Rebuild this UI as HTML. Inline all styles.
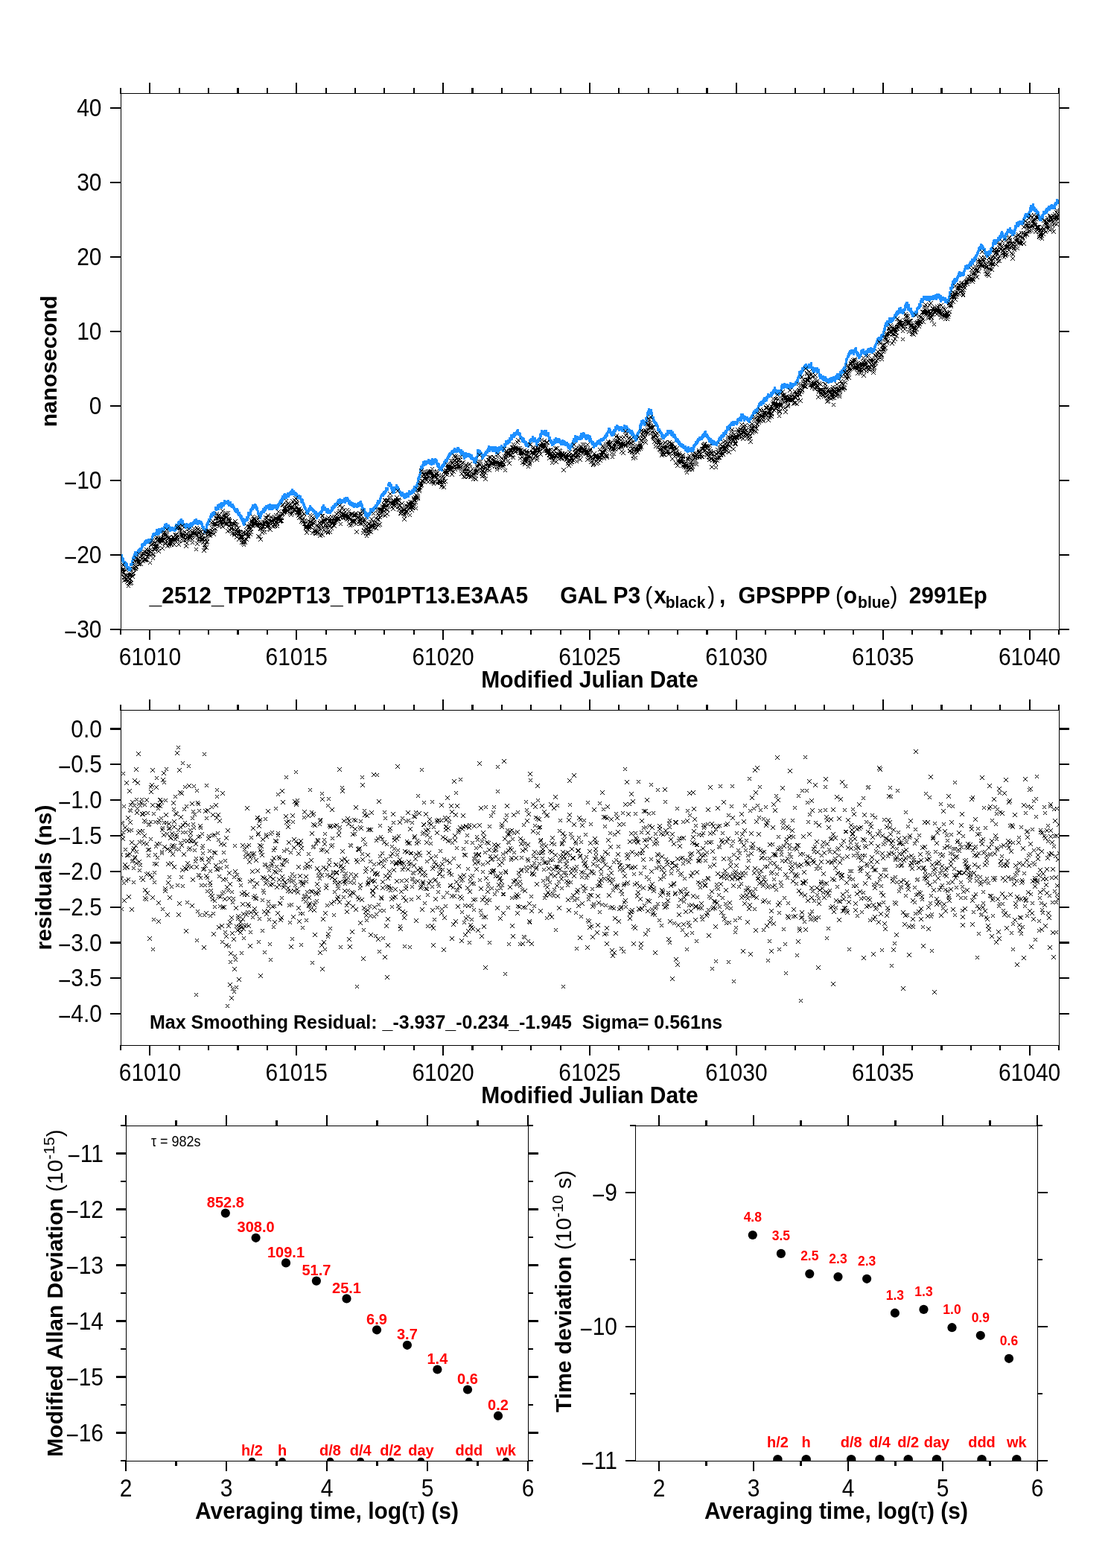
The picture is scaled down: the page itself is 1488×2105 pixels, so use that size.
<!DOCTYPE html>
<html><head><meta charset="utf-8"><title>plot</title><style>html,body{margin:0;padding:0;background:#fff;}svg{display:block;}</style></head><body>
<svg width="1488" height="2105" viewBox="0 0 1488 2105" font-family="'Liberation Sans', Arial, Helvetica, sans-serif">
<rect width="100%" height="100%" fill="#fff"/>
<clipPath id="c1"><rect x="162" y="125" width="1261" height="721"/></clipPath>
<clipPath id="c2"><rect x="162" y="953" width="1261" height="451"/></clipPath>
<path clip-path="url(#c1)" d="M160 744h3v4h-3zM161 744h3v4h-3zM161 744h3v4h-3zM162 744h3v4h-3zM162 747h3v4h-3zM163 748h3v4h-3zM163 749h3v4h-3zM163 750h3v4h-3zM164 749h3v4h-3zM164 752h3v4h-3zM165 754h3v4h-3zM165 753h3v4h-3zM166 753h3v4h-3zM166 753h3v4h-3zM166 755h3v4h-3zM167 757h3v4h-3zM167 754h3v4h-3zM168 755h3v4h-3zM168 756h3v4h-3zM169 756h3v4h-3zM169 759h3v4h-3zM169 760h3v4h-3zM170 760h3v4h-3zM170 760h3v4h-3zM171 762h3v4h-3zM171 760h3v4h-3zM171 762h3v4h-3zM172 762h3v4h-3zM172 763h3v4h-3zM173 763h3v4h-3zM173 763h3v4h-3zM174 762h3v4h-3zM174 761h3v4h-3zM174 756h3v4h-3zM175 756h3v4h-3zM175 756h3v4h-3zM176 755h3v4h-3zM176 752h3v4h-3zM177 754h3v4h-3zM177 749h3v4h-3zM177 748h3v4h-3zM178 749h3v4h-3zM178 746h3v4h-3zM179 743h3v4h-3zM179 743h3v4h-3zM179 746h3v4h-3zM180 743h3v4h-3zM180 740h3v4h-3zM181 742h3v4h-3zM181 742h3v4h-3zM182 742h3v4h-3zM182 741h3v4h-3zM182 741h3v4h-3zM183 740h3v4h-3zM183 743h3v4h-3zM184 739h3v4h-3zM184 738h3v4h-3zM185 739h3v4h-3zM185 738h3v4h-3zM185 737h3v4h-3zM186 738h3v4h-3zM186 736h3v4h-3zM187 736h3v4h-3zM187 737h3v4h-3zM187 735h3v4h-3zM188 736h3v4h-3zM188 735h3v4h-3zM189 730h3v4h-3zM189 733h3v4h-3zM190 731h3v4h-3zM190 729h3v4h-3zM190 731h3v4h-3zM191 729h3v4h-3zM191 729h3v4h-3zM192 729h3v4h-3zM192 728h3v4h-3zM193 729h3v4h-3zM193 728h3v4h-3zM193 726h3v4h-3zM194 725h3v4h-3zM194 727h3v4h-3zM195 726h3v4h-3zM195 725h3v4h-3zM195 724h3v4h-3zM196 724h3v4h-3zM196 726h3v4h-3zM197 726h3v4h-3zM197 725h3v4h-3zM198 724h3v4h-3zM198 726h3v4h-3zM198 723h3v4h-3zM199 724h3v4h-3zM199 723h3v4h-3zM200 726h3v4h-3zM200 725h3v4h-3zM201 723h3v4h-3zM201 725h3v4h-3zM201 724h3v4h-3zM202 723h3v4h-3zM202 724h3v4h-3zM203 719h3v4h-3zM203 720h3v4h-3zM203 719h3v4h-3zM204 716h3v4h-3zM204 717h3v4h-3zM205 715h3v4h-3zM205 715h3v4h-3zM206 716h3v4h-3zM206 716h3v4h-3zM206 715h3v4h-3zM207 715h3v4h-3zM207 715h3v4h-3zM208 715h3v4h-3zM208 714h3v4h-3zM209 715h3v4h-3zM209 710h3v4h-3zM209 714h3v4h-3zM210 712h3v4h-3zM210 715h3v4h-3zM211 712h3v4h-3zM211 710h3v4h-3zM211 711h3v4h-3zM212 709h3v4h-3zM212 714h3v4h-3zM213 710h3v4h-3zM213 709h3v4h-3zM214 711h3v4h-3zM214 711h3v4h-3zM214 709h3v4h-3zM215 712h3v4h-3zM215 710h3v4h-3zM216 708h3v4h-3zM216 708h3v4h-3zM217 709h3v4h-3zM217 708h3v4h-3zM217 710h3v4h-3zM218 708h3v4h-3zM218 709h3v4h-3zM219 708h3v4h-3zM219 706h3v4h-3zM219 707h3v4h-3zM220 703h3v4h-3zM220 705h3v4h-3zM221 705h3v4h-3zM221 705h3v4h-3zM222 704h3v4h-3zM222 702h3v4h-3zM222 703h3v4h-3zM223 706h3v4h-3zM223 707h3v4h-3zM224 704h3v4h-3zM224 705h3v4h-3zM225 706h3v4h-3zM225 704h3v4h-3zM225 708h3v4h-3zM226 708h3v4h-3zM226 706h3v4h-3zM227 709h3v4h-3zM227 710h3v4h-3zM228 708h3v4h-3zM228 708h3v4h-3zM228 708h3v4h-3zM229 707h3v4h-3zM229 707h3v4h-3zM230 709h3v4h-3zM230 709h3v4h-3zM230 707h3v4h-3zM231 708h3v4h-3zM231 708h3v4h-3zM232 709h3v4h-3zM232 709h3v4h-3zM233 708h3v4h-3zM233 708h3v4h-3zM233 710h3v4h-3zM234 709h3v4h-3zM234 706h3v4h-3zM235 708h3v4h-3zM235 703h3v4h-3zM236 706h3v4h-3zM236 703h3v4h-3zM236 704h3v4h-3zM237 704h3v4h-3zM237 704h3v4h-3zM238 705h3v4h-3zM238 702h3v4h-3zM238 700h3v4h-3zM239 702h3v4h-3zM239 699h3v4h-3zM240 700h3v4h-3zM240 700h3v4h-3zM241 698h3v4h-3zM241 697h3v4h-3zM241 700h3v4h-3zM242 696h3v4h-3zM242 698h3v4h-3zM243 701h3v4h-3zM243 701h3v4h-3zM244 698h3v4h-3zM244 701h3v4h-3zM244 702h3v4h-3zM245 702h3v4h-3zM245 703h3v4h-3zM246 704h3v4h-3zM246 704h3v4h-3zM246 704h3v4h-3zM247 703h3v4h-3zM247 704h3v4h-3zM248 703h3v4h-3zM248 706h3v4h-3zM249 703h3v4h-3zM249 702h3v4h-3zM249 704h3v4h-3zM250 703h3v4h-3zM250 705h3v4h-3zM251 703h3v4h-3zM251 705h3v4h-3zM252 705h3v4h-3zM252 703h3v4h-3zM252 707h3v4h-3zM253 703h3v4h-3zM253 704h3v4h-3zM254 706h3v4h-3zM254 702h3v4h-3zM254 703h3v4h-3zM255 702h3v4h-3zM255 701h3v4h-3zM256 701h3v4h-3zM256 704h3v4h-3zM257 702h3v4h-3zM257 701h3v4h-3zM257 702h3v4h-3zM258 701h3v4h-3zM258 700h3v4h-3zM259 700h3v4h-3zM259 699h3v4h-3zM260 698h3v4h-3zM260 700h3v4h-3zM260 697h3v4h-3zM261 698h3v4h-3zM261 700h3v4h-3zM262 698h3v4h-3zM262 696h3v4h-3zM262 700h3v4h-3zM263 699h3v4h-3zM263 700h3v4h-3zM264 699h3v4h-3zM264 701h3v4h-3zM265 698h3v4h-3zM265 698h3v4h-3zM265 699h3v4h-3zM266 698h3v4h-3zM266 700h3v4h-3zM267 700h3v4h-3zM267 699h3v4h-3zM268 699h3v4h-3zM268 700h3v4h-3zM268 700h3v4h-3zM269 700h3v4h-3zM269 701h3v4h-3zM270 703h3v4h-3zM270 702h3v4h-3zM270 704h3v4h-3zM271 706h3v4h-3zM271 706h3v4h-3zM272 707h3v4h-3zM272 706h3v4h-3zM273 710h3v4h-3zM273 711h3v4h-3zM273 712h3v4h-3zM274 712h3v4h-3zM274 711h3v4h-3zM275 710h3v4h-3zM275 709h3v4h-3zM276 706h3v4h-3zM276 707h3v4h-3zM276 703h3v4h-3zM277 701h3v4h-3zM277 702h3v4h-3zM278 701h3v4h-3zM278 701h3v4h-3zM278 699h3v4h-3zM279 698h3v4h-3zM279 696h3v4h-3zM280 696h3v4h-3zM280 697h3v4h-3zM281 694h3v4h-3zM281 692h3v4h-3zM281 693h3v4h-3zM282 690h3v4h-3zM282 689h3v4h-3zM283 691h3v4h-3zM283 689h3v4h-3zM284 687h3v4h-3zM284 689h3v4h-3zM284 688h3v4h-3zM285 688h3v4h-3zM285 687h3v4h-3zM286 688h3v4h-3zM286 687h3v4h-3zM286 686h3v4h-3zM287 687h3v4h-3zM287 687h3v4h-3zM288 681h3v4h-3zM288 680h3v4h-3zM289 681h3v4h-3zM289 682h3v4h-3zM289 682h3v4h-3zM290 681h3v4h-3zM290 681h3v4h-3zM291 677h3v4h-3zM291 678h3v4h-3zM292 681h3v4h-3zM292 677h3v4h-3zM292 677h3v4h-3zM293 676h3v4h-3zM293 676h3v4h-3zM294 677h3v4h-3zM294 677h3v4h-3zM295 675h3v4h-3zM295 678h3v4h-3zM295 677h3v4h-3zM296 674h3v4h-3zM296 679h3v4h-3zM297 675h3v4h-3zM297 676h3v4h-3zM297 677h3v4h-3zM298 676h3v4h-3zM298 674h3v4h-3zM299 675h3v4h-3zM299 676h3v4h-3zM300 674h3v4h-3zM300 673h3v4h-3zM300 671h3v4h-3zM301 673h3v4h-3zM301 672h3v4h-3zM302 673h3v4h-3zM302 673h3v4h-3zM303 672h3v4h-3zM303 673h3v4h-3zM303 673h3v4h-3zM304 672h3v4h-3zM304 672h3v4h-3zM305 671h3v4h-3zM305 673h3v4h-3zM305 674h3v4h-3zM306 675h3v4h-3zM306 676h3v4h-3zM307 675h3v4h-3zM307 674h3v4h-3zM308 674h3v4h-3zM308 673h3v4h-3zM308 675h3v4h-3zM309 676h3v4h-3zM309 677h3v4h-3zM310 678h3v4h-3zM310 678h3v4h-3zM311 676h3v4h-3zM311 678h3v4h-3zM311 677h3v4h-3zM312 678h3v4h-3zM312 679h3v4h-3zM313 680h3v4h-3zM313 681h3v4h-3zM313 681h3v4h-3zM314 682h3v4h-3zM314 683h3v4h-3zM315 684h3v4h-3zM315 683h3v4h-3zM316 683h3v4h-3zM316 685h3v4h-3zM316 683h3v4h-3zM317 682h3v4h-3zM317 685h3v4h-3zM318 684h3v4h-3zM318 687h3v4h-3zM319 688h3v4h-3zM319 689h3v4h-3zM319 687h3v4h-3zM320 687h3v4h-3zM320 688h3v4h-3zM321 691h3v4h-3zM321 691h3v4h-3zM321 690h3v4h-3zM322 691h3v4h-3zM322 693h3v4h-3zM323 692h3v4h-3zM323 695h3v4h-3zM324 696h3v4h-3zM324 695h3v4h-3zM324 697h3v4h-3zM325 695h3v4h-3zM325 700h3v4h-3zM326 699h3v4h-3zM326 702h3v4h-3zM327 701h3v4h-3zM327 701h3v4h-3zM327 699h3v4h-3zM328 697h3v4h-3zM328 696h3v4h-3zM329 696h3v4h-3zM329 696h3v4h-3zM329 696h3v4h-3zM330 696h3v4h-3zM330 693h3v4h-3zM331 693h3v4h-3zM331 695h3v4h-3zM332 691h3v4h-3zM332 692h3v4h-3zM332 687h3v4h-3zM333 688h3v4h-3zM333 689h3v4h-3zM334 688h3v4h-3zM334 688h3v4h-3zM335 687h3v4h-3zM335 684h3v4h-3zM335 683h3v4h-3zM336 682h3v4h-3zM336 683h3v4h-3zM337 681h3v4h-3zM337 681h3v4h-3zM337 680h3v4h-3zM338 677h3v4h-3zM338 681h3v4h-3zM339 677h3v4h-3zM339 678h3v4h-3zM340 679h3v4h-3zM340 678h3v4h-3zM340 678h3v4h-3zM341 676h3v4h-3zM341 676h3v4h-3zM342 678h3v4h-3zM342 677h3v4h-3zM343 679h3v4h-3zM343 681h3v4h-3zM343 680h3v4h-3zM344 681h3v4h-3zM344 682h3v4h-3zM345 685h3v4h-3zM345 686h3v4h-3zM345 687h3v4h-3zM346 688h3v4h-3zM346 689h3v4h-3zM347 689h3v4h-3zM347 691h3v4h-3zM348 692h3v4h-3zM348 693h3v4h-3zM348 688h3v4h-3zM349 690h3v4h-3zM349 686h3v4h-3zM350 687h3v4h-3zM350 686h3v4h-3zM351 685h3v4h-3zM351 685h3v4h-3zM351 685h3v4h-3zM352 684h3v4h-3zM352 682h3v4h-3zM353 683h3v4h-3zM353 685h3v4h-3zM354 681h3v4h-3zM354 683h3v4h-3zM354 680h3v4h-3zM355 682h3v4h-3zM355 682h3v4h-3zM356 680h3v4h-3zM356 680h3v4h-3zM356 678h3v4h-3zM357 678h3v4h-3zM357 679h3v4h-3zM358 679h3v4h-3zM358 679h3v4h-3zM359 678h3v4h-3zM359 678h3v4h-3zM359 677h3v4h-3zM360 681h3v4h-3zM360 677h3v4h-3zM361 679h3v4h-3zM361 676h3v4h-3zM362 677h3v4h-3zM362 677h3v4h-3zM362 681h3v4h-3zM363 678h3v4h-3zM363 679h3v4h-3zM364 678h3v4h-3zM364 678h3v4h-3zM364 681h3v4h-3zM365 680h3v4h-3zM365 677h3v4h-3zM366 679h3v4h-3zM366 677h3v4h-3zM367 678h3v4h-3zM367 677h3v4h-3zM367 678h3v4h-3zM368 679h3v4h-3zM368 677h3v4h-3zM369 677h3v4h-3zM369 678h3v4h-3zM370 680h3v4h-3zM370 681h3v4h-3zM370 679h3v4h-3zM371 680h3v4h-3zM371 679h3v4h-3zM372 678h3v4h-3zM372 676h3v4h-3zM372 678h3v4h-3zM373 676h3v4h-3zM373 675h3v4h-3zM374 674h3v4h-3zM374 673h3v4h-3zM375 674h3v4h-3zM375 673h3v4h-3zM375 671h3v4h-3zM376 672h3v4h-3zM376 670h3v4h-3zM377 672h3v4h-3zM377 668h3v4h-3zM378 669h3v4h-3zM378 669h3v4h-3zM378 665h3v4h-3zM379 667h3v4h-3zM379 666h3v4h-3zM380 667h3v4h-3zM380 663h3v4h-3zM380 663h3v4h-3zM381 662h3v4h-3zM381 664h3v4h-3zM382 663h3v4h-3zM382 664h3v4h-3zM383 666h3v4h-3zM383 664h3v4h-3zM383 663h3v4h-3zM384 663h3v4h-3zM384 663h3v4h-3zM385 661h3v4h-3zM385 662h3v4h-3zM386 662h3v4h-3zM386 664h3v4h-3zM386 661h3v4h-3zM387 662h3v4h-3zM387 661h3v4h-3zM388 660h3v4h-3zM388 660h3v4h-3zM388 660h3v4h-3zM389 661h3v4h-3zM389 659h3v4h-3zM390 660h3v4h-3zM390 658h3v4h-3zM391 656h3v4h-3zM391 658h3v4h-3zM391 658h3v4h-3zM392 659h3v4h-3zM392 661h3v4h-3zM393 660h3v4h-3zM393 658h3v4h-3zM394 660h3v4h-3zM394 660h3v4h-3zM394 660h3v4h-3zM395 660h3v4h-3zM395 662h3v4h-3zM396 662h3v4h-3zM396 663h3v4h-3zM396 661h3v4h-3zM397 662h3v4h-3zM397 662h3v4h-3zM398 665h3v4h-3zM398 665h3v4h-3zM399 666h3v4h-3zM399 666h3v4h-3zM399 666h3v4h-3zM400 664h3v4h-3zM400 666h3v4h-3zM401 666h3v4h-3zM401 666h3v4h-3zM402 665h3v4h-3zM402 666h3v4h-3zM402 667h3v4h-3zM403 671h3v4h-3zM403 669h3v4h-3zM404 669h3v4h-3zM404 672h3v4h-3zM404 669h3v4h-3zM405 670h3v4h-3zM405 671h3v4h-3zM406 674h3v4h-3zM406 675h3v4h-3zM407 676h3v4h-3zM407 677h3v4h-3zM407 678h3v4h-3zM408 679h3v4h-3zM408 680h3v4h-3zM409 681h3v4h-3zM409 681h3v4h-3zM410 684h3v4h-3zM410 684h3v4h-3zM410 686h3v4h-3zM411 685h3v4h-3zM411 687h3v4h-3zM412 687h3v4h-3zM412 685h3v4h-3zM413 684h3v4h-3zM413 682h3v4h-3zM413 683h3v4h-3zM414 681h3v4h-3zM414 682h3v4h-3zM415 680h3v4h-3zM415 679h3v4h-3zM415 678h3v4h-3zM416 680h3v4h-3zM416 682h3v4h-3zM417 681h3v4h-3zM417 681h3v4h-3zM418 682h3v4h-3zM418 682h3v4h-3zM418 682h3v4h-3zM419 683h3v4h-3zM419 684h3v4h-3zM420 684h3v4h-3zM420 684h3v4h-3zM421 685h3v4h-3zM421 687h3v4h-3zM421 686h3v4h-3zM422 687h3v4h-3zM422 687h3v4h-3zM423 686h3v4h-3zM423 689h3v4h-3zM423 691h3v4h-3zM424 689h3v4h-3zM424 693h3v4h-3zM425 691h3v4h-3zM425 690h3v4h-3zM426 689h3v4h-3zM426 688h3v4h-3zM426 690h3v4h-3zM427 689h3v4h-3zM427 689h3v4h-3zM428 687h3v4h-3zM428 687h3v4h-3zM429 687h3v4h-3zM429 686h3v4h-3zM429 686h3v4h-3zM430 687h3v4h-3zM430 685h3v4h-3zM431 684h3v4h-3zM431 683h3v4h-3zM431 680h3v4h-3zM432 680h3v4h-3zM432 679h3v4h-3zM433 677h3v4h-3zM433 681h3v4h-3zM434 681h3v4h-3zM434 680h3v4h-3zM434 682h3v4h-3zM435 680h3v4h-3zM435 680h3v4h-3zM436 682h3v4h-3zM436 682h3v4h-3zM437 684h3v4h-3zM437 683h3v4h-3zM437 685h3v4h-3zM438 684h3v4h-3zM438 684h3v4h-3zM439 686h3v4h-3zM439 684h3v4h-3zM439 682h3v4h-3zM440 684h3v4h-3zM440 684h3v4h-3zM441 685h3v4h-3zM441 684h3v4h-3zM442 686h3v4h-3zM442 684h3v4h-3zM442 684h3v4h-3zM443 684h3v4h-3zM443 684h3v4h-3zM444 683h3v4h-3zM444 680h3v4h-3zM445 682h3v4h-3zM445 682h3v4h-3zM445 681h3v4h-3zM446 680h3v4h-3zM446 678h3v4h-3zM447 679h3v4h-3zM447 679h3v4h-3zM447 679h3v4h-3zM448 678h3v4h-3zM448 676h3v4h-3zM449 675h3v4h-3zM449 676h3v4h-3zM450 676h3v4h-3zM450 676h3v4h-3zM450 675h3v4h-3zM451 675h3v4h-3zM451 674h3v4h-3zM452 674h3v4h-3zM452 672h3v4h-3zM453 672h3v4h-3zM453 673h3v4h-3zM453 670h3v4h-3zM454 670h3v4h-3zM454 672h3v4h-3zM455 670h3v4h-3zM455 670h3v4h-3zM455 669h3v4h-3zM456 673h3v4h-3zM456 671h3v4h-3zM457 670h3v4h-3zM457 671h3v4h-3zM458 672h3v4h-3zM458 670h3v4h-3zM458 670h3v4h-3zM459 671h3v4h-3zM459 671h3v4h-3zM460 671h3v4h-3zM460 671h3v4h-3zM461 668h3v4h-3zM461 670h3v4h-3zM461 670h3v4h-3zM462 670h3v4h-3zM462 672h3v4h-3zM463 670h3v4h-3zM463 669h3v4h-3zM463 667h3v4h-3zM464 668h3v4h-3zM464 669h3v4h-3zM465 667h3v4h-3zM465 670h3v4h-3zM466 670h3v4h-3zM466 670h3v4h-3zM466 669h3v4h-3zM467 673h3v4h-3zM467 673h3v4h-3zM468 674h3v4h-3zM468 671h3v4h-3zM469 675h3v4h-3zM469 673h3v4h-3zM469 673h3v4h-3zM470 674h3v4h-3zM470 673h3v4h-3zM471 675h3v4h-3zM471 674h3v4h-3zM471 676h3v4h-3zM472 675h3v4h-3zM472 674h3v4h-3zM473 675h3v4h-3zM473 677h3v4h-3zM474 677h3v4h-3zM474 677h3v4h-3zM474 678h3v4h-3zM475 676h3v4h-3zM475 675h3v4h-3zM476 676h3v4h-3zM476 676h3v4h-3zM477 676h3v4h-3zM477 677h3v4h-3zM477 676h3v4h-3zM478 678h3v4h-3zM478 676h3v4h-3zM479 675h3v4h-3zM479 676h3v4h-3zM480 674h3v4h-3zM480 677h3v4h-3zM480 674h3v4h-3zM481 676h3v4h-3zM481 674h3v4h-3zM482 675h3v4h-3zM482 673h3v4h-3zM482 674h3v4h-3zM483 672h3v4h-3zM483 676h3v4h-3zM484 675h3v4h-3zM484 677h3v4h-3zM485 677h3v4h-3zM485 680h3v4h-3zM485 678h3v4h-3zM486 681h3v4h-3zM486 683h3v4h-3zM487 683h3v4h-3zM487 682h3v4h-3zM488 682h3v4h-3zM488 685h3v4h-3zM488 686h3v4h-3zM489 686h3v4h-3zM489 689h3v4h-3zM490 687h3v4h-3zM490 690h3v4h-3zM490 689h3v4h-3zM491 690h3v4h-3zM491 691h3v4h-3zM492 693h3v4h-3zM492 690h3v4h-3zM493 688h3v4h-3zM493 690h3v4h-3zM493 688h3v4h-3zM494 688h3v4h-3zM494 689h3v4h-3zM495 688h3v4h-3zM495 687h3v4h-3zM496 686h3v4h-3zM496 685h3v4h-3zM496 682h3v4h-3zM497 684h3v4h-3zM497 684h3v4h-3zM498 684h3v4h-3zM498 682h3v4h-3zM498 685h3v4h-3zM499 683h3v4h-3zM499 682h3v4h-3zM500 683h3v4h-3zM500 681h3v4h-3zM501 681h3v4h-3zM501 680h3v4h-3zM501 680h3v4h-3zM502 679h3v4h-3zM502 680h3v4h-3zM503 680h3v4h-3zM503 677h3v4h-3zM504 679h3v4h-3zM504 677h3v4h-3zM504 679h3v4h-3zM505 674h3v4h-3zM505 676h3v4h-3zM506 674h3v4h-3zM506 674h3v4h-3zM506 671h3v4h-3zM507 671h3v4h-3zM507 673h3v4h-3zM508 672h3v4h-3zM508 671h3v4h-3zM509 670h3v4h-3zM509 668h3v4h-3zM509 670h3v4h-3zM510 666h3v4h-3zM510 665h3v4h-3zM511 663h3v4h-3zM511 663h3v4h-3zM512 663h3v4h-3zM512 663h3v4h-3zM512 662h3v4h-3zM513 661h3v4h-3zM513 663h3v4h-3zM514 661h3v4h-3zM514 660h3v4h-3zM514 659h3v4h-3zM515 660h3v4h-3zM515 659h3v4h-3zM516 659h3v4h-3zM516 658h3v4h-3zM517 657h3v4h-3zM517 654h3v4h-3zM517 654h3v4h-3zM518 655h3v4h-3zM518 654h3v4h-3zM519 654h3v4h-3zM519 655h3v4h-3zM520 649h3v4h-3zM520 649h3v4h-3zM520 649h3v4h-3zM521 649h3v4h-3zM521 647h3v4h-3zM522 647h3v4h-3zM522 647h3v4h-3zM522 650h3v4h-3zM523 649h3v4h-3zM523 650h3v4h-3zM524 650h3v4h-3zM524 653h3v4h-3zM525 653h3v4h-3zM525 655h3v4h-3zM525 656h3v4h-3zM526 657h3v4h-3zM526 659h3v4h-3zM527 658h3v4h-3zM527 659h3v4h-3zM528 658h3v4h-3zM528 657h3v4h-3zM528 653h3v4h-3zM529 655h3v4h-3zM529 654h3v4h-3zM530 653h3v4h-3zM530 654h3v4h-3zM530 653h3v4h-3zM531 650h3v4h-3zM531 652h3v4h-3zM532 652h3v4h-3zM532 654h3v4h-3zM533 653h3v4h-3zM533 653h3v4h-3zM533 654h3v4h-3zM534 655h3v4h-3zM534 655h3v4h-3zM535 658h3v4h-3zM535 658h3v4h-3zM536 659h3v4h-3zM536 660h3v4h-3zM536 660h3v4h-3zM537 662h3v4h-3zM537 661h3v4h-3zM538 663h3v4h-3zM538 663h3v4h-3zM538 662h3v4h-3zM539 660h3v4h-3zM539 662h3v4h-3zM540 663h3v4h-3zM540 663h3v4h-3zM541 663h3v4h-3zM541 662h3v4h-3zM541 665h3v4h-3zM542 666h3v4h-3zM542 664h3v4h-3zM543 665h3v4h-3zM543 664h3v4h-3zM544 662h3v4h-3zM544 665h3v4h-3zM544 664h3v4h-3zM545 663h3v4h-3zM545 661h3v4h-3zM546 662h3v4h-3zM546 663h3v4h-3zM547 662h3v4h-3zM547 664h3v4h-3zM547 663h3v4h-3zM548 661h3v4h-3zM548 658h3v4h-3zM549 659h3v4h-3zM549 661h3v4h-3zM549 659h3v4h-3zM550 660h3v4h-3zM550 660h3v4h-3zM551 660h3v4h-3zM551 660h3v4h-3zM552 659h3v4h-3zM552 657h3v4h-3zM552 659h3v4h-3zM553 657h3v4h-3zM553 657h3v4h-3zM554 658h3v4h-3zM554 655h3v4h-3zM555 652h3v4h-3zM555 654h3v4h-3zM555 655h3v4h-3zM556 655h3v4h-3zM556 655h3v4h-3zM557 656h3v4h-3zM557 655h3v4h-3zM557 652h3v4h-3zM558 650h3v4h-3zM558 651h3v4h-3zM559 649h3v4h-3zM559 647h3v4h-3zM560 645h3v4h-3zM560 641h3v4h-3zM560 643h3v4h-3zM561 641h3v4h-3zM561 639h3v4h-3zM562 638h3v4h-3zM562 636h3v4h-3zM563 634h3v4h-3zM563 631h3v4h-3zM563 629h3v4h-3zM564 628h3v4h-3zM564 625h3v4h-3zM565 625h3v4h-3zM565 626h3v4h-3zM565 625h3v4h-3zM566 623h3v4h-3zM566 625h3v4h-3zM567 622h3v4h-3zM567 619h3v4h-3zM568 622h3v4h-3zM568 620h3v4h-3zM568 622h3v4h-3zM569 620h3v4h-3zM569 618h3v4h-3zM570 621h3v4h-3zM570 621h3v4h-3zM571 620h3v4h-3zM571 619h3v4h-3zM571 619h3v4h-3zM572 619h3v4h-3zM572 618h3v4h-3zM573 618h3v4h-3zM573 618h3v4h-3zM573 618h3v4h-3zM574 616h3v4h-3zM574 617h3v4h-3zM575 619h3v4h-3zM575 618h3v4h-3zM576 620h3v4h-3zM576 617h3v4h-3zM576 619h3v4h-3zM577 619h3v4h-3zM577 618h3v4h-3zM578 617h3v4h-3zM578 621h3v4h-3zM579 615h3v4h-3zM579 619h3v4h-3zM579 618h3v4h-3zM580 619h3v4h-3zM580 619h3v4h-3zM581 618h3v4h-3zM581 616h3v4h-3zM581 620h3v4h-3zM582 618h3v4h-3zM582 618h3v4h-3zM583 618h3v4h-3zM583 615h3v4h-3zM584 616h3v4h-3zM584 618h3v4h-3zM584 618h3v4h-3zM585 617h3v4h-3zM585 620h3v4h-3zM586 621h3v4h-3zM586 623h3v4h-3zM587 624h3v4h-3zM587 621h3v4h-3zM587 623h3v4h-3zM588 625h3v4h-3zM588 622h3v4h-3zM589 626h3v4h-3zM589 626h3v4h-3zM589 628h3v4h-3zM590 626h3v4h-3zM590 628h3v4h-3zM591 627h3v4h-3zM591 627h3v4h-3zM592 629h3v4h-3zM592 627h3v4h-3zM592 624h3v4h-3zM593 624h3v4h-3zM593 623h3v4h-3zM594 622h3v4h-3zM594 623h3v4h-3zM595 622h3v4h-3zM595 621h3v4h-3zM595 619h3v4h-3zM596 620h3v4h-3zM596 618h3v4h-3zM597 618h3v4h-3zM597 618h3v4h-3zM597 616h3v4h-3zM598 616h3v4h-3zM598 617h3v4h-3zM599 614h3v4h-3zM599 616h3v4h-3zM600 613h3v4h-3zM600 613h3v4h-3zM600 612h3v4h-3zM601 611h3v4h-3zM601 610h3v4h-3zM602 610h3v4h-3zM602 608h3v4h-3zM603 608h3v4h-3zM603 607h3v4h-3zM603 608h3v4h-3zM604 607h3v4h-3zM604 607h3v4h-3zM605 605h3v4h-3zM605 606h3v4h-3zM606 606h3v4h-3zM606 605h3v4h-3zM606 604h3v4h-3zM607 605h3v4h-3zM607 605h3v4h-3zM608 604h3v4h-3zM608 603h3v4h-3zM608 603h3v4h-3zM609 601h3v4h-3zM609 602h3v4h-3zM610 602h3v4h-3zM610 603h3v4h-3zM611 602h3v4h-3zM611 602h3v4h-3zM611 604h3v4h-3zM612 604h3v4h-3zM612 602h3v4h-3zM613 600h3v4h-3zM613 602h3v4h-3zM614 602h3v4h-3zM614 600h3v4h-3zM614 603h3v4h-3zM615 602h3v4h-3zM615 602h3v4h-3zM616 603h3v4h-3zM616 604h3v4h-3zM616 603h3v4h-3zM617 604h3v4h-3zM617 605h3v4h-3zM618 608h3v4h-3zM618 603h3v4h-3zM619 605h3v4h-3zM619 606h3v4h-3zM619 606h3v4h-3zM620 606h3v4h-3zM620 605h3v4h-3zM621 608h3v4h-3zM621 610h3v4h-3zM622 613h3v4h-3zM622 613h3v4h-3zM622 610h3v4h-3zM623 610h3v4h-3zM623 607h3v4h-3zM624 607h3v4h-3zM624 609h3v4h-3zM624 611h3v4h-3zM625 608h3v4h-3zM625 608h3v4h-3zM626 608h3v4h-3zM626 608h3v4h-3zM627 609h3v4h-3zM627 610h3v4h-3zM627 609h3v4h-3zM628 608h3v4h-3zM628 609h3v4h-3zM629 609h3v4h-3zM629 610h3v4h-3zM630 609h3v4h-3zM630 611h3v4h-3zM630 610h3v4h-3zM631 610h3v4h-3zM631 613h3v4h-3zM632 611h3v4h-3zM632 612h3v4h-3zM632 610h3v4h-3zM633 613h3v4h-3zM633 614h3v4h-3zM634 614h3v4h-3zM634 614h3v4h-3zM635 614h3v4h-3zM635 615h3v4h-3zM635 618h3v4h-3zM636 616h3v4h-3zM636 618h3v4h-3zM637 619h3v4h-3zM637 617h3v4h-3zM638 618h3v4h-3zM638 614h3v4h-3zM638 613h3v4h-3zM639 612h3v4h-3zM639 612h3v4h-3zM640 608h3v4h-3zM640 606h3v4h-3zM640 603h3v4h-3zM641 603h3v4h-3zM641 604h3v4h-3zM642 604h3v4h-3zM642 605h3v4h-3zM643 604h3v4h-3zM643 607h3v4h-3zM643 607h3v4h-3zM644 606h3v4h-3zM644 607h3v4h-3zM645 607h3v4h-3zM645 607h3v4h-3zM646 609h3v4h-3zM646 613h3v4h-3zM646 611h3v4h-3zM647 611h3v4h-3zM647 612h3v4h-3zM648 610h3v4h-3zM648 610h3v4h-3zM648 609h3v4h-3zM649 609h3v4h-3zM649 609h3v4h-3zM650 607h3v4h-3zM650 607h3v4h-3zM651 605h3v4h-3zM651 608h3v4h-3zM651 607h3v4h-3zM652 605h3v4h-3zM652 605h3v4h-3zM653 605h3v4h-3zM653 603h3v4h-3zM654 603h3v4h-3zM654 601h3v4h-3zM654 602h3v4h-3zM655 601h3v4h-3zM655 598h3v4h-3zM656 600h3v4h-3zM656 600h3v4h-3zM656 603h3v4h-3zM657 599h3v4h-3zM657 600h3v4h-3zM658 600h3v4h-3zM658 599h3v4h-3zM659 601h3v4h-3zM659 600h3v4h-3zM659 600h3v4h-3zM660 603h3v4h-3zM660 600h3v4h-3zM661 602h3v4h-3zM661 599h3v4h-3zM662 601h3v4h-3zM662 600h3v4h-3zM662 600h3v4h-3zM663 602h3v4h-3zM663 603h3v4h-3zM664 602h3v4h-3zM664 599h3v4h-3zM665 603h3v4h-3zM665 603h3v4h-3zM665 606h3v4h-3zM666 604h3v4h-3zM666 600h3v4h-3zM667 604h3v4h-3zM667 605h3v4h-3zM667 602h3v4h-3zM668 603h3v4h-3zM668 601h3v4h-3zM669 599h3v4h-3zM669 602h3v4h-3zM670 599h3v4h-3zM670 601h3v4h-3zM670 600h3v4h-3zM671 599h3v4h-3zM671 599h3v4h-3zM672 597h3v4h-3zM672 600h3v4h-3zM673 600h3v4h-3zM673 600h3v4h-3zM673 601h3v4h-3zM674 601h3v4h-3zM674 603h3v4h-3zM675 600h3v4h-3zM675 599h3v4h-3zM675 601h3v4h-3zM676 598h3v4h-3zM676 595h3v4h-3zM677 596h3v4h-3zM677 595h3v4h-3zM678 594h3v4h-3zM678 594h3v4h-3zM678 591h3v4h-3zM679 592h3v4h-3zM679 593h3v4h-3zM680 593h3v4h-3zM680 593h3v4h-3zM681 592h3v4h-3zM681 592h3v4h-3zM681 590h3v4h-3zM682 590h3v4h-3zM682 590h3v4h-3zM683 591h3v4h-3zM683 588h3v4h-3zM683 587h3v4h-3zM684 588h3v4h-3zM684 588h3v4h-3zM685 583h3v4h-3zM685 585h3v4h-3zM686 587h3v4h-3zM686 584h3v4h-3zM686 585h3v4h-3zM687 583h3v4h-3zM687 583h3v4h-3zM688 584h3v4h-3zM688 582h3v4h-3zM689 584h3v4h-3zM689 584h3v4h-3zM689 580h3v4h-3zM690 581h3v4h-3zM690 582h3v4h-3zM691 580h3v4h-3zM691 580h3v4h-3zM691 581h3v4h-3zM692 580h3v4h-3zM692 579h3v4h-3zM693 579h3v4h-3zM693 577h3v4h-3zM694 576h3v4h-3zM694 578h3v4h-3zM694 580h3v4h-3zM695 580h3v4h-3zM695 581h3v4h-3zM696 580h3v4h-3zM696 581h3v4h-3zM697 581h3v4h-3zM697 584h3v4h-3zM697 584h3v4h-3zM698 585h3v4h-3zM698 586h3v4h-3zM699 586h3v4h-3zM699 587h3v4h-3zM699 587h3v4h-3zM700 590h3v4h-3zM700 588h3v4h-3zM701 589h3v4h-3zM701 587h3v4h-3zM702 589h3v4h-3zM702 591h3v4h-3zM702 588h3v4h-3zM703 591h3v4h-3zM703 591h3v4h-3zM704 592h3v4h-3zM704 594h3v4h-3zM705 594h3v4h-3zM705 592h3v4h-3zM705 596h3v4h-3zM706 596h3v4h-3zM706 596h3v4h-3zM707 595h3v4h-3zM707 595h3v4h-3zM707 594h3v4h-3zM708 597h3v4h-3zM708 594h3v4h-3zM709 594h3v4h-3zM709 595h3v4h-3zM710 595h3v4h-3zM710 592h3v4h-3zM710 590h3v4h-3zM711 590h3v4h-3zM711 589h3v4h-3zM712 589h3v4h-3zM712 588h3v4h-3zM713 588h3v4h-3zM713 588h3v4h-3zM713 589h3v4h-3zM714 585h3v4h-3zM714 587h3v4h-3zM715 588h3v4h-3zM715 587h3v4h-3zM715 590h3v4h-3zM716 588h3v4h-3zM716 589h3v4h-3zM717 587h3v4h-3zM717 590h3v4h-3zM718 590h3v4h-3zM718 590h3v4h-3zM718 590h3v4h-3zM719 592h3v4h-3zM719 594h3v4h-3zM720 596h3v4h-3zM720 591h3v4h-3zM721 591h3v4h-3zM721 589h3v4h-3zM721 591h3v4h-3zM722 588h3v4h-3zM722 588h3v4h-3zM723 587h3v4h-3zM723 589h3v4h-3zM723 588h3v4h-3zM724 585h3v4h-3zM724 582h3v4h-3zM725 583h3v4h-3zM725 581h3v4h-3zM726 578h3v4h-3zM726 578h3v4h-3zM726 577h3v4h-3zM727 578h3v4h-3zM727 579h3v4h-3zM728 580h3v4h-3zM728 579h3v4h-3zM729 579h3v4h-3zM729 579h3v4h-3zM729 578h3v4h-3zM730 581h3v4h-3zM730 577h3v4h-3zM731 578h3v4h-3zM731 577h3v4h-3zM732 582h3v4h-3zM732 577h3v4h-3zM732 580h3v4h-3zM733 580h3v4h-3zM733 582h3v4h-3zM734 581h3v4h-3zM734 582h3v4h-3zM734 582h3v4h-3zM735 580h3v4h-3zM735 583h3v4h-3zM736 588h3v4h-3zM736 586h3v4h-3zM737 587h3v4h-3zM737 589h3v4h-3zM737 586h3v4h-3zM738 591h3v4h-3zM738 591h3v4h-3zM739 590h3v4h-3zM739 592h3v4h-3zM740 595h3v4h-3zM740 593h3v4h-3zM740 594h3v4h-3zM741 594h3v4h-3zM741 592h3v4h-3zM742 592h3v4h-3zM742 594h3v4h-3zM742 594h3v4h-3zM743 591h3v4h-3zM743 589h3v4h-3zM744 592h3v4h-3zM744 592h3v4h-3zM745 590h3v4h-3zM745 590h3v4h-3zM745 587h3v4h-3zM746 588h3v4h-3zM746 588h3v4h-3zM747 591h3v4h-3zM747 589h3v4h-3zM748 590h3v4h-3zM748 588h3v4h-3zM748 589h3v4h-3zM749 589h3v4h-3zM749 588h3v4h-3zM750 589h3v4h-3zM750 591h3v4h-3zM750 591h3v4h-3zM751 591h3v4h-3zM751 592h3v4h-3zM752 591h3v4h-3zM752 594h3v4h-3zM753 592h3v4h-3zM753 592h3v4h-3zM753 592h3v4h-3zM754 594h3v4h-3zM754 590h3v4h-3zM755 591h3v4h-3zM755 593h3v4h-3zM756 591h3v4h-3zM756 594h3v4h-3zM756 593h3v4h-3zM757 592h3v4h-3zM757 593h3v4h-3zM758 593h3v4h-3zM758 594h3v4h-3zM758 595h3v4h-3zM759 593h3v4h-3zM759 594h3v4h-3zM760 595h3v4h-3zM760 593h3v4h-3zM761 597h3v4h-3zM761 596h3v4h-3zM761 596h3v4h-3zM762 599h3v4h-3zM762 595h3v4h-3zM763 599h3v4h-3zM763 599h3v4h-3zM764 598h3v4h-3zM764 601h3v4h-3zM764 600h3v4h-3zM765 598h3v4h-3zM765 597h3v4h-3zM766 597h3v4h-3zM766 595h3v4h-3zM766 595h3v4h-3zM767 597h3v4h-3zM767 594h3v4h-3zM768 593h3v4h-3zM768 591h3v4h-3zM769 593h3v4h-3zM769 588h3v4h-3zM769 588h3v4h-3zM770 590h3v4h-3zM770 588h3v4h-3zM771 586h3v4h-3zM771 584h3v4h-3zM772 586h3v4h-3zM772 587h3v4h-3zM772 586h3v4h-3zM773 590h3v4h-3zM773 585h3v4h-3zM774 585h3v4h-3zM774 586h3v4h-3zM774 586h3v4h-3zM775 587h3v4h-3zM775 586h3v4h-3zM776 586h3v4h-3zM776 587h3v4h-3zM777 586h3v4h-3zM777 586h3v4h-3zM777 586h3v4h-3zM778 587h3v4h-3zM778 584h3v4h-3zM779 581h3v4h-3zM779 583h3v4h-3zM780 586h3v4h-3zM780 584h3v4h-3zM780 581h3v4h-3zM781 582h3v4h-3zM781 581h3v4h-3zM782 580h3v4h-3zM782 582h3v4h-3zM782 584h3v4h-3zM783 581h3v4h-3zM783 581h3v4h-3zM784 583h3v4h-3zM784 583h3v4h-3zM785 586h3v4h-3zM785 585h3v4h-3zM785 584h3v4h-3zM786 587h3v4h-3zM786 586h3v4h-3zM787 584h3v4h-3zM787 583h3v4h-3zM788 584h3v4h-3zM788 586h3v4h-3zM788 583h3v4h-3zM789 585h3v4h-3zM789 585h3v4h-3zM790 589h3v4h-3zM790 584h3v4h-3zM790 585h3v4h-3zM791 585h3v4h-3zM791 590h3v4h-3zM792 588h3v4h-3zM792 590h3v4h-3zM793 591h3v4h-3zM793 591h3v4h-3zM793 592h3v4h-3zM794 592h3v4h-3zM794 594h3v4h-3zM795 593h3v4h-3zM795 592h3v4h-3zM796 594h3v4h-3zM796 594h3v4h-3zM796 598h3v4h-3zM797 596h3v4h-3zM797 596h3v4h-3zM798 595h3v4h-3zM798 595h3v4h-3zM799 596h3v4h-3zM799 595h3v4h-3zM799 594h3v4h-3zM800 593h3v4h-3zM800 594h3v4h-3zM801 593h3v4h-3zM801 591h3v4h-3zM801 593h3v4h-3zM802 592h3v4h-3zM802 592h3v4h-3zM803 593h3v4h-3zM803 590h3v4h-3zM804 592h3v4h-3zM804 591h3v4h-3zM804 590h3v4h-3zM805 589h3v4h-3zM805 594h3v4h-3zM806 589h3v4h-3zM806 588h3v4h-3zM807 588h3v4h-3zM807 589h3v4h-3zM807 588h3v4h-3zM808 588h3v4h-3zM808 588h3v4h-3zM809 588h3v4h-3zM809 587h3v4h-3zM809 587h3v4h-3zM810 586h3v4h-3zM810 586h3v4h-3zM811 585h3v4h-3zM811 584h3v4h-3zM812 585h3v4h-3zM812 585h3v4h-3zM812 583h3v4h-3zM813 583h3v4h-3zM813 581h3v4h-3zM814 582h3v4h-3zM814 580h3v4h-3zM815 578h3v4h-3zM815 578h3v4h-3zM815 578h3v4h-3zM816 575h3v4h-3zM816 574h3v4h-3zM817 576h3v4h-3zM817 574h3v4h-3zM817 575h3v4h-3zM818 576h3v4h-3zM818 578h3v4h-3zM819 579h3v4h-3zM819 580h3v4h-3zM820 579h3v4h-3zM820 581h3v4h-3zM820 582h3v4h-3zM821 582h3v4h-3zM821 582h3v4h-3zM822 578h3v4h-3zM822 581h3v4h-3zM823 580h3v4h-3zM823 579h3v4h-3zM823 576h3v4h-3zM824 576h3v4h-3zM824 577h3v4h-3zM825 576h3v4h-3zM825 575h3v4h-3zM825 572h3v4h-3zM826 574h3v4h-3zM826 573h3v4h-3zM827 571h3v4h-3zM827 570h3v4h-3zM828 571h3v4h-3zM828 572h3v4h-3zM828 573h3v4h-3zM829 573h3v4h-3zM829 572h3v4h-3zM830 575h3v4h-3zM830 573h3v4h-3zM831 572h3v4h-3zM831 574h3v4h-3zM831 574h3v4h-3zM832 574h3v4h-3zM832 573h3v4h-3zM833 574h3v4h-3zM833 572h3v4h-3zM833 573h3v4h-3zM834 573h3v4h-3zM834 576h3v4h-3zM835 575h3v4h-3zM835 575h3v4h-3zM836 576h3v4h-3zM836 573h3v4h-3zM836 573h3v4h-3zM837 571h3v4h-3zM837 570h3v4h-3zM838 571h3v4h-3zM838 571h3v4h-3zM839 572h3v4h-3zM839 573h3v4h-3zM839 573h3v4h-3zM840 571h3v4h-3zM840 573h3v4h-3zM841 577h3v4h-3zM841 573h3v4h-3zM841 574h3v4h-3zM842 575h3v4h-3zM842 577h3v4h-3zM843 575h3v4h-3zM843 577h3v4h-3zM844 577h3v4h-3zM844 576h3v4h-3zM844 577h3v4h-3zM845 577h3v4h-3zM845 579h3v4h-3zM846 577h3v4h-3zM846 579h3v4h-3zM847 577h3v4h-3zM847 581h3v4h-3zM847 579h3v4h-3zM848 579h3v4h-3zM848 581h3v4h-3zM849 581h3v4h-3zM849 583h3v4h-3zM849 585h3v4h-3zM850 584h3v4h-3zM850 583h3v4h-3zM851 584h3v4h-3zM851 586h3v4h-3zM852 585h3v4h-3zM852 586h3v4h-3zM852 589h3v4h-3zM853 588h3v4h-3zM853 588h3v4h-3zM854 587h3v4h-3zM854 582h3v4h-3zM855 584h3v4h-3zM855 580h3v4h-3zM855 580h3v4h-3zM856 579h3v4h-3zM856 579h3v4h-3zM857 577h3v4h-3zM857 577h3v4h-3zM858 575h3v4h-3zM858 570h3v4h-3zM858 573h3v4h-3zM859 572h3v4h-3zM859 568h3v4h-3zM860 568h3v4h-3zM860 568h3v4h-3zM860 564h3v4h-3zM861 565h3v4h-3zM861 566h3v4h-3zM862 565h3v4h-3zM862 563h3v4h-3zM863 566h3v4h-3zM863 564h3v4h-3zM863 566h3v4h-3zM864 566h3v4h-3zM864 568h3v4h-3zM865 566h3v4h-3zM865 566h3v4h-3zM866 565h3v4h-3zM866 565h3v4h-3zM866 560h3v4h-3zM867 562h3v4h-3zM867 560h3v4h-3zM868 558h3v4h-3zM868 555h3v4h-3zM868 553h3v4h-3zM869 553h3v4h-3zM869 551h3v4h-3zM870 548h3v4h-3zM870 548h3v4h-3zM871 549h3v4h-3zM871 549h3v4h-3zM871 553h3v4h-3zM872 551h3v4h-3zM872 551h3v4h-3zM873 549h3v4h-3zM873 552h3v4h-3zM874 553h3v4h-3zM874 553h3v4h-3zM874 555h3v4h-3zM875 559h3v4h-3zM875 559h3v4h-3zM876 559h3v4h-3zM876 561h3v4h-3zM876 562h3v4h-3zM877 563h3v4h-3zM877 564h3v4h-3zM878 565h3v4h-3zM878 565h3v4h-3zM879 566h3v4h-3zM879 567h3v4h-3zM879 566h3v4h-3zM880 569h3v4h-3zM880 567h3v4h-3zM881 569h3v4h-3zM881 569h3v4h-3zM882 571h3v4h-3zM882 572h3v4h-3zM882 575h3v4h-3zM883 575h3v4h-3zM883 575h3v4h-3zM884 575h3v4h-3zM884 576h3v4h-3zM884 577h3v4h-3zM885 578h3v4h-3zM885 577h3v4h-3zM886 579h3v4h-3zM886 579h3v4h-3zM887 580h3v4h-3zM887 583h3v4h-3zM887 582h3v4h-3zM888 582h3v4h-3zM888 584h3v4h-3zM889 586h3v4h-3zM889 585h3v4h-3zM890 583h3v4h-3zM890 586h3v4h-3zM890 585h3v4h-3zM891 584h3v4h-3zM891 584h3v4h-3zM892 583h3v4h-3zM892 583h3v4h-3zM892 583h3v4h-3zM893 582h3v4h-3zM893 581h3v4h-3zM894 581h3v4h-3zM894 581h3v4h-3zM895 581h3v4h-3zM895 581h3v4h-3zM895 577h3v4h-3zM896 578h3v4h-3zM896 577h3v4h-3zM897 577h3v4h-3zM897 577h3v4h-3zM898 578h3v4h-3zM898 579h3v4h-3zM898 578h3v4h-3zM899 578h3v4h-3zM899 577h3v4h-3zM900 578h3v4h-3zM900 577h3v4h-3zM900 581h3v4h-3zM901 581h3v4h-3zM901 582h3v4h-3zM902 579h3v4h-3zM902 581h3v4h-3zM903 583h3v4h-3zM903 583h3v4h-3zM903 584h3v4h-3zM904 582h3v4h-3zM904 583h3v4h-3zM905 583h3v4h-3zM905 585h3v4h-3zM906 587h3v4h-3zM906 589h3v4h-3zM906 586h3v4h-3zM907 588h3v4h-3zM907 590h3v4h-3zM908 588h3v4h-3zM908 590h3v4h-3zM908 590h3v4h-3zM909 589h3v4h-3zM909 591h3v4h-3zM910 593h3v4h-3zM910 591h3v4h-3zM911 594h3v4h-3zM911 594h3v4h-3zM911 592h3v4h-3zM912 594h3v4h-3zM912 595h3v4h-3zM913 595h3v4h-3zM913 596h3v4h-3zM914 597h3v4h-3zM914 596h3v4h-3zM914 595h3v4h-3zM915 597h3v4h-3zM915 596h3v4h-3zM916 597h3v4h-3zM916 596h3v4h-3zM916 598h3v4h-3zM917 599h3v4h-3zM917 599h3v4h-3zM918 598h3v4h-3zM918 599h3v4h-3zM919 598h3v4h-3zM919 602h3v4h-3zM919 601h3v4h-3zM920 601h3v4h-3zM920 602h3v4h-3zM921 602h3v4h-3zM921 603h3v4h-3zM922 604h3v4h-3zM922 601h3v4h-3zM922 600h3v4h-3zM923 603h3v4h-3zM923 599h3v4h-3zM924 603h3v4h-3zM924 601h3v4h-3zM925 602h3v4h-3zM925 602h3v4h-3zM925 601h3v4h-3zM926 602h3v4h-3zM926 601h3v4h-3zM927 601h3v4h-3zM927 603h3v4h-3zM927 600h3v4h-3zM928 601h3v4h-3zM928 601h3v4h-3zM929 601h3v4h-3zM929 603h3v4h-3zM930 601h3v4h-3zM930 600h3v4h-3zM930 597h3v4h-3zM931 596h3v4h-3zM931 597h3v4h-3zM932 595h3v4h-3zM932 595h3v4h-3zM933 594h3v4h-3zM933 593h3v4h-3zM933 592h3v4h-3zM934 593h3v4h-3zM934 592h3v4h-3zM935 591h3v4h-3zM935 592h3v4h-3zM935 590h3v4h-3zM936 590h3v4h-3zM936 588h3v4h-3zM937 588h3v4h-3zM937 588h3v4h-3zM938 588h3v4h-3zM938 586h3v4h-3zM938 587h3v4h-3zM939 587h3v4h-3zM939 586h3v4h-3zM940 586h3v4h-3zM940 587h3v4h-3zM941 587h3v4h-3zM941 586h3v4h-3zM941 585h3v4h-3zM942 585h3v4h-3zM942 583h3v4h-3zM943 583h3v4h-3zM943 582h3v4h-3zM943 584h3v4h-3zM944 581h3v4h-3zM944 583h3v4h-3zM945 583h3v4h-3zM945 579h3v4h-3zM946 582h3v4h-3zM946 581h3v4h-3zM946 578h3v4h-3zM947 582h3v4h-3zM947 582h3v4h-3zM948 584h3v4h-3zM948 582h3v4h-3zM949 584h3v4h-3zM949 585h3v4h-3zM949 585h3v4h-3zM950 586h3v4h-3zM950 587h3v4h-3zM951 590h3v4h-3zM951 587h3v4h-3zM951 589h3v4h-3zM952 589h3v4h-3zM952 588h3v4h-3zM953 588h3v4h-3zM953 591h3v4h-3zM954 592h3v4h-3zM954 594h3v4h-3zM954 592h3v4h-3zM955 594h3v4h-3zM955 590h3v4h-3zM956 591h3v4h-3zM956 592h3v4h-3zM957 591h3v4h-3zM957 592h3v4h-3zM957 594h3v4h-3zM958 592h3v4h-3zM958 592h3v4h-3zM959 594h3v4h-3zM959 594h3v4h-3zM959 593h3v4h-3zM960 594h3v4h-3zM960 593h3v4h-3zM961 595h3v4h-3zM961 593h3v4h-3zM962 592h3v4h-3zM962 592h3v4h-3zM962 592h3v4h-3zM963 592h3v4h-3zM963 591h3v4h-3zM964 588h3v4h-3zM964 589h3v4h-3zM965 588h3v4h-3zM965 587h3v4h-3zM965 586h3v4h-3zM966 588h3v4h-3zM966 586h3v4h-3zM967 585h3v4h-3zM967 587h3v4h-3zM967 584h3v4h-3zM968 583h3v4h-3zM968 583h3v4h-3zM969 584h3v4h-3zM969 583h3v4h-3zM970 583h3v4h-3zM970 580h3v4h-3zM970 582h3v4h-3zM971 582h3v4h-3zM971 580h3v4h-3zM972 580h3v4h-3zM972 579h3v4h-3zM973 579h3v4h-3zM973 578h3v4h-3zM973 577h3v4h-3zM974 578h3v4h-3zM974 577h3v4h-3zM975 575h3v4h-3zM975 574h3v4h-3zM975 572h3v4h-3zM976 573h3v4h-3zM976 572h3v4h-3zM977 571h3v4h-3zM977 572h3v4h-3zM978 574h3v4h-3zM978 573h3v4h-3zM978 570h3v4h-3zM979 571h3v4h-3zM979 569h3v4h-3zM980 568h3v4h-3zM980 568h3v4h-3zM981 567h3v4h-3zM981 567h3v4h-3zM981 566h3v4h-3zM982 567h3v4h-3zM982 568h3v4h-3zM983 565h3v4h-3zM983 568h3v4h-3zM984 567h3v4h-3zM984 565h3v4h-3zM984 568h3v4h-3zM985 565h3v4h-3zM985 566h3v4h-3zM986 566h3v4h-3zM986 565h3v4h-3zM986 566h3v4h-3zM987 566h3v4h-3zM987 565h3v4h-3zM988 566h3v4h-3zM988 567h3v4h-3zM989 564h3v4h-3zM989 565h3v4h-3zM989 562h3v4h-3zM990 561h3v4h-3zM990 562h3v4h-3zM991 561h3v4h-3zM991 562h3v4h-3zM992 562h3v4h-3zM992 562h3v4h-3zM992 560h3v4h-3zM993 559h3v4h-3zM993 559h3v4h-3zM994 559h3v4h-3zM994 562h3v4h-3zM994 555h3v4h-3zM995 557h3v4h-3zM995 556h3v4h-3zM996 556h3v4h-3zM996 555h3v4h-3zM997 557h3v4h-3zM997 559h3v4h-3zM997 557h3v4h-3zM998 562h3v4h-3zM998 558h3v4h-3zM999 560h3v4h-3zM999 558h3v4h-3zM1000 560h3v4h-3zM1000 560h3v4h-3zM1000 560h3v4h-3zM1001 560h3v4h-3zM1001 560h3v4h-3zM1002 561h3v4h-3zM1002 560h3v4h-3zM1002 559h3v4h-3zM1003 562h3v4h-3zM1003 561h3v4h-3zM1004 563h3v4h-3zM1004 562h3v4h-3zM1005 561h3v4h-3zM1005 563h3v4h-3zM1005 564h3v4h-3zM1006 560h3v4h-3zM1006 560h3v4h-3zM1007 559h3v4h-3zM1007 560h3v4h-3zM1008 557h3v4h-3zM1008 558h3v4h-3zM1008 558h3v4h-3zM1009 557h3v4h-3zM1009 556h3v4h-3zM1010 555h3v4h-3zM1010 553h3v4h-3zM1010 554h3v4h-3zM1011 551h3v4h-3zM1011 552h3v4h-3zM1012 552h3v4h-3zM1012 551h3v4h-3zM1013 552h3v4h-3zM1013 549h3v4h-3zM1013 551h3v4h-3zM1014 551h3v4h-3zM1014 551h3v4h-3zM1015 550h3v4h-3zM1015 548h3v4h-3zM1016 549h3v4h-3zM1016 548h3v4h-3zM1016 547h3v4h-3zM1017 546h3v4h-3zM1017 544h3v4h-3zM1018 542h3v4h-3zM1018 541h3v4h-3zM1018 541h3v4h-3zM1019 541h3v4h-3zM1019 540h3v4h-3zM1020 540h3v4h-3zM1020 539h3v4h-3zM1021 538h3v4h-3zM1021 541h3v4h-3zM1021 538h3v4h-3zM1022 539h3v4h-3zM1022 538h3v4h-3zM1023 539h3v4h-3zM1023 537h3v4h-3zM1024 539h3v4h-3zM1024 535h3v4h-3zM1024 536h3v4h-3zM1025 533h3v4h-3zM1025 535h3v4h-3zM1026 534h3v4h-3zM1026 536h3v4h-3zM1026 533h3v4h-3zM1027 534h3v4h-3zM1027 533h3v4h-3zM1028 535h3v4h-3zM1028 532h3v4h-3zM1029 531h3v4h-3zM1029 532h3v4h-3zM1029 532h3v4h-3zM1030 530h3v4h-3zM1030 528h3v4h-3zM1031 530h3v4h-3zM1031 530h3v4h-3zM1032 530h3v4h-3zM1032 530h3v4h-3zM1032 530h3v4h-3zM1033 529h3v4h-3zM1033 529h3v4h-3zM1034 528h3v4h-3zM1034 526h3v4h-3zM1034 529h3v4h-3zM1035 528h3v4h-3zM1035 526h3v4h-3zM1036 526h3v4h-3zM1036 525h3v4h-3zM1037 523h3v4h-3zM1037 525h3v4h-3zM1037 524h3v4h-3zM1038 522h3v4h-3zM1038 522h3v4h-3zM1039 519h3v4h-3zM1039 521h3v4h-3zM1040 522h3v4h-3zM1040 523h3v4h-3zM1040 524h3v4h-3zM1041 526h3v4h-3zM1041 525h3v4h-3zM1042 525h3v4h-3zM1042 523h3v4h-3zM1043 523h3v4h-3zM1043 525h3v4h-3zM1043 523h3v4h-3zM1044 524h3v4h-3zM1044 525h3v4h-3zM1045 527h3v4h-3zM1045 527h3v4h-3zM1045 523h3v4h-3zM1046 524h3v4h-3zM1046 523h3v4h-3zM1047 525h3v4h-3zM1047 523h3v4h-3zM1048 521h3v4h-3zM1048 521h3v4h-3zM1048 517h3v4h-3zM1049 517h3v4h-3zM1049 515h3v4h-3zM1050 518h3v4h-3zM1050 518h3v4h-3zM1051 518h3v4h-3zM1051 516h3v4h-3zM1051 516h3v4h-3zM1052 514h3v4h-3zM1052 516h3v4h-3zM1053 516h3v4h-3zM1053 517h3v4h-3zM1053 517h3v4h-3zM1054 516h3v4h-3zM1054 517h3v4h-3zM1055 515h3v4h-3zM1055 515h3v4h-3zM1056 515h3v4h-3zM1056 516h3v4h-3zM1056 518h3v4h-3zM1057 518h3v4h-3zM1057 517h3v4h-3zM1058 516h3v4h-3zM1058 519h3v4h-3zM1059 516h3v4h-3zM1059 518h3v4h-3zM1059 518h3v4h-3zM1060 513h3v4h-3zM1060 516h3v4h-3zM1061 515h3v4h-3zM1061 517h3v4h-3zM1061 514h3v4h-3zM1062 518h3v4h-3zM1062 515h3v4h-3zM1063 515h3v4h-3zM1063 516h3v4h-3zM1064 514h3v4h-3zM1064 515h3v4h-3zM1064 514h3v4h-3zM1065 514h3v4h-3zM1065 514h3v4h-3zM1066 514h3v4h-3zM1066 514h3v4h-3zM1067 513h3v4h-3zM1067 513h3v4h-3zM1067 512h3v4h-3zM1068 512h3v4h-3zM1068 511h3v4h-3zM1069 510h3v4h-3zM1069 510h3v4h-3zM1069 509h3v4h-3zM1070 510h3v4h-3zM1070 506h3v4h-3zM1071 504h3v4h-3zM1071 504h3v4h-3zM1072 501h3v4h-3zM1072 504h3v4h-3zM1072 498h3v4h-3zM1073 502h3v4h-3zM1073 499h3v4h-3zM1074 501h3v4h-3zM1074 497h3v4h-3zM1075 498h3v4h-3zM1075 498h3v4h-3zM1075 497h3v4h-3zM1076 496h3v4h-3zM1076 493h3v4h-3zM1077 495h3v4h-3zM1077 493h3v4h-3zM1077 495h3v4h-3zM1078 492h3v4h-3zM1078 493h3v4h-3zM1079 492h3v4h-3zM1079 490h3v4h-3zM1080 490h3v4h-3zM1080 489h3v4h-3zM1080 489h3v4h-3zM1081 489h3v4h-3zM1081 488h3v4h-3zM1082 492h3v4h-3zM1082 491h3v4h-3zM1083 491h3v4h-3zM1083 491h3v4h-3zM1083 490h3v4h-3zM1084 491h3v4h-3zM1084 491h3v4h-3zM1085 491h3v4h-3zM1085 489h3v4h-3zM1085 488h3v4h-3zM1086 488h3v4h-3zM1086 489h3v4h-3zM1087 489h3v4h-3zM1087 490h3v4h-3zM1088 486h3v4h-3zM1088 490h3v4h-3zM1088 491h3v4h-3zM1089 492h3v4h-3zM1089 492h3v4h-3zM1090 495h3v4h-3zM1090 492h3v4h-3zM1091 497h3v4h-3zM1091 496h3v4h-3zM1091 496h3v4h-3zM1092 497h3v4h-3zM1092 497h3v4h-3zM1093 495h3v4h-3zM1093 494h3v4h-3zM1093 493h3v4h-3zM1094 493h3v4h-3zM1094 495h3v4h-3zM1095 494h3v4h-3zM1095 493h3v4h-3zM1096 493h3v4h-3zM1096 497h3v4h-3zM1096 494h3v4h-3zM1097 497h3v4h-3zM1097 497h3v4h-3zM1098 497h3v4h-3zM1098 495h3v4h-3zM1099 501h3v4h-3zM1099 501h3v4h-3zM1099 502h3v4h-3zM1100 502h3v4h-3zM1100 505h3v4h-3zM1101 505h3v4h-3zM1101 505h3v4h-3zM1101 502h3v4h-3zM1102 504h3v4h-3zM1102 504h3v4h-3zM1103 506h3v4h-3zM1103 505h3v4h-3zM1104 506h3v4h-3zM1104 504h3v4h-3zM1104 507h3v4h-3zM1105 508h3v4h-3zM1105 506h3v4h-3zM1106 506h3v4h-3zM1106 506h3v4h-3zM1107 506h3v4h-3zM1107 505h3v4h-3zM1107 508h3v4h-3zM1108 507h3v4h-3zM1108 509h3v4h-3zM1109 509h3v4h-3zM1109 509h3v4h-3zM1110 508h3v4h-3zM1110 508h3v4h-3zM1110 509h3v4h-3zM1111 509h3v4h-3zM1111 511h3v4h-3zM1112 509h3v4h-3zM1112 508h3v4h-3zM1112 509h3v4h-3zM1113 510h3v4h-3zM1113 507h3v4h-3zM1114 509h3v4h-3zM1114 510h3v4h-3zM1115 506h3v4h-3zM1115 510h3v4h-3zM1115 510h3v4h-3zM1116 506h3v4h-3zM1116 509h3v4h-3zM1117 507h3v4h-3zM1117 507h3v4h-3zM1118 505h3v4h-3zM1118 507h3v4h-3zM1118 508h3v4h-3zM1119 506h3v4h-3zM1119 507h3v4h-3zM1120 508h3v4h-3zM1120 508h3v4h-3zM1120 509h3v4h-3zM1121 504h3v4h-3zM1121 505h3v4h-3zM1122 504h3v4h-3zM1122 503h3v4h-3zM1123 506h3v4h-3zM1123 505h3v4h-3zM1123 501h3v4h-3zM1124 503h3v4h-3zM1124 505h3v4h-3zM1125 504h3v4h-3zM1125 502h3v4h-3zM1126 506h3v4h-3zM1126 505h3v4h-3zM1126 501h3v4h-3zM1127 502h3v4h-3zM1127 498h3v4h-3zM1128 501h3v4h-3zM1128 500h3v4h-3zM1128 500h3v4h-3zM1129 498h3v4h-3zM1129 496h3v4h-3zM1130 496h3v4h-3zM1130 497h3v4h-3zM1131 497h3v4h-3zM1131 495h3v4h-3zM1131 494h3v4h-3zM1132 494h3v4h-3zM1132 492h3v4h-3zM1133 495h3v4h-3zM1133 493h3v4h-3zM1134 490h3v4h-3zM1134 487h3v4h-3zM1134 487h3v4h-3zM1135 485h3v4h-3zM1135 481h3v4h-3zM1136 480h3v4h-3zM1136 480h3v4h-3zM1136 480h3v4h-3zM1137 477h3v4h-3zM1137 477h3v4h-3zM1138 474h3v4h-3zM1138 476h3v4h-3zM1139 474h3v4h-3zM1139 474h3v4h-3zM1139 472h3v4h-3zM1140 472h3v4h-3zM1140 470h3v4h-3zM1141 470h3v4h-3zM1141 472h3v4h-3zM1142 470h3v4h-3zM1142 469h3v4h-3zM1142 471h3v4h-3zM1143 470h3v4h-3zM1143 470h3v4h-3zM1144 471h3v4h-3zM1144 471h3v4h-3zM1144 471h3v4h-3zM1145 473h3v4h-3zM1145 469h3v4h-3zM1146 470h3v4h-3zM1146 469h3v4h-3zM1147 469h3v4h-3zM1147 470h3v4h-3zM1147 467h3v4h-3zM1148 466h3v4h-3zM1148 469h3v4h-3zM1149 471h3v4h-3zM1149 472h3v4h-3zM1150 472h3v4h-3zM1150 475h3v4h-3zM1150 472h3v4h-3zM1151 473h3v4h-3zM1151 473h3v4h-3zM1152 475h3v4h-3zM1152 477h3v4h-3zM1152 478h3v4h-3zM1153 477h3v4h-3zM1153 475h3v4h-3zM1154 475h3v4h-3zM1154 475h3v4h-3zM1155 473h3v4h-3zM1155 473h3v4h-3zM1155 470h3v4h-3zM1156 471h3v4h-3zM1156 469h3v4h-3zM1157 471h3v4h-3zM1157 469h3v4h-3zM1158 469h3v4h-3zM1158 468h3v4h-3zM1158 469h3v4h-3zM1159 472h3v4h-3zM1159 472h3v4h-3zM1160 471h3v4h-3zM1160 473h3v4h-3zM1160 471h3v4h-3zM1161 472h3v4h-3zM1161 472h3v4h-3zM1162 470h3v4h-3zM1162 475h3v4h-3zM1163 471h3v4h-3zM1163 471h3v4h-3zM1163 472h3v4h-3zM1164 468h3v4h-3zM1164 469h3v4h-3zM1165 467h3v4h-3zM1165 470h3v4h-3zM1166 470h3v4h-3zM1166 470h3v4h-3zM1166 469h3v4h-3zM1167 469h3v4h-3zM1167 467h3v4h-3zM1168 466h3v4h-3zM1168 469h3v4h-3zM1168 468h3v4h-3zM1169 470h3v4h-3zM1169 468h3v4h-3zM1170 471h3v4h-3zM1170 470h3v4h-3zM1171 468h3v4h-3zM1171 468h3v4h-3zM1171 467h3v4h-3zM1172 469h3v4h-3zM1172 467h3v4h-3zM1173 467h3v4h-3zM1173 464h3v4h-3zM1174 463h3v4h-3zM1174 462h3v4h-3zM1174 462h3v4h-3zM1175 460h3v4h-3zM1175 460h3v4h-3zM1176 457h3v4h-3zM1176 458h3v4h-3zM1177 458h3v4h-3zM1177 455h3v4h-3zM1177 454h3v4h-3zM1178 454h3v4h-3zM1178 453h3v4h-3zM1179 456h3v4h-3zM1179 453h3v4h-3zM1179 452h3v4h-3zM1180 452h3v4h-3zM1180 455h3v4h-3zM1181 452h3v4h-3zM1181 454h3v4h-3zM1182 453h3v4h-3zM1182 452h3v4h-3zM1182 449h3v4h-3zM1183 449h3v4h-3zM1183 448h3v4h-3zM1184 448h3v4h-3zM1184 450h3v4h-3zM1185 447h3v4h-3zM1185 447h3v4h-3zM1185 444h3v4h-3zM1186 441h3v4h-3zM1186 440h3v4h-3zM1187 440h3v4h-3zM1187 439h3v4h-3zM1187 436h3v4h-3zM1188 435h3v4h-3zM1188 433h3v4h-3zM1189 432h3v4h-3zM1189 433h3v4h-3zM1190 434h3v4h-3zM1190 430h3v4h-3zM1190 432h3v4h-3zM1191 434h3v4h-3zM1191 432h3v4h-3zM1192 431h3v4h-3zM1192 431h3v4h-3zM1193 429h3v4h-3zM1193 426h3v4h-3zM1193 428h3v4h-3zM1194 429h3v4h-3zM1194 428h3v4h-3zM1195 427h3v4h-3zM1195 430h3v4h-3zM1195 428h3v4h-3zM1196 429h3v4h-3zM1196 426h3v4h-3zM1197 428h3v4h-3zM1197 426h3v4h-3zM1198 427h3v4h-3zM1198 427h3v4h-3zM1198 426h3v4h-3zM1199 425h3v4h-3zM1199 425h3v4h-3zM1200 422h3v4h-3zM1200 422h3v4h-3zM1201 424h3v4h-3zM1201 422h3v4h-3zM1201 421h3v4h-3zM1202 422h3v4h-3zM1202 419h3v4h-3zM1203 420h3v4h-3zM1203 420h3v4h-3zM1203 417h3v4h-3zM1204 418h3v4h-3zM1204 419h3v4h-3zM1205 416h3v4h-3zM1205 418h3v4h-3zM1206 416h3v4h-3zM1206 417h3v4h-3zM1206 413h3v4h-3zM1207 413h3v4h-3zM1207 413h3v4h-3zM1208 412h3v4h-3zM1208 414h3v4h-3zM1209 415h3v4h-3zM1209 415h3v4h-3zM1209 417h3v4h-3zM1210 417h3v4h-3zM1210 417h3v4h-3zM1211 417h3v4h-3zM1211 418h3v4h-3zM1211 415h3v4h-3zM1212 417h3v4h-3zM1212 414h3v4h-3zM1213 414h3v4h-3zM1213 414h3v4h-3zM1214 413h3v4h-3zM1214 409h3v4h-3zM1214 410h3v4h-3zM1215 410h3v4h-3zM1215 407h3v4h-3zM1216 405h3v4h-3zM1216 405h3v4h-3zM1217 405h3v4h-3zM1217 406h3v4h-3zM1217 409h3v4h-3zM1218 410h3v4h-3zM1218 413h3v4h-3zM1219 408h3v4h-3zM1219 412h3v4h-3zM1219 413h3v4h-3zM1220 414h3v4h-3zM1220 413h3v4h-3zM1221 415h3v4h-3zM1221 413h3v4h-3zM1222 413h3v4h-3zM1222 415h3v4h-3zM1222 417h3v4h-3zM1223 417h3v4h-3zM1223 419h3v4h-3zM1224 422h3v4h-3zM1224 418h3v4h-3zM1225 421h3v4h-3zM1225 420h3v4h-3zM1225 420h3v4h-3zM1226 420h3v4h-3zM1226 421h3v4h-3zM1227 421h3v4h-3zM1227 419h3v4h-3zM1227 419h3v4h-3zM1228 419h3v4h-3zM1228 417h3v4h-3zM1229 419h3v4h-3zM1229 419h3v4h-3zM1230 417h3v4h-3zM1230 414h3v4h-3zM1230 413h3v4h-3zM1231 412h3v4h-3zM1231 412h3v4h-3zM1232 411h3v4h-3zM1232 411h3v4h-3zM1233 411h3v4h-3zM1233 409h3v4h-3zM1233 407h3v4h-3zM1234 409h3v4h-3zM1234 407h3v4h-3zM1235 408h3v4h-3zM1235 403h3v4h-3zM1236 403h3v4h-3zM1236 403h3v4h-3zM1236 400h3v4h-3zM1237 403h3v4h-3zM1237 402h3v4h-3zM1238 401h3v4h-3zM1238 400h3v4h-3zM1238 400h3v4h-3zM1239 397h3v4h-3zM1239 398h3v4h-3zM1240 398h3v4h-3zM1240 399h3v4h-3zM1241 397h3v4h-3zM1241 397h3v4h-3zM1241 399h3v4h-3zM1242 397h3v4h-3zM1242 399h3v4h-3zM1243 400h3v4h-3zM1243 397h3v4h-3zM1244 397h3v4h-3zM1244 400h3v4h-3zM1244 398h3v4h-3zM1245 398h3v4h-3zM1245 399h3v4h-3zM1246 398h3v4h-3zM1246 399h3v4h-3zM1246 400h3v4h-3zM1247 397h3v4h-3zM1247 401h3v4h-3zM1248 398h3v4h-3zM1248 398h3v4h-3zM1249 398h3v4h-3zM1249 398h3v4h-3zM1249 399h3v4h-3zM1250 398h3v4h-3zM1250 397h3v4h-3zM1251 398h3v4h-3zM1251 398h3v4h-3zM1252 396h3v4h-3zM1252 397h3v4h-3zM1252 399h3v4h-3zM1253 397h3v4h-3zM1253 396h3v4h-3zM1254 398h3v4h-3zM1254 398h3v4h-3zM1254 398h3v4h-3zM1255 397h3v4h-3zM1255 395h3v4h-3zM1256 396h3v4h-3zM1256 399h3v4h-3zM1257 396h3v4h-3zM1257 397h3v4h-3zM1257 394h3v4h-3zM1258 396h3v4h-3zM1258 396h3v4h-3zM1259 394h3v4h-3zM1259 394h3v4h-3zM1260 397h3v4h-3zM1260 395h3v4h-3zM1260 396h3v4h-3zM1261 396h3v4h-3zM1261 399h3v4h-3zM1262 399h3v4h-3zM1262 396h3v4h-3zM1262 402h3v4h-3zM1263 399h3v4h-3zM1263 400h3v4h-3zM1264 398h3v4h-3zM1264 398h3v4h-3zM1265 398h3v4h-3zM1265 398h3v4h-3zM1265 399h3v4h-3zM1266 400h3v4h-3zM1266 400h3v4h-3zM1267 400h3v4h-3zM1267 399h3v4h-3zM1268 399h3v4h-3zM1268 400h3v4h-3zM1268 403h3v4h-3zM1269 403h3v4h-3zM1269 403h3v4h-3zM1270 402h3v4h-3zM1270 402h3v4h-3zM1270 401h3v4h-3zM1271 404h3v4h-3zM1271 403h3v4h-3zM1272 404h3v4h-3zM1272 401h3v4h-3zM1273 400h3v4h-3zM1273 397h3v4h-3zM1273 397h3v4h-3zM1274 394h3v4h-3zM1274 391h3v4h-3zM1275 391h3v4h-3zM1275 385h3v4h-3zM1276 385h3v4h-3zM1276 387h3v4h-3zM1276 385h3v4h-3zM1277 384h3v4h-3zM1277 381h3v4h-3zM1278 379h3v4h-3zM1278 382h3v4h-3zM1278 377h3v4h-3zM1279 376h3v4h-3zM1279 378h3v4h-3zM1280 374h3v4h-3zM1280 378h3v4h-3zM1281 373h3v4h-3zM1281 377h3v4h-3zM1281 374h3v4h-3zM1282 374h3v4h-3zM1282 375h3v4h-3zM1283 375h3v4h-3zM1283 374h3v4h-3zM1284 372h3v4h-3zM1284 373h3v4h-3zM1284 371h3v4h-3zM1285 370h3v4h-3zM1285 369h3v4h-3zM1286 368h3v4h-3zM1286 368h3v4h-3zM1286 366h3v4h-3zM1287 364h3v4h-3zM1287 365h3v4h-3zM1288 365h3v4h-3zM1288 368h3v4h-3zM1289 366h3v4h-3zM1289 366h3v4h-3zM1289 366h3v4h-3zM1290 366h3v4h-3zM1290 367h3v4h-3zM1291 365h3v4h-3zM1291 365h3v4h-3zM1292 367h3v4h-3zM1292 367h3v4h-3zM1292 365h3v4h-3zM1293 366h3v4h-3zM1293 363h3v4h-3zM1294 360h3v4h-3zM1294 361h3v4h-3zM1295 356h3v4h-3zM1295 357h3v4h-3zM1295 358h3v4h-3zM1296 356h3v4h-3zM1296 358h3v4h-3zM1297 355h3v4h-3zM1297 356h3v4h-3zM1297 357h3v4h-3zM1298 358h3v4h-3zM1298 357h3v4h-3zM1299 355h3v4h-3zM1299 355h3v4h-3zM1300 357h3v4h-3zM1300 357h3v4h-3zM1300 354h3v4h-3zM1301 352h3v4h-3zM1301 354h3v4h-3zM1302 350h3v4h-3zM1302 354h3v4h-3zM1303 353h3v4h-3zM1303 351h3v4h-3zM1303 351h3v4h-3zM1304 350h3v4h-3zM1304 347h3v4h-3zM1305 351h3v4h-3zM1305 350h3v4h-3zM1305 349h3v4h-3zM1306 347h3v4h-3zM1306 347h3v4h-3zM1307 345h3v4h-3zM1307 348h3v4h-3zM1308 346h3v4h-3zM1308 345h3v4h-3zM1308 344h3v4h-3zM1309 345h3v4h-3zM1309 342h3v4h-3zM1310 341h3v4h-3zM1310 341h3v4h-3zM1311 338h3v4h-3zM1311 339h3v4h-3zM1311 339h3v4h-3zM1312 336h3v4h-3zM1312 337h3v4h-3zM1313 332h3v4h-3zM1313 334h3v4h-3zM1313 333h3v4h-3zM1314 331h3v4h-3zM1314 333h3v4h-3zM1315 332h3v4h-3zM1315 330h3v4h-3zM1316 328h3v4h-3zM1316 328h3v4h-3zM1316 327h3v4h-3zM1317 331h3v4h-3zM1317 328h3v4h-3zM1318 329h3v4h-3zM1318 331h3v4h-3zM1319 331h3v4h-3zM1319 332h3v4h-3zM1319 331h3v4h-3zM1320 333h3v4h-3zM1320 333h3v4h-3zM1321 333h3v4h-3zM1321 333h3v4h-3zM1321 335h3v4h-3zM1322 337h3v4h-3zM1322 338h3v4h-3zM1323 338h3v4h-3zM1323 339h3v4h-3zM1324 339h3v4h-3zM1324 338h3v4h-3zM1324 342h3v4h-3zM1325 340h3v4h-3zM1325 337h3v4h-3zM1326 339h3v4h-3zM1326 340h3v4h-3zM1327 338h3v4h-3zM1327 336h3v4h-3zM1327 339h3v4h-3zM1328 336h3v4h-3zM1328 337h3v4h-3zM1329 337h3v4h-3zM1329 335h3v4h-3zM1329 333h3v4h-3zM1330 334h3v4h-3zM1330 332h3v4h-3zM1331 331h3v4h-3zM1331 331h3v4h-3zM1332 328h3v4h-3zM1332 325h3v4h-3zM1332 326h3v4h-3zM1333 324h3v4h-3zM1333 322h3v4h-3zM1334 324h3v4h-3zM1334 321h3v4h-3zM1335 323h3v4h-3zM1335 323h3v4h-3zM1335 325h3v4h-3zM1336 324h3v4h-3zM1336 322h3v4h-3zM1337 322h3v4h-3zM1337 321h3v4h-3zM1337 321h3v4h-3zM1338 321h3v4h-3zM1338 321h3v4h-3zM1339 318h3v4h-3zM1339 319h3v4h-3zM1340 320h3v4h-3zM1340 320h3v4h-3zM1340 319h3v4h-3zM1341 316h3v4h-3zM1341 319h3v4h-3zM1342 317h3v4h-3zM1342 315h3v4h-3zM1343 314h3v4h-3zM1343 316h3v4h-3zM1343 312h3v4h-3zM1344 312h3v4h-3zM1344 310h3v4h-3zM1345 312h3v4h-3zM1345 312h3v4h-3zM1345 315h3v4h-3zM1346 315h3v4h-3zM1346 315h3v4h-3zM1347 318h3v4h-3zM1347 317h3v4h-3zM1348 319h3v4h-3zM1348 317h3v4h-3zM1348 317h3v4h-3zM1349 317h3v4h-3zM1349 313h3v4h-3zM1350 312h3v4h-3zM1350 312h3v4h-3zM1351 311h3v4h-3zM1351 312h3v4h-3zM1351 310h3v4h-3zM1352 307h3v4h-3zM1352 309h3v4h-3zM1353 309h3v4h-3zM1353 308h3v4h-3zM1353 309h3v4h-3zM1354 307h3v4h-3zM1354 307h3v4h-3zM1355 306h3v4h-3zM1355 305h3v4h-3zM1356 309h3v4h-3zM1356 310h3v4h-3zM1356 309h3v4h-3zM1357 308h3v4h-3zM1357 310h3v4h-3zM1358 312h3v4h-3zM1358 313h3v4h-3zM1359 313h3v4h-3zM1359 313h3v4h-3zM1359 312h3v4h-3zM1360 311h3v4h-3zM1360 309h3v4h-3zM1361 311h3v4h-3zM1361 307h3v4h-3zM1362 306h3v4h-3zM1362 306h3v4h-3zM1362 302h3v4h-3zM1363 302h3v4h-3zM1363 303h3v4h-3zM1364 300h3v4h-3zM1364 298h3v4h-3zM1364 298h3v4h-3zM1365 299h3v4h-3zM1365 299h3v4h-3zM1366 301h3v4h-3zM1366 297h3v4h-3zM1367 299h3v4h-3zM1367 299h3v4h-3zM1367 298h3v4h-3zM1368 296h3v4h-3zM1368 297h3v4h-3zM1369 296h3v4h-3zM1369 296h3v4h-3zM1370 298h3v4h-3zM1370 298h3v4h-3zM1370 296h3v4h-3zM1371 297h3v4h-3zM1371 297h3v4h-3zM1372 298h3v4h-3zM1372 296h3v4h-3zM1372 296h3v4h-3zM1373 296h3v4h-3zM1373 293h3v4h-3zM1374 292h3v4h-3zM1374 291h3v4h-3zM1375 288h3v4h-3zM1375 290h3v4h-3zM1375 288h3v4h-3zM1376 286h3v4h-3zM1376 288h3v4h-3zM1377 286h3v4h-3zM1377 288h3v4h-3zM1378 287h3v4h-3zM1378 287h3v4h-3zM1378 287h3v4h-3zM1379 289h3v4h-3zM1379 288h3v4h-3zM1380 288h3v4h-3zM1380 285h3v4h-3zM1380 285h3v4h-3zM1381 283h3v4h-3zM1381 285h3v4h-3zM1382 280h3v4h-3zM1382 278h3v4h-3zM1383 281h3v4h-3zM1383 275h3v4h-3zM1383 277h3v4h-3zM1384 276h3v4h-3zM1384 277h3v4h-3zM1385 277h3v4h-3zM1385 276h3v4h-3zM1386 273h3v4h-3zM1386 278h3v4h-3zM1386 279h3v4h-3zM1387 277h3v4h-3zM1387 279h3v4h-3zM1388 280h3v4h-3zM1388 278h3v4h-3zM1388 278h3v4h-3zM1389 280h3v4h-3zM1389 281h3v4h-3zM1390 280h3v4h-3zM1390 281h3v4h-3zM1391 282h3v4h-3zM1391 282h3v4h-3zM1391 284h3v4h-3zM1392 283h3v4h-3zM1392 285h3v4h-3zM1393 284h3v4h-3zM1393 286h3v4h-3zM1394 288h3v4h-3zM1394 290h3v4h-3zM1394 290h3v4h-3zM1395 290h3v4h-3zM1395 293h3v4h-3zM1396 292h3v4h-3zM1396 292h3v4h-3zM1396 293h3v4h-3zM1397 293h3v4h-3zM1397 292h3v4h-3zM1398 291h3v4h-3zM1398 288h3v4h-3zM1399 291h3v4h-3zM1399 288h3v4h-3zM1399 287h3v4h-3zM1400 285h3v4h-3zM1400 283h3v4h-3zM1401 284h3v4h-3zM1401 284h3v4h-3zM1402 284h3v4h-3zM1402 283h3v4h-3zM1402 284h3v4h-3zM1403 281h3v4h-3zM1403 282h3v4h-3zM1404 283h3v4h-3zM1404 279h3v4h-3zM1404 283h3v4h-3zM1405 280h3v4h-3zM1405 281h3v4h-3zM1406 278h3v4h-3zM1406 278h3v4h-3zM1407 277h3v4h-3zM1407 276h3v4h-3zM1407 277h3v4h-3zM1408 279h3v4h-3zM1408 277h3v4h-3zM1409 277h3v4h-3zM1409 277h3v4h-3zM1410 277h3v4h-3zM1410 275h3v4h-3zM1410 276h3v4h-3zM1411 274h3v4h-3zM1411 277h3v4h-3zM1412 277h3v4h-3zM1412 275h3v4h-3zM1412 277h3v4h-3zM1413 275h3v4h-3zM1413 277h3v4h-3zM1414 277h3v4h-3zM1414 275h3v4h-3zM1415 277h3v4h-3zM1415 276h3v4h-3zM1415 273h3v4h-3zM1416 271h3v4h-3zM1416 271h3v4h-3zM1417 272h3v4h-3zM1417 271h3v4h-3zM1418 268h3v4h-3zM1418 269h3v4h-3zM1418 267h3v4h-3zM1419 269h3v4h-3zM1419 268h3v4h-3zM1420 269h3v4h-3zM1420 270h3v4h-3zM1420 269h3v4h-3z" fill="#1e90ff" shape-rendering="crispEdges"/>
<path clip-path="url(#c1)" d="M159 764l6 6m0-6l-6 6M160 762l5 5m0-5l-5 5M160 764l6 6m0-6l-6 6M161 770l5 5m0-5l-5 5M161 759l5 5m0-5l-5 5M162 762l5 5m0-5l-5 5M162 763l5 5m0-5l-5 5M162 761l6 6m0-6l-6 6M162 755l6 6m0-6l-6 6M163 765l6 6m0-6l-6 6M164 773l5 5m0-5l-5 5M164 762l5 5m0-5l-5 5M164 776l6 6m0-6l-6 6M164 772l6 6m0-6l-6 6M165 772l6 6m0-6l-6 6M166 769l5 5m0-5l-5 5M166 770l6 6m0-6l-6 6M166 775l6 6m0-6l-6 6M167 763l5 5m0-5l-5 5M167 775l6 6m0-6l-6 6M168 770l5 5m0-5l-5 5M168 775l5 5m0-5l-5 5M168 778l6 6m0-6l-6 6M169 771l5 5m0-5l-5 5M170 777l5 5m0-5l-5 5M170 780l6 6m0-6l-6 6M170 784l5 5m0-5l-5 5M171 775l5 5m0-5l-5 5M171 770l5 5m0-5l-5 5M171 774l6 6m0-6l-6 6M172 780l6 6m0-6l-6 6M172 774l6 6m0-6l-6 6M172 769l6 6m0-6l-6 6M173 768l6 6m0-6l-6 6M173 769l6 6m0-6l-6 6M174 780l5 5m0-5l-5 5M175 769l5 5m0-5l-5 5M175 771l6 6m0-6l-6 6M176 761l5 5m0-5l-5 5M175 767l6 6m0-6l-6 6M176 766l6 6m0-6l-6 6M176 766l6 6m0-6l-6 6M177 767l5 5m0-5l-5 5M177 761l6 6m0-6l-6 6M178 750l6 6m0-6l-6 6M178 754l5 5m0-5l-5 5M178 760l6 6m0-6l-6 6M179 760l5 5m0-5l-5 5M179 758l6 6m0-6l-6 6M180 761l5 5m0-5l-5 5M180 758l6 6m0-6l-6 6M180 746l6 6m0-6l-6 6M181 750l5 5m0-5l-5 5M182 752l5 5m0-5l-5 5M182 751l6 6m0-6l-6 6M182 747l6 6m0-6l-6 6M183 752l6 6m0-6l-6 6M184 741l5 5m0-5l-5 5M184 748l5 5m0-5l-5 5M184 755l5 5m0-5l-5 5M185 752l5 5m0-5l-5 5M185 755l5 5m0-5l-5 5M185 749l6 6m0-6l-6 6M186 754l6 6m0-6l-6 6M186 746l5 5m0-5l-5 5M186 754l6 6m0-6l-6 6M187 744l5 5m0-5l-5 5M188 747l5 5m0-5l-5 5M188 741l5 5m0-5l-5 5M188 743l6 6m0-6l-6 6M189 740l5 5m0-5l-5 5M189 750l6 6m0-6l-6 6M189 740l6 6m0-6l-6 6M190 745l6 6m0-6l-6 6M191 741l5 5m0-5l-5 5M191 741l6 6m0-6l-6 6M191 738l6 6m0-6l-6 6M191 741l6 6m0-6l-6 6M192 749l6 6m0-6l-6 6M192 748l6 6m0-6l-6 6M193 738l6 6m0-6l-6 6M193 748l6 6m0-6l-6 6M194 740l6 6m0-6l-6 6M194 735l5 5m0-5l-5 5M195 745l5 5m0-5l-5 5M195 749l5 5m0-5l-5 5M195 736l6 6m0-6l-6 6M196 745l5 5m0-5l-5 5M197 741l5 5m0-5l-5 5M197 742l5 5m0-5l-5 5M197 737l5 5m0-5l-5 5M198 741l5 5m0-5l-5 5M198 736l6 6m0-6l-6 6M199 753l5 5m0-5l-5 5M199 743l6 6m0-6l-6 6M199 738l6 6m0-6l-6 6M200 735l5 5m0-5l-5 5M200 729l5 5m0-5l-5 5M200 729l6 6m0-6l-6 6M201 728l5 5m0-5l-5 5M201 739l6 6m0-6l-6 6M202 741l6 6m0-6l-6 6M202 723l5 5m0-5l-5 5M202 727l6 6m0-6l-6 6M203 747l5 5m0-5l-5 5M204 727l5 5m0-5l-5 5M204 742l5 5m0-5l-5 5M205 734l5 5m0-5l-5 5M205 735l6 6m0-6l-6 6M205 734l6 6m0-6l-6 6M205 731l6 6m0-6l-6 6M206 726l6 6m0-6l-6 6M207 731l5 5m0-5l-5 5M207 721l5 5m0-5l-5 5M208 719l5 5m0-5l-5 5M208 731l5 5m0-5l-5 5M208 728l6 6m0-6l-6 6M208 730l6 6m0-6l-6 6M209 723l5 5m0-5l-5 5M209 722l6 6m0-6l-6 6M210 737l6 6m0-6l-6 6M210 734l5 5m0-5l-5 5M210 720l6 6m0-6l-6 6M211 724l5 5m0-5l-5 5M212 723l5 5m0-5l-5 5M212 726l6 6m0-6l-6 6M213 720l5 5m0-5l-5 5M213 721l5 5m0-5l-5 5M213 720l5 5m0-5l-5 5M213 722l6 6m0-6l-6 6M214 719l6 6m0-6l-6 6M215 725l5 5m0-5l-5 5M215 725l5 5m0-5l-5 5M215 722l6 6m0-6l-6 6M215 733l6 6m0-6l-6 6M216 722l5 5m0-5l-5 5M217 715l5 5m0-5l-5 5M217 713l6 6m0-6l-6 6M218 721l5 5m0-5l-5 5M218 719l5 5m0-5l-5 5M218 712l5 5m0-5l-5 5M218 721l6 6m0-6l-6 6M219 727l6 6m0-6l-6 6M219 726l6 6m0-6l-6 6M220 713l5 5m0-5l-5 5M220 714l6 6m0-6l-6 6M221 715l6 6m0-6l-6 6M221 708l6 6m0-6l-6 6M221 718l6 6m0-6l-6 6M222 730l6 6m0-6l-6 6M222 721l6 6m0-6l-6 6M223 725l5 5m0-5l-5 5M224 728l5 5m0-5l-5 5M223 719l6 6m0-6l-6 6M224 719l6 6m0-6l-6 6M224 726l6 6m0-6l-6 6M225 730l5 5m0-5l-5 5M226 722l5 5m0-5l-5 5M226 726l5 5m0-5l-5 5M226 723l6 6m0-6l-6 6M226 723l6 6m0-6l-6 6M227 726l5 5m0-5l-5 5M228 729l5 5m0-5l-5 5M228 722l6 6m0-6l-6 6M229 723l5 5m0-5l-5 5M229 725l5 5m0-5l-5 5M229 722l5 5m0-5l-5 5M230 724l5 5m0-5l-5 5M230 718l6 6m0-6l-6 6M230 719l6 6m0-6l-6 6M231 728l6 6m0-6l-6 6M231 721l6 6m0-6l-6 6M232 722l5 5m0-5l-5 5M232 723l6 6m0-6l-6 6M233 722l5 5m0-5l-5 5M233 715l6 6m0-6l-6 6M233 716l6 6m0-6l-6 6M234 720l6 6m0-6l-6 6M234 718l6 6m0-6l-6 6M235 715l5 5m0-5l-5 5M235 718l5 5m0-5l-5 5M235 705l6 6m0-6l-6 6M236 723l5 5m0-5l-5 5M236 716l6 6m0-6l-6 6M237 728l6 6m0-6l-6 6M237 704l6 6m0-6l-6 6M237 717l6 6m0-6l-6 6M238 705l6 6m0-6l-6 6M239 724l5 5m0-5l-5 5M239 707l5 5m0-5l-5 5M239 713l6 6m0-6l-6 6M239 710l6 6m0-6l-6 6M240 709l6 6m0-6l-6 6M240 717l6 6m0-6l-6 6M241 713l6 6m0-6l-6 6M242 708l5 5m0-5l-5 5M242 718l5 5m0-5l-5 5M242 703l6 6m0-6l-6 6M243 714l5 5m0-5l-5 5M243 723l5 5m0-5l-5 5M244 715l5 5m0-5l-5 5M244 719l6 6m0-6l-6 6M245 719l5 5m0-5l-5 5M245 723l5 5m0-5l-5 5M245 714l5 5m0-5l-5 5M245 711l6 6m0-6l-6 6M246 716l5 5m0-5l-5 5M247 722l5 5m0-5l-5 5M247 716l5 5m0-5l-5 5M247 730l6 6m0-6l-6 6M248 714l5 5m0-5l-5 5M248 723l5 5m0-5l-5 5M248 726l6 6m0-6l-6 6M249 722l5 5m0-5l-5 5M249 718l6 6m0-6l-6 6M250 717l5 5m0-5l-5 5M251 708l5 5m0-5l-5 5M251 722l5 5m0-5l-5 5M251 720l5 5m0-5l-5 5M251 711l6 6m0-6l-6 6M252 719l6 6m0-6l-6 6M252 717l6 6m0-6l-6 6M253 716l5 5m0-5l-5 5M253 716l6 6m0-6l-6 6M254 716l5 5m0-5l-5 5M254 720l6 6m0-6l-6 6M254 717l6 6m0-6l-6 6M255 712l6 6m0-6l-6 6M256 726l5 5m0-5l-5 5M256 714l5 5m0-5l-5 5M256 722l5 5m0-5l-5 5M256 712l6 6m0-6l-6 6M257 710l5 5m0-5l-5 5M257 713l6 6m0-6l-6 6M258 707l5 5m0-5l-5 5M259 715l5 5m0-5l-5 5M258 713l6 6m0-6l-6 6M259 710l5 5m0-5l-5 5M260 716l5 5m0-5l-5 5M260 713l6 6m0-6l-6 6M261 715l5 5m0-5l-5 5M261 716l6 6m0-6l-6 6M261 735l5 5m0-5l-5 5M262 706l5 5m0-5l-5 5M262 727l6 6m0-6l-6 6M263 708l5 5m0-5l-5 5M263 723l6 6m0-6l-6 6M264 708l5 5m0-5l-5 5M264 718l5 5m0-5l-5 5M264 712l6 6m0-6l-6 6M265 719l5 5m0-5l-5 5M265 709l6 6m0-6l-6 6M266 724l5 5m0-5l-5 5M266 711l6 6m0-6l-6 6M266 718l6 6m0-6l-6 6M267 711l5 5m0-5l-5 5M267 712l5 5m0-5l-5 5M268 717l5 5m0-5l-5 5M268 721l5 5m0-5l-5 5M268 717l6 6m0-6l-6 6M269 716l5 5m0-5l-5 5M269 721l6 6m0-6l-6 6M269 720l6 6m0-6l-6 6M270 722l5 5m0-5l-5 5M270 725l6 6m0-6l-6 6M271 736l6 6m0-6l-6 6M272 733l5 5m0-5l-5 5M272 711l6 6m0-6l-6 6M272 729l5 5m0-5l-5 5M273 732l5 5m0-5l-5 5M273 721l6 6m0-6l-6 6M273 728l6 6m0-6l-6 6M274 732l6 6m0-6l-6 6M275 726l5 5m0-5l-5 5M274 712l6 6m0-6l-6 6M275 716l6 6m0-6l-6 6M275 724l6 6m0-6l-6 6M276 721l5 5m0-5l-5 5M276 710l6 6m0-6l-6 6M277 713l5 5m0-5l-5 5M277 715l6 6m0-6l-6 6M278 711l5 5m0-5l-5 5M278 714l5 5m0-5l-5 5M278 710l6 6m0-6l-6 6M279 715l5 5m0-5l-5 5M279 714l6 6m0-6l-6 6M280 717l5 5m0-5l-5 5M280 711l5 5m0-5l-5 5M280 713l6 6m0-6l-6 6M281 712l6 6m0-6l-6 6M281 699l6 6m0-6l-6 6M282 706l6 6m0-6l-6 6M282 710l6 6m0-6l-6 6M282 710l6 6m0-6l-6 6M283 701l5 5m0-5l-5 5M283 697l6 6m0-6l-6 6M284 712l5 5m0-5l-5 5M284 714l6 6m0-6l-6 6M285 700l6 6m0-6l-6 6M285 702l5 5m0-5l-5 5M286 710l5 5m0-5l-5 5M286 707l6 6m0-6l-6 6M286 700l6 6m0-6l-6 6M287 701l5 5m0-5l-5 5M287 692l6 6m0-6l-6 6M288 701l6 6m0-6l-6 6M288 694l5 5m0-5l-5 5M289 689l5 5m0-5l-5 5M289 687l5 5m0-5l-5 5M290 698l5 5m0-5l-5 5M290 692l6 6m0-6l-6 6M291 690l5 5m0-5l-5 5M291 693l5 5m0-5l-5 5M291 701l5 5m0-5l-5 5M292 704l5 5m0-5l-5 5M292 696l6 6m0-6l-6 6M292 688l6 6m0-6l-6 6M293 699l6 6m0-6l-6 6M294 695l5 5m0-5l-5 5M294 699l5 5m0-5l-5 5M294 693l6 6m0-6l-6 6M295 691l5 5m0-5l-5 5M295 702l6 6m0-6l-6 6M296 698l5 5m0-5l-5 5M296 699l6 6m0-6l-6 6M296 704l6 6m0-6l-6 6M296 683l6 6m0-6l-6 6M297 694l6 6m0-6l-6 6M298 696l5 5m0-5l-5 5M298 690l6 6m0-6l-6 6M299 698l5 5m0-5l-5 5M299 688l5 5m0-5l-5 5M299 694l6 6m0-6l-6 6M300 701l5 5m0-5l-5 5M300 690l6 6m0-6l-6 6M301 692l5 5m0-5l-5 5M301 701l6 6m0-6l-6 6M302 700l5 5m0-5l-5 5M301 686l6 6m0-6l-6 6M302 691l6 6m0-6l-6 6M303 694l5 5m0-5l-5 5M303 710l6 6m0-6l-6 6M304 686l5 5m0-5l-5 5M304 700l5 5m0-5l-5 5M304 695l6 6m0-6l-6 6M305 704l5 5m0-5l-5 5M305 694l5 5m0-5l-5 5M305 697l6 6m0-6l-6 6M306 696l5 5m0-5l-5 5M306 709l6 6m0-6l-6 6M307 701l5 5m0-5l-5 5M307 706l6 6m0-6l-6 6M308 706l5 5m0-5l-5 5M308 701l5 5m0-5l-5 5M309 714l5 5m0-5l-5 5M309 699l6 6m0-6l-6 6M310 713l5 5m0-5l-5 5M309 705l6 6m0-6l-6 6M310 701l5 5m0-5l-5 5M310 701l6 6m0-6l-6 6M311 708l6 6m0-6l-6 6M312 716l5 5m0-5l-5 5M312 714l5 5m0-5l-5 5M312 701l5 5m0-5l-5 5M313 712l5 5m0-5l-5 5M313 697l6 6m0-6l-6 6M313 701l6 6m0-6l-6 6M314 713l6 6m0-6l-6 6M315 708l5 5m0-5l-5 5M314 710l6 6m0-6l-6 6M315 718l6 6m0-6l-6 6M315 702l6 6m0-6l-6 6M316 711l6 6m0-6l-6 6M316 712l6 6m0-6l-6 6M317 711l6 6m0-6l-6 6M317 706l6 6m0-6l-6 6M317 712l6 6m0-6l-6 6M318 714l5 5m0-5l-5 5M318 721l6 6m0-6l-6 6M319 717l5 5m0-5l-5 5M320 711l5 5m0-5l-5 5M320 717l6 6m0-6l-6 6M320 718l6 6m0-6l-6 6M321 712l5 5m0-5l-5 5M321 719l6 6m0-6l-6 6M322 721l5 5m0-5l-5 5M322 726l5 5m0-5l-5 5M322 717l6 6m0-6l-6 6M323 719l5 5m0-5l-5 5M323 722l5 5m0-5l-5 5M324 712l5 5m0-5l-5 5M324 725l5 5m0-5l-5 5M324 726l6 6m0-6l-6 6M325 729l5 5m0-5l-5 5M325 723l6 6m0-6l-6 6M326 722l5 5m0-5l-5 5M326 715l5 5m0-5l-5 5M326 725l6 6m0-6l-6 6M327 714l6 6m0-6l-6 6M328 713l5 5m0-5l-5 5M328 721l5 5m0-5l-5 5M328 721l6 6m0-6l-6 6M328 709l6 6m0-6l-6 6M329 703l6 6m0-6l-6 6M330 715l5 5m0-5l-5 5M330 717l6 6m0-6l-6 6M331 715l5 5m0-5l-5 5M331 717l5 5m0-5l-5 5M331 705l6 6m0-6l-6 6M331 711l6 6m0-6l-6 6M332 704l5 5m0-5l-5 5M333 706l5 5m0-5l-5 5M333 708l5 5m0-5l-5 5M334 715l5 5m0-5l-5 5M333 701l6 6m0-6l-6 6M334 711l6 6m0-6l-6 6M334 707l6 6m0-6l-6 6M335 696l5 5m0-5l-5 5M336 697l5 5m0-5l-5 5M336 700l6 6m0-6l-6 6M336 698l5 5m0-5l-5 5M337 704l5 5m0-5l-5 5M337 691l5 5m0-5l-5 5M338 700l5 5m0-5l-5 5M338 694l5 5m0-5l-5 5M339 694l5 5m0-5l-5 5M339 699l6 6m0-6l-6 6M339 703l5 5m0-5l-5 5M339 700l6 6m0-6l-6 6M340 697l6 6m0-6l-6 6M340 699l6 6m0-6l-6 6M341 703l5 5m0-5l-5 5M342 696l5 5m0-5l-5 5M341 702l6 6m0-6l-6 6M342 701l6 6m0-6l-6 6M343 692l5 5m0-5l-5 5M343 701l5 5m0-5l-5 5M343 694l6 6m0-6l-6 6M344 699l6 6m0-6l-6 6M344 701l6 6m0-6l-6 6M344 717l6 6m0-6l-6 6M345 702l5 5m0-5l-5 5M345 702l6 6m0-6l-6 6M346 718l5 5m0-5l-5 5M347 707l5 5m0-5l-5 5M347 708l5 5m0-5l-5 5M347 699l6 6m0-6l-6 6M347 721l6 6m0-6l-6 6M348 702l6 6m0-6l-6 6M349 702l5 5m0-5l-5 5M349 702l6 6m0-6l-6 6M349 707l6 6m0-6l-6 6M349 712l6 6m0-6l-6 6M350 704l6 6m0-6l-6 6M351 698l5 5m0-5l-5 5M351 705l5 5m0-5l-5 5M351 704l6 6m0-6l-6 6M352 708l5 5m0-5l-5 5M353 712l5 5m0-5l-5 5M353 701l5 5m0-5l-5 5M353 699l6 6m0-6l-6 6M353 698l6 6m0-6l-6 6M354 692l5 5m0-5l-5 5M355 701l5 5m0-5l-5 5M355 693l5 5m0-5l-5 5M355 704l6 6m0-6l-6 6M356 693l5 5m0-5l-5 5M356 699l6 6m0-6l-6 6M356 697l6 6m0-6l-6 6M357 689l6 6m0-6l-6 6M357 701l6 6m0-6l-6 6M357 703l6 6m0-6l-6 6M358 702l5 5m0-5l-5 5M359 704l5 5m0-5l-5 5M359 697l5 5m0-5l-5 5M359 707l6 6m0-6l-6 6M360 698l6 6m0-6l-6 6M360 697l6 6m0-6l-6 6M360 708l6 6m0-6l-6 6M361 691l6 6m0-6l-6 6M362 697l5 5m0-5l-5 5M362 697l5 5m0-5l-5 5M362 692l6 6m0-6l-6 6M363 703l6 6m0-6l-6 6M363 697l5 5m0-5l-5 5M364 699l5 5m0-5l-5 5M364 698l6 6m0-6l-6 6M364 704l6 6m0-6l-6 6M365 694l6 6m0-6l-6 6M366 702l5 5m0-5l-5 5M366 695l5 5m0-5l-5 5M366 697l5 5m0-5l-5 5M367 704l5 5m0-5l-5 5M367 694l6 6m0-6l-6 6M368 694l5 5m0-5l-5 5M368 689l5 5m0-5l-5 5M368 698l6 6m0-6l-6 6M368 697l6 6m0-6l-6 6M369 694l5 5m0-5l-5 5M369 700l6 6m0-6l-6 6M370 704l5 5m0-5l-5 5M370 691l6 6m0-6l-6 6M371 684l6 6m0-6l-6 6M371 690l5 5m0-5l-5 5M371 692l6 6m0-6l-6 6M372 696l5 5m0-5l-5 5M372 694l6 6m0-6l-6 6M373 690l6 6m0-6l-6 6M373 697l6 6m0-6l-6 6M373 696l6 6m0-6l-6 6M374 691l6 6m0-6l-6 6M374 696l6 6m0-6l-6 6M375 696l6 6m0-6l-6 6M376 693l5 5m0-5l-5 5M376 687l5 5m0-5l-5 5M377 688l5 5m0-5l-5 5M377 675l5 5m0-5l-5 5M377 687l5 5m0-5l-5 5M377 675l6 6m0-6l-6 6M378 684l6 6m0-6l-6 6M379 686l5 5m0-5l-5 5M379 684l6 6m0-6l-6 6M379 679l6 6m0-6l-6 6M380 681l5 5m0-5l-5 5M380 684l5 5m0-5l-5 5M381 683l5 5m0-5l-5 5M381 681l5 5m0-5l-5 5M382 675l5 5m0-5l-5 5M382 670l5 5m0-5l-5 5M382 675l6 6m0-6l-6 6M383 681l5 5m0-5l-5 5M383 678l6 6m0-6l-6 6M383 683l6 6m0-6l-6 6M384 675l5 5m0-5l-5 5M384 683l6 6m0-6l-6 6M384 673l6 6m0-6l-6 6M385 676l6 6m0-6l-6 6M386 685l5 5m0-5l-5 5M386 681l6 6m0-6l-6 6M387 687l5 5m0-5l-5 5M387 682l5 5m0-5l-5 5M387 679l5 5m0-5l-5 5M388 675l5 5m0-5l-5 5M388 688l6 6m0-6l-6 6M388 678l6 6m0-6l-6 6M389 682l5 5m0-5l-5 5M390 687l5 5m0-5l-5 5M390 670l6 6m0-6l-6 6M390 679l5 5m0-5l-5 5M390 670l6 6m0-6l-6 6M391 684l6 6m0-6l-6 6M391 679l6 6m0-6l-6 6M392 674l6 6m0-6l-6 6M392 682l6 6m0-6l-6 6M393 675l5 5m0-5l-5 5M393 680l6 6m0-6l-6 6M393 669l6 6m0-6l-6 6M394 682l6 6m0-6l-6 6M394 666l6 6m0-6l-6 6M395 671l6 6m0-6l-6 6M395 677l6 6m0-6l-6 6M396 673l5 5m0-5l-5 5M396 685l6 6m0-6l-6 6M396 673l6 6m0-6l-6 6M397 686l6 6m0-6l-6 6M398 681l5 5m0-5l-5 5M398 683l6 6m0-6l-6 6M398 689l6 6m0-6l-6 6M398 682l6 6m0-6l-6 6M399 680l6 6m0-6l-6 6M399 692l6 6m0-6l-6 6M400 685l6 6m0-6l-6 6M401 692l5 5m0-5l-5 5M400 687l6 6m0-6l-6 6M401 683l5 5m0-5l-5 5M401 683l6 6m0-6l-6 6M402 697l6 6m0-6l-6 6M403 685l5 5m0-5l-5 5M403 691l5 5m0-5l-5 5M403 691l5 5m0-5l-5 5M403 695l6 6m0-6l-6 6M404 699l5 5m0-5l-5 5M405 693l5 5m0-5l-5 5M405 697l6 6m0-6l-6 6M405 687l6 6m0-6l-6 6M406 687l5 5m0-5l-5 5M406 700l6 6m0-6l-6 6M407 701l5 5m0-5l-5 5M407 698l5 5m0-5l-5 5M408 704l5 5m0-5l-5 5M408 706l6 6m0-6l-6 6M409 704l5 5m0-5l-5 5M408 705l6 6m0-6l-6 6M409 712l6 6m0-6l-6 6M410 705l5 5m0-5l-5 5M410 708l5 5m0-5l-5 5M410 704l6 6m0-6l-6 6M411 696l6 6m0-6l-6 6M411 708l6 6m0-6l-6 6M411 700l6 6m0-6l-6 6M412 706l5 5m0-5l-5 5M412 705l6 6m0-6l-6 6M413 704l6 6m0-6l-6 6M414 689l5 5m0-5l-5 5M414 704l5 5m0-5l-5 5M414 698l6 6m0-6l-6 6M414 701l6 6m0-6l-6 6M415 698l5 5m0-5l-5 5M415 690l6 6m0-6l-6 6M416 702l6 6m0-6l-6 6M417 713l5 5m0-5l-5 5M417 695l5 5m0-5l-5 5M417 692l6 6m0-6l-6 6M418 699l5 5m0-5l-5 5M418 696l5 5m0-5l-5 5M419 694l5 5m0-5l-5 5M419 700l6 6m0-6l-6 6M420 709l5 5m0-5l-5 5M419 709l6 6m0-6l-6 6M420 698l5 5m0-5l-5 5M421 714l5 5m0-5l-5 5M421 711l5 5m0-5l-5 5M422 709l5 5m0-5l-5 5M422 703l6 6m0-6l-6 6M422 711l5 5m0-5l-5 5M422 713l6 6m0-6l-6 6M423 710l5 5m0-5l-5 5M423 711l6 6m0-6l-6 6M424 704l6 6m0-6l-6 6M425 704l5 5m0-5l-5 5M424 711l6 6m0-6l-6 6M425 708l5 5m0-5l-5 5M426 709l5 5m0-5l-5 5M426 707l5 5m0-5l-5 5M427 700l5 5m0-5l-5 5M427 707l6 6m0-6l-6 6M427 699l6 6m0-6l-6 6M427 716l6 6m0-6l-6 6M428 697l6 6m0-6l-6 6M428 701l6 6m0-6l-6 6M429 714l5 5m0-5l-5 5M429 702l6 6m0-6l-6 6M430 715l6 6m0-6l-6 6M430 690l5 5m0-5l-5 5M431 690l5 5m0-5l-5 5M431 696l6 6m0-6l-6 6M431 705l6 6m0-6l-6 6M432 699l5 5m0-5l-5 5M433 709l5 5m0-5l-5 5M432 695l6 6m0-6l-6 6M433 696l6 6m0-6l-6 6M434 695l5 5m0-5l-5 5M434 711l6 6m0-6l-6 6M435 707l5 5m0-5l-5 5M435 701l5 5m0-5l-5 5M435 704l6 6m0-6l-6 6M436 706l5 5m0-5l-5 5M436 699l6 6m0-6l-6 6M436 703l6 6m0-6l-6 6M437 709l5 5m0-5l-5 5M437 694l6 6m0-6l-6 6M438 713l5 5m0-5l-5 5M438 712l5 5m0-5l-5 5M438 692l6 6m0-6l-6 6M439 703l6 6m0-6l-6 6M439 697l6 6m0-6l-6 6M440 703l5 5m0-5l-5 5M440 704l6 6m0-6l-6 6M441 712l5 5m0-5l-5 5M441 697l5 5m0-5l-5 5M442 697l5 5m0-5l-5 5M442 698l6 6m0-6l-6 6M442 706l6 6m0-6l-6 6M443 691l6 6m0-6l-6 6M443 695l6 6m0-6l-6 6M443 700l6 6m0-6l-6 6M444 697l6 6m0-6l-6 6M445 700l5 5m0-5l-5 5M445 698l6 6m0-6l-6 6M445 702l6 6m0-6l-6 6M446 691l6 6m0-6l-6 6M446 703l6 6m0-6l-6 6M447 699l5 5m0-5l-5 5M447 697l6 6m0-6l-6 6M448 696l5 5m0-5l-5 5M448 693l5 5m0-5l-5 5M448 693l6 6m0-6l-6 6M449 687l6 6m0-6l-6 6M449 694l5 5m0-5l-5 5M450 694l5 5m0-5l-5 5M450 696l6 6m0-6l-6 6M451 694l5 5m0-5l-5 5M451 693l6 6m0-6l-6 6M452 695l5 5m0-5l-5 5M452 694l5 5m0-5l-5 5M452 686l5 5m0-5l-5 5M453 684l5 5m0-5l-5 5M453 694l5 5m0-5l-5 5M453 676l6 6m0-6l-6 6M454 683l6 6m0-6l-6 6M454 691l6 6m0-6l-6 6M455 701l5 5m0-5l-5 5M455 689l6 6m0-6l-6 6M456 689l5 5m0-5l-5 5M456 689l5 5m0-5l-5 5M457 690l5 5m0-5l-5 5M457 687l6 6m0-6l-6 6M457 678l6 6m0-6l-6 6M457 678l6 6m0-6l-6 6M458 689l6 6m0-6l-6 6M458 691l6 6m0-6l-6 6M459 693l5 5m0-5l-5 5M459 682l6 6m0-6l-6 6M460 690l5 5m0-5l-5 5M460 688l5 5m0-5l-5 5M460 691l6 6m0-6l-6 6M461 692l5 5m0-5l-5 5M461 690l6 6m0-6l-6 6M462 688l6 6m0-6l-6 6M462 689l5 5m0-5l-5 5M462 692l6 6m0-6l-6 6M463 687l5 5m0-5l-5 5M463 694l6 6m0-6l-6 6M464 682l5 5m0-5l-5 5M465 690l5 5m0-5l-5 5M465 693l6 6m0-6l-6 6M465 692l6 6m0-6l-6 6M466 684l5 5m0-5l-5 5M466 684l5 5m0-5l-5 5M466 700l6 6m0-6l-6 6M467 694l6 6m0-6l-6 6M468 703l5 5m0-5l-5 5M467 688l6 6m0-6l-6 6M468 694l5 5m0-5l-5 5M468 693l6 6m0-6l-6 6M469 688l6 6m0-6l-6 6M470 687l5 5m0-5l-5 5M470 702l5 5m0-5l-5 5M470 697l5 5m0-5l-5 5M471 697l5 5m0-5l-5 5M471 699l5 5m0-5l-5 5M472 689l5 5m0-5l-5 5M472 698l5 5m0-5l-5 5M472 696l6 6m0-6l-6 6M473 689l5 5m0-5l-5 5M473 699l5 5m0-5l-5 5M473 690l6 6m0-6l-6 6M474 689l6 6m0-6l-6 6M475 688l5 5m0-5l-5 5M475 696l5 5m0-5l-5 5M475 686l6 6m0-6l-6 6M476 701l5 5m0-5l-5 5M476 693l6 6m0-6l-6 6M476 711l6 6m0-6l-6 6M477 694l5 5m0-5l-5 5M478 699l5 5m0-5l-5 5M478 692l6 6m0-6l-6 6M478 692l6 6m0-6l-6 6M479 692l5 5m0-5l-5 5M479 692l5 5m0-5l-5 5M480 698l5 5m0-5l-5 5M480 690l6 6m0-6l-6 6M481 696l5 5m0-5l-5 5M481 695l5 5m0-5l-5 5M481 687l5 5m0-5l-5 5M481 700l6 6m0-6l-6 6M482 687l5 5m0-5l-5 5M482 689l6 6m0-6l-6 6M483 700l6 6m0-6l-6 6M483 694l6 6m0-6l-6 6M484 683l5 5m0-5l-5 5M484 685l5 5m0-5l-5 5M484 697l6 6m0-6l-6 6M485 713l5 5m0-5l-5 5M485 696l6 6m0-6l-6 6M486 710l5 5m0-5l-5 5M486 694l6 6m0-6l-6 6M486 709l6 6m0-6l-6 6M487 696l6 6m0-6l-6 6M488 702l5 5m0-5l-5 5M488 707l5 5m0-5l-5 5M489 714l5 5m0-5l-5 5M489 714l5 5m0-5l-5 5M489 708l6 6m0-6l-6 6M490 717l5 5m0-5l-5 5M490 703l5 5m0-5l-5 5M491 712l5 5m0-5l-5 5M491 706l6 6m0-6l-6 6M492 714l5 5m0-5l-5 5M491 709l6 6m0-6l-6 6M492 709l6 6m0-6l-6 6M493 701l5 5m0-5l-5 5M493 707l6 6m0-6l-6 6M493 700l6 6m0-6l-6 6M494 711l5 5m0-5l-5 5M495 704l5 5m0-5l-5 5M495 711l5 5m0-5l-5 5M495 698l5 5m0-5l-5 5M496 712l5 5m0-5l-5 5M496 694l6 6m0-6l-6 6M496 703l6 6m0-6l-6 6M497 702l6 6m0-6l-6 6M497 704l6 6m0-6l-6 6M498 701l5 5m0-5l-5 5M498 705l5 5m0-5l-5 5M498 704l6 6m0-6l-6 6M499 687l5 5m0-5l-5 5M500 706l5 5m0-5l-5 5M500 699l5 5m0-5l-5 5M500 704l6 6m0-6l-6 6M500 700l6 6m0-6l-6 6M501 700l5 5m0-5l-5 5M502 699l5 5m0-5l-5 5M502 706l6 6m0-6l-6 6M502 693l6 6m0-6l-6 6M502 698l6 6m0-6l-6 6M503 702l5 5m0-5l-5 5M504 682l5 5m0-5l-5 5M504 695l5 5m0-5l-5 5M505 694l5 5m0-5l-5 5M505 702l6 6m0-6l-6 6M505 687l5 5m0-5l-5 5M505 695l6 6m0-6l-6 6M506 689l5 5m0-5l-5 5M506 681l6 6m0-6l-6 6M507 701l6 6m0-6l-6 6M508 687l5 5m0-5l-5 5M508 681l6 6m0-6l-6 6M508 692l5 5m0-5l-5 5M509 681l5 5m0-5l-5 5M509 683l6 6m0-6l-6 6M509 686l6 6m0-6l-6 6M510 685l6 6m0-6l-6 6M511 677l5 5m0-5l-5 5M511 679l5 5m0-5l-5 5M511 681l6 6m0-6l-6 6M511 682l6 6m0-6l-6 6M512 689l5 5m0-5l-5 5M512 678l6 6m0-6l-6 6M513 684l5 5m0-5l-5 5M513 674l5 5m0-5l-5 5M513 675l6 6m0-6l-6 6M514 669l5 5m0-5l-5 5M514 689l6 6m0-6l-6 6M515 669l5 5m0-5l-5 5M516 676l5 5m0-5l-5 5M516 672l6 6m0-6l-6 6M516 681l6 6m0-6l-6 6M516 676l6 6m0-6l-6 6M517 669l6 6m0-6l-6 6M517 687l6 6m0-6l-6 6M518 682l5 5m0-5l-5 5M518 676l6 6m0-6l-6 6M519 669l5 5m0-5l-5 5M519 670l6 6m0-6l-6 6M519 670l6 6m0-6l-6 6M520 666l5 5m0-5l-5 5M521 667l5 5m0-5l-5 5M521 660l6 6m0-6l-6 6M521 660l6 6m0-6l-6 6M522 666l5 5m0-5l-5 5M522 672l5 5m0-5l-5 5M522 672l6 6m0-6l-6 6M523 674l6 6m0-6l-6 6M524 678l5 5m0-5l-5 5M524 670l6 6m0-6l-6 6M524 673l5 5m0-5l-5 5M525 673l5 5m0-5l-5 5M525 669l6 6m0-6l-6 6M525 680l6 6m0-6l-6 6M526 669l6 6m0-6l-6 6M527 672l5 5m0-5l-5 5M527 676l5 5m0-5l-5 5M527 670l5 5m0-5l-5 5M527 670l6 6m0-6l-6 6M528 677l6 6m0-6l-6 6M529 675l5 5m0-5l-5 5M529 672l5 5m0-5l-5 5M529 670l6 6m0-6l-6 6M529 669l6 6m0-6l-6 6M530 671l5 5m0-5l-5 5M530 665l6 6m0-6l-6 6M531 669l5 5m0-5l-5 5M531 656l6 6m0-6l-6 6M532 668l6 6m0-6l-6 6M532 678l5 5m0-5l-5 5M532 669l6 6m0-6l-6 6M533 674l6 6m0-6l-6 6M533 681l6 6m0-6l-6 6M534 670l5 5m0-5l-5 5M534 676l6 6m0-6l-6 6M534 675l6 6m0-6l-6 6M535 686l6 6m0-6l-6 6M536 687l5 5m0-5l-5 5M536 683l6 6m0-6l-6 6M537 682l5 5m0-5l-5 5M537 680l5 5m0-5l-5 5M537 679l6 6m0-6l-6 6M537 673l6 6m0-6l-6 6M538 681l5 5m0-5l-5 5M539 687l5 5m0-5l-5 5M539 686l6 6m0-6l-6 6M540 681l5 5m0-5l-5 5M540 682l5 5m0-5l-5 5M540 690l5 5m0-5l-5 5M540 694l6 6m0-6l-6 6M541 689l5 5m0-5l-5 5M542 681l5 5m0-5l-5 5M542 684l6 6m0-6l-6 6M542 686l6 6m0-6l-6 6M543 685l5 5m0-5l-5 5M543 676l5 5m0-5l-5 5M544 684l5 5m0-5l-5 5M544 678l5 5m0-5l-5 5M544 678l6 6m0-6l-6 6M545 677l6 6m0-6l-6 6M546 673l5 5m0-5l-5 5M545 681l6 6m0-6l-6 6M546 674l6 6m0-6l-6 6M547 679l5 5m0-5l-5 5M547 678l6 6m0-6l-6 6M547 674l6 6m0-6l-6 6M548 689l5 5m0-5l-5 5M548 671l6 6m0-6l-6 6M548 677l6 6m0-6l-6 6M549 676l5 5m0-5l-5 5M550 676l5 5m0-5l-5 5M550 682l6 6m0-6l-6 6M550 671l6 6m0-6l-6 6M550 678l6 6m0-6l-6 6M551 678l6 6m0-6l-6 6M551 676l6 6m0-6l-6 6M552 676l6 6m0-6l-6 6M553 675l5 5m0-5l-5 5M553 666l6 6m0-6l-6 6M553 668l6 6m0-6l-6 6M554 672l5 5m0-5l-5 5M554 674l5 5m0-5l-5 5M554 668l6 6m0-6l-6 6M555 665l6 6m0-6l-6 6M556 672l5 5m0-5l-5 5M556 680l5 5m0-5l-5 5M556 662l6 6m0-6l-6 6M557 667l5 5m0-5l-5 5M557 665l6 6m0-6l-6 6M558 663l5 5m0-5l-5 5M558 666l6 6m0-6l-6 6M558 654l6 6m0-6l-6 6M559 664l5 5m0-5l-5 5M559 666l5 5m0-5l-5 5M559 655l6 6m0-6l-6 6M560 656l6 6m0-6l-6 6M561 649l5 5m0-5l-5 5M561 655l5 5m0-5l-5 5M562 652l5 5m0-5l-5 5M562 648l5 5m0-5l-5 5M562 649l6 6m0-6l-6 6M562 645l6 6m0-6l-6 6M563 647l5 5m0-5l-5 5M563 629l6 6m0-6l-6 6M564 649l5 5m0-5l-5 5M564 643l5 5m0-5l-5 5M565 637l5 5m0-5l-5 5M565 643l6 6m0-6l-6 6M565 643l6 6m0-6l-6 6M566 635l6 6m0-6l-6 6M567 634l5 5m0-5l-5 5M566 634l6 6m0-6l-6 6M567 631l5 5m0-5l-5 5M567 640l6 6m0-6l-6 6M568 645l5 5m0-5l-5 5M569 640l5 5m0-5l-5 5M569 631l5 5m0-5l-5 5M569 633l6 6m0-6l-6 6M569 641l6 6m0-6l-6 6M570 634l6 6m0-6l-6 6M570 635l6 6m0-6l-6 6M571 639l5 5m0-5l-5 5M571 631l6 6m0-6l-6 6M572 640l5 5m0-5l-5 5M572 644l6 6m0-6l-6 6M572 630l6 6m0-6l-6 6M573 634l5 5m0-5l-5 5M574 640l5 5m0-5l-5 5M574 630l6 6m0-6l-6 6M575 631l5 5m0-5l-5 5M575 639l5 5m0-5l-5 5M575 633l6 6m0-6l-6 6M576 633l5 5m0-5l-5 5M576 630l6 6m0-6l-6 6M576 634l6 6m0-6l-6 6M577 645l5 5m0-5l-5 5M578 627l5 5m0-5l-5 5M577 640l6 6m0-6l-6 6M578 637l5 5m0-5l-5 5M578 642l6 6m0-6l-6 6M579 645l5 5m0-5l-5 5M580 647l5 5m0-5l-5 5M580 631l5 5m0-5l-5 5M580 636l6 6m0-6l-6 6M580 635l6 6m0-6l-6 6M581 644l5 5m0-5l-5 5M581 637l6 6m0-6l-6 6M582 639l5 5m0-5l-5 5M582 636l6 6m0-6l-6 6M583 634l6 6m0-6l-6 6M583 634l6 6m0-6l-6 6M584 630l5 5m0-5l-5 5M584 634l5 5m0-5l-5 5M584 632l6 6m0-6l-6 6M585 646l5 5m0-5l-5 5M585 640l6 6m0-6l-6 6M586 644l5 5m0-5l-5 5M586 644l5 5m0-5l-5 5M586 635l6 6m0-6l-6 6M587 645l5 5m0-5l-5 5M588 644l5 5m0-5l-5 5M588 645l6 6m0-6l-6 6M588 644l6 6m0-6l-6 6M588 645l6 6m0-6l-6 6M589 644l5 5m0-5l-5 5M590 639l5 5m0-5l-5 5M590 636l5 5m0-5l-5 5M590 650l6 6m0-6l-6 6M591 643l6 6m0-6l-6 6M591 648l5 5m0-5l-5 5M592 643l5 5m0-5l-5 5M592 643l6 6m0-6l-6 6M593 637l5 5m0-5l-5 5M593 645l5 5m0-5l-5 5M593 639l6 6m0-6l-6 6M593 651l6 6m0-6l-6 6M594 645l5 5m0-5l-5 5M594 630l6 6m0-6l-6 6M595 633l6 6m0-6l-6 6M595 643l6 6m0-6l-6 6M596 631l5 5m0-5l-5 5M596 629l6 6m0-6l-6 6M596 629l6 6m0-6l-6 6M597 629l5 5m0-5l-5 5M598 632l5 5m0-5l-5 5M598 635l5 5m0-5l-5 5M598 621l6 6m0-6l-6 6M599 626l5 5m0-5l-5 5M599 624l6 6m0-6l-6 6M599 622l6 6m0-6l-6 6M600 628l6 6m0-6l-6 6M601 621l5 5m0-5l-5 5M601 627l6 6m0-6l-6 6M601 625l6 6m0-6l-6 6M602 622l5 5m0-5l-5 5M602 628l6 6m0-6l-6 6M602 627l6 6m0-6l-6 6M603 616l5 5m0-5l-5 5M603 624l6 6m0-6l-6 6M604 634l6 6m0-6l-6 6M605 616l5 5m0-5l-5 5M604 626l6 6m0-6l-6 6M605 619l6 6m0-6l-6 6M606 625l5 5m0-5l-5 5M606 630l6 6m0-6l-6 6M606 621l6 6m0-6l-6 6M607 609l6 6m0-6l-6 6M607 625l5 5m0-5l-5 5M608 624l5 5m0-5l-5 5M608 616l5 5m0-5l-5 5M608 616l6 6m0-6l-6 6M609 628l5 5m0-5l-5 5M609 610l6 6m0-6l-6 6M610 613l5 5m0-5l-5 5M610 621l6 6m0-6l-6 6M611 624l5 5m0-5l-5 5M611 618l5 5m0-5l-5 5M612 611l5 5m0-5l-5 5M612 623l6 6m0-6l-6 6M613 615l5 5m0-5l-5 5M613 626l5 5m0-5l-5 5M613 616l5 5m0-5l-5 5M614 620l5 5m0-5l-5 5M614 623l6 6m0-6l-6 6M614 622l6 6m0-6l-6 6M615 615l5 5m0-5l-5 5M615 625l6 6m0-6l-6 6M616 624l5 5m0-5l-5 5M616 611l5 5m0-5l-5 5M616 624l6 6m0-6l-6 6M617 627l5 5m0-5l-5 5M617 633l6 6m0-6l-6 6M618 630l5 5m0-5l-5 5M618 619l5 5m0-5l-5 5M619 627l5 5m0-5l-5 5M619 618l6 6m0-6l-6 6M620 621l5 5m0-5l-5 5M620 626l5 5m0-5l-5 5M620 630l6 6m0-6l-6 6M620 637l6 6m0-6l-6 6M621 627l5 5m0-5l-5 5M622 634l5 5m0-5l-5 5M622 638l5 5m0-5l-5 5M622 626l6 6m0-6l-6 6M623 622l5 5m0-5l-5 5M623 622l6 6m0-6l-6 6M623 634l6 6m0-6l-6 6M624 623l6 6m0-6l-6 6M625 623l5 5m0-5l-5 5M625 629l6 6m0-6l-6 6M625 633l6 6m0-6l-6 6M625 627l6 6m0-6l-6 6M626 633l6 6m0-6l-6 6M626 636l6 6m0-6l-6 6M627 621l6 6m0-6l-6 6M627 636l6 6m0-6l-6 6M628 620l6 6m0-6l-6 6M628 630l6 6m0-6l-6 6M629 630l5 5m0-5l-5 5M629 630l6 6m0-6l-6 6M629 637l6 6m0-6l-6 6M630 638l5 5m0-5l-5 5M631 637l5 5m0-5l-5 5M631 632l6 6m0-6l-6 6M631 635l6 6m0-6l-6 6M632 627l5 5m0-5l-5 5M632 634l5 5m0-5l-5 5M633 641l5 5m0-5l-5 5M633 637l5 5m0-5l-5 5M634 636l5 5m0-5l-5 5M634 639l6 6m0-6l-6 6M634 632l6 6m0-6l-6 6M634 629l6 6m0-6l-6 6M635 635l5 5m0-5l-5 5M636 636l5 5m0-5l-5 5M636 640l6 6m0-6l-6 6M636 632l6 6m0-6l-6 6M636 631l6 6m0-6l-6 6M637 629l5 5m0-5l-5 5M637 630l6 6m0-6l-6 6M638 624l6 6m0-6l-6 6M638 622l6 6m0-6l-6 6M639 623l6 6m0-6l-6 6M639 630l5 5m0-5l-5 5M640 620l5 5m0-5l-5 5M640 619l6 6m0-6l-6 6M641 621l5 5m0-5l-5 5M641 617l5 5m0-5l-5 5M641 608l6 6m0-6l-6 6M642 621l6 6m0-6l-6 6M642 626l6 6m0-6l-6 6M642 630l6 6m0-6l-6 6M643 617l5 5m0-5l-5 5M644 629l5 5m0-5l-5 5M644 632l6 6m0-6l-6 6M645 637l5 5m0-5l-5 5M645 625l5 5m0-5l-5 5M645 633l6 6m0-6l-6 6M646 629l5 5m0-5l-5 5M646 630l5 5m0-5l-5 5M647 624l5 5m0-5l-5 5M647 636l5 5m0-5l-5 5M647 623l5 5m0-5l-5 5M647 635l6 6m0-6l-6 6M648 631l6 6m0-6l-6 6M648 624l6 6m0-6l-6 6M649 640l6 6m0-6l-6 6M649 632l6 6m0-6l-6 6M650 617l6 6m0-6l-6 6M650 626l5 5m0-5l-5 5M650 628l6 6m0-6l-6 6M651 619l6 6m0-6l-6 6M652 627l5 5m0-5l-5 5M652 624l5 5m0-5l-5 5M652 620l6 6m0-6l-6 6M653 623l5 5m0-5l-5 5M653 622l6 6m0-6l-6 6M653 615l6 6m0-6l-6 6M654 615l5 5m0-5l-5 5M654 611l6 6m0-6l-6 6M655 622l5 5m0-5l-5 5M655 629l5 5m0-5l-5 5M656 617l5 5m0-5l-5 5M656 619l5 5m0-5l-5 5M656 611l6 6m0-6l-6 6M657 617l6 6m0-6l-6 6M658 623l5 5m0-5l-5 5M658 619l5 5m0-5l-5 5M658 620l5 5m0-5l-5 5M659 620l5 5m0-5l-5 5M659 619l6 6m0-6l-6 6M659 619l6 6m0-6l-6 6M660 611l6 6m0-6l-6 6M661 611l5 5m0-5l-5 5M660 616l6 6m0-6l-6 6M661 620l5 5m0-5l-5 5M661 615l6 6m0-6l-6 6M662 624l5 5m0-5l-5 5M663 620l5 5m0-5l-5 5M663 616l6 6m0-6l-6 6M664 619l5 5m0-5l-5 5M664 618l5 5m0-5l-5 5M664 619l5 5m0-5l-5 5M665 625l5 5m0-5l-5 5M665 628l5 5m0-5l-5 5M666 611l5 5m0-5l-5 5M666 607l6 6m0-6l-6 6M666 618l5 5m0-5l-5 5M666 621l6 6m0-6l-6 6M667 619l6 6m0-6l-6 6M668 623l5 5m0-5l-5 5M668 619l6 6m0-6l-6 6M668 621l6 6m0-6l-6 6M669 621l5 5m0-5l-5 5M669 626l5 5m0-5l-5 5M669 619l6 6m0-6l-6 6M670 621l6 6m0-6l-6 6M671 620l5 5m0-5l-5 5M671 613l5 5m0-5l-5 5M672 618l5 5m0-5l-5 5M671 612l6 6m0-6l-6 6M672 621l5 5m0-5l-5 5M673 623l5 5m0-5l-5 5M673 618l5 5m0-5l-5 5M674 624l5 5m0-5l-5 5M674 616l5 5m0-5l-5 5M674 621l5 5m0-5l-5 5M675 600l5 5m0-5l-5 5M675 610l6 6m0-6l-6 6M676 629l5 5m0-5l-5 5M676 614l5 5m0-5l-5 5M677 606l5 5m0-5l-5 5M676 612l6 6m0-6l-6 6M677 609l6 6m0-6l-6 6M678 604l5 5m0-5l-5 5M678 603l5 5m0-5l-5 5M678 606l6 6m0-6l-6 6M679 606l6 6m0-6l-6 6M680 607l5 5m0-5l-5 5M680 616l5 5m0-5l-5 5M680 608l5 5m0-5l-5 5M680 605l6 6m0-6l-6 6M681 619l6 6m0-6l-6 6M681 603l6 6m0-6l-6 6M682 601l6 6m0-6l-6 6M682 608l6 6m0-6l-6 6M683 603l5 5m0-5l-5 5M683 602l5 5m0-5l-5 5M683 603l6 6m0-6l-6 6M684 602l5 5m0-5l-5 5M684 608l6 6m0-6l-6 6M684 601l6 6m0-6l-6 6M685 598l5 5m0-5l-5 5M686 611l5 5m0-5l-5 5M686 598l6 6m0-6l-6 6M687 612l5 5m0-5l-5 5M687 594l5 5m0-5l-5 5M688 597l5 5m0-5l-5 5M687 602l6 6m0-6l-6 6M688 599l5 5m0-5l-5 5M688 602l6 6m0-6l-6 6M689 604l6 6m0-6l-6 6M690 601l5 5m0-5l-5 5M690 598l5 5m0-5l-5 5M690 603l5 5m0-5l-5 5M690 600l6 6m0-6l-6 6M691 601l6 6m0-6l-6 6M692 599l5 5m0-5l-5 5M692 602l5 5m0-5l-5 5M693 600l5 5m0-5l-5 5M692 591l6 6m0-6l-6 6M693 588l6 6m0-6l-6 6M693 601l6 6m0-6l-6 6M694 599l5 5m0-5l-5 5M694 600l6 6m0-6l-6 6M695 605l6 6m0-6l-6 6M695 602l6 6m0-6l-6 6M696 613l5 5m0-5l-5 5M696 599l5 5m0-5l-5 5M697 606l5 5m0-5l-5 5M697 604l6 6m0-6l-6 6M697 601l6 6m0-6l-6 6M698 606l5 5m0-5l-5 5M698 606l6 6m0-6l-6 6M699 611l5 5m0-5l-5 5M699 619l5 5m0-5l-5 5M699 605l6 6m0-6l-6 6M700 604l6 6m0-6l-6 6M701 614l5 5m0-5l-5 5M701 602l6 6m0-6l-6 6M701 618l5 5m0-5l-5 5M701 606l6 6m0-6l-6 6M702 620l6 6m0-6l-6 6M703 615l5 5m0-5l-5 5M703 617l6 6m0-6l-6 6M704 610l5 5m0-5l-5 5M703 613l6 6m0-6l-6 6M704 603l6 6m0-6l-6 6M704 614l6 6m0-6l-6 6M705 605l5 5m0-5l-5 5M706 606l5 5m0-5l-5 5M706 609l6 6m0-6l-6 6M706 613l6 6m0-6l-6 6M707 624l5 5m0-5l-5 5M707 613l5 5m0-5l-5 5M708 605l5 5m0-5l-5 5M708 620l6 6m0-6l-6 6M708 617l6 6m0-6l-6 6M709 619l5 5m0-5l-5 5M709 609l5 5m0-5l-5 5M709 594l6 6m0-6l-6 6M710 594l5 5m0-5l-5 5M710 611l6 6m0-6l-6 6M711 613l5 5m0-5l-5 5M712 616l5 5m0-5l-5 5M712 606l5 5m0-5l-5 5M712 605l5 5m0-5l-5 5M712 604l6 6m0-6l-6 6M713 600l5 5m0-5l-5 5M714 598l5 5m0-5l-5 5M714 607l5 5m0-5l-5 5M714 605l5 5m0-5l-5 5M714 612l6 6m0-6l-6 6M715 607l5 5m0-5l-5 5M716 605l5 5m0-5l-5 5M716 602l5 5m0-5l-5 5M716 600l6 6m0-6l-6 6M717 609l5 5m0-5l-5 5M717 602l6 6m0-6l-6 6M718 609l5 5m0-5l-5 5M718 611l6 6m0-6l-6 6M718 614l6 6m0-6l-6 6M719 599l6 6m0-6l-6 6M719 603l6 6m0-6l-6 6M720 599l5 5m0-5l-5 5M720 602l6 6m0-6l-6 6M721 601l5 5m0-5l-5 5M721 603l6 6m0-6l-6 6M721 598l6 6m0-6l-6 6M722 599l6 6m0-6l-6 6M722 603l6 6m0-6l-6 6M722 596l6 6m0-6l-6 6M723 607l6 6m0-6l-6 6M723 596l6 6m0-6l-6 6M724 595l5 5m0-5l-5 5M724 595l6 6m0-6l-6 6M725 588l5 5m0-5l-5 5M725 592l6 6m0-6l-6 6M726 596l5 5m0-5l-5 5M726 595l6 6m0-6l-6 6M727 596l5 5m0-5l-5 5M727 599l6 6m0-6l-6 6M727 597l6 6m0-6l-6 6M727 593l6 6m0-6l-6 6M728 596l5 5m0-5l-5 5M728 589l6 6m0-6l-6 6M729 601l6 6m0-6l-6 6M730 600l5 5m0-5l-5 5M730 597l6 6m0-6l-6 6M731 595l5 5m0-5l-5 5M730 602l6 6m0-6l-6 6M731 591l6 6m0-6l-6 6M732 606l5 5m0-5l-5 5M732 591l6 6m0-6l-6 6M732 602l6 6m0-6l-6 6M733 602l5 5m0-5l-5 5M733 603l5 5m0-5l-5 5M733 605l6 6m0-6l-6 6M734 602l6 6m0-6l-6 6M735 605l5 5m0-5l-5 5M735 608l6 6m0-6l-6 6M736 607l5 5m0-5l-5 5M735 612l6 6m0-6l-6 6M736 604l5 5m0-5l-5 5M736 607l6 6m0-6l-6 6M737 601l5 5m0-5l-5 5M738 612l5 5m0-5l-5 5M738 607l6 6m0-6l-6 6M739 610l5 5m0-5l-5 5M739 619l5 5m0-5l-5 5M739 607l5 5m0-5l-5 5M739 610l6 6m0-6l-6 6M740 615l6 6m0-6l-6 6M741 611l5 5m0-5l-5 5M741 602l6 6m0-6l-6 6M741 614l6 6m0-6l-6 6M741 606l6 6m0-6l-6 6M742 612l6 6m0-6l-6 6M742 610l6 6m0-6l-6 6M743 608l6 6m0-6l-6 6M743 609l6 6m0-6l-6 6M743 599l6 6m0-6l-6 6M744 617l6 6m0-6l-6 6M744 608l6 6m0-6l-6 6M745 611l5 5m0-5l-5 5M745 599l6 6m0-6l-6 6M746 607l5 5m0-5l-5 5M747 611l5 5m0-5l-5 5M747 607l5 5m0-5l-5 5M747 609l5 5m0-5l-5 5M748 610l5 5m0-5l-5 5M748 614l5 5m0-5l-5 5M748 602l6 6m0-6l-6 6M749 606l6 6m0-6l-6 6M749 609l6 6m0-6l-6 6M749 608l6 6m0-6l-6 6M750 603l5 5m0-5l-5 5M751 608l5 5m0-5l-5 5M751 611l6 6m0-6l-6 6M752 607l5 5m0-5l-5 5M751 612l6 6m0-6l-6 6M752 614l5 5m0-5l-5 5M752 607l6 6m0-6l-6 6M753 606l5 5m0-5l-5 5M753 608l6 6m0-6l-6 6M754 628l6 6m0-6l-6 6M754 607l6 6m0-6l-6 6M754 609l6 6m0-6l-6 6M755 611l5 5m0-5l-5 5M756 610l5 5m0-5l-5 5M756 606l6 6m0-6l-6 6M757 612l5 5m0-5l-5 5M757 611l6 6m0-6l-6 6M757 610l5 5m0-5l-5 5M758 614l5 5m0-5l-5 5M758 615l5 5m0-5l-5 5M759 613l5 5m0-5l-5 5M759 613l5 5m0-5l-5 5M759 611l6 6m0-6l-6 6M760 617l5 5m0-5l-5 5M760 620l5 5m0-5l-5 5M761 617l5 5m0-5l-5 5M761 609l5 5m0-5l-5 5M761 622l6 6m0-6l-6 6M762 604l6 6m0-6l-6 6M763 609l5 5m0-5l-5 5M762 608l6 6m0-6l-6 6M763 616l5 5m0-5l-5 5M763 619l6 6m0-6l-6 6M764 612l6 6m0-6l-6 6M765 618l5 5m0-5l-5 5M765 612l6 6m0-6l-6 6M765 614l6 6m0-6l-6 6M765 609l6 6m0-6l-6 6M766 618l5 5m0-5l-5 5M767 611l5 5m0-5l-5 5M767 615l5 5m0-5l-5 5M768 609l5 5m0-5l-5 5M768 610l5 5m0-5l-5 5M768 594l6 6m0-6l-6 6M769 601l5 5m0-5l-5 5M769 610l6 6m0-6l-6 6M770 606l5 5m0-5l-5 5M770 600l6 6m0-6l-6 6M770 604l6 6m0-6l-6 6M771 601l5 5m0-5l-5 5M771 611l6 6m0-6l-6 6M772 617l5 5m0-5l-5 5M772 604l5 5m0-5l-5 5M773 608l5 5m0-5l-5 5M773 609l5 5m0-5l-5 5M773 602l5 5m0-5l-5 5M773 607l6 6m0-6l-6 6M774 610l5 5m0-5l-5 5M774 602l6 6m0-6l-6 6M775 599l6 6m0-6l-6 6M776 598l5 5m0-5l-5 5M776 614l6 6m0-6l-6 6M776 602l6 6m0-6l-6 6M777 602l5 5m0-5l-5 5M777 596l6 6m0-6l-6 6M778 609l5 5m0-5l-5 5M778 598l5 5m0-5l-5 5M779 603l5 5m0-5l-5 5M778 603l6 6m0-6l-6 6M779 606l5 5m0-5l-5 5M780 594l5 5m0-5l-5 5M780 601l6 6m0-6l-6 6M781 599l5 5m0-5l-5 5M781 601l5 5m0-5l-5 5M781 601l6 6m0-6l-6 6M782 594l5 5m0-5l-5 5M782 604l5 5m0-5l-5 5M782 601l6 6m0-6l-6 6M783 601l5 5m0-5l-5 5M784 599l5 5m0-5l-5 5M784 604l5 5m0-5l-5 5M784 606l6 6m0-6l-6 6M784 605l6 6m0-6l-6 6M785 602l5 5m0-5l-5 5M785 603l6 6m0-6l-6 6M786 605l6 6m0-6l-6 6M786 614l6 6m0-6l-6 6M786 594l6 6m0-6l-6 6M787 610l6 6m0-6l-6 6M787 607l6 6m0-6l-6 6M788 608l5 5m0-5l-5 5M789 612l5 5m0-5l-5 5M789 612l6 6m0-6l-6 6M789 608l6 6m0-6l-6 6M790 602l5 5m0-5l-5 5M790 603l5 5m0-5l-5 5M790 600l6 6m0-6l-6 6M791 612l5 5m0-5l-5 5M791 617l6 6m0-6l-6 6M792 610l5 5m0-5l-5 5M792 610l6 6m0-6l-6 6M793 613l5 5m0-5l-5 5M793 616l6 6m0-6l-6 6M794 622l5 5m0-5l-5 5M794 612l6 6m0-6l-6 6M794 614l6 6m0-6l-6 6M794 620l6 6m0-6l-6 6M795 620l5 5m0-5l-5 5M795 606l6 6m0-6l-6 6M796 610l5 5m0-5l-5 5M797 612l5 5m0-5l-5 5M797 610l5 5m0-5l-5 5M798 610l5 5m0-5l-5 5M798 611l5 5m0-5l-5 5M798 611l5 5m0-5l-5 5M799 609l5 5m0-5l-5 5M799 620l5 5m0-5l-5 5M799 613l6 6m0-6l-6 6M800 614l6 6m0-6l-6 6M800 611l5 5m0-5l-5 5M800 618l6 6m0-6l-6 6M801 615l5 5m0-5l-5 5M802 609l5 5m0-5l-5 5M802 612l5 5m0-5l-5 5M803 601l5 5m0-5l-5 5M802 611l6 6m0-6l-6 6M803 615l6 6m0-6l-6 6M803 611l6 6m0-6l-6 6M804 612l5 5m0-5l-5 5M804 608l6 6m0-6l-6 6M805 608l6 6m0-6l-6 6M806 612l5 5m0-5l-5 5M805 604l6 6m0-6l-6 6M806 608l6 6m0-6l-6 6M807 596l5 5m0-5l-5 5M807 604l5 5m0-5l-5 5M807 604l6 6m0-6l-6 6M808 598l6 6m0-6l-6 6M808 597l5 5m0-5l-5 5M808 605l6 6m0-6l-6 6M809 613l5 5m0-5l-5 5M810 597l5 5m0-5l-5 5M810 602l6 6m0-6l-6 6M811 600l5 5m0-5l-5 5M811 594l5 5m0-5l-5 5M811 607l5 5m0-5l-5 5M811 609l6 6m0-6l-6 6M812 611l6 6m0-6l-6 6M812 609l6 6m0-6l-6 6M813 593l6 6m0-6l-6 6M814 590l5 5m0-5l-5 5M814 599l5 5m0-5l-5 5M814 594l6 6m0-6l-6 6M815 591l5 5m0-5l-5 5M815 594l6 6m0-6l-6 6M816 597l5 5m0-5l-5 5M816 593l5 5m0-5l-5 5M816 596l6 6m0-6l-6 6M817 601l5 5m0-5l-5 5M817 592l5 5m0-5l-5 5M817 595l6 6m0-6l-6 6M818 598l6 6m0-6l-6 6M818 591l6 6m0-6l-6 6M819 601l5 5m0-5l-5 5M819 606l5 5m0-5l-5 5M820 611l5 5m0-5l-5 5M820 611l5 5m0-5l-5 5M821 600l5 5m0-5l-5 5M821 600l6 6m0-6l-6 6M822 603l5 5m0-5l-5 5M821 594l6 6m0-6l-6 6M822 607l5 5m0-5l-5 5M823 589l5 5m0-5l-5 5M823 597l5 5m0-5l-5 5M823 600l6 6m0-6l-6 6M824 595l5 5m0-5l-5 5M824 601l5 5m0-5l-5 5M825 584l5 5m0-5l-5 5M825 589l6 6m0-6l-6 6M825 592l6 6m0-6l-6 6M826 582l5 5m0-5l-5 5M827 592l5 5m0-5l-5 5M827 585l6 6m0-6l-6 6M827 590l5 5m0-5l-5 5M828 589l5 5m0-5l-5 5M828 599l6 6m0-6l-6 6M829 591l5 5m0-5l-5 5M829 597l6 6m0-6l-6 6M829 586l6 6m0-6l-6 6M829 593l6 6m0-6l-6 6M830 592l6 6m0-6l-6 6M830 593l6 6m0-6l-6 6M831 596l5 5m0-5l-5 5M831 597l6 6m0-6l-6 6M832 603l6 6m0-6l-6 6M832 598l5 5m0-5l-5 5M833 597l5 5m0-5l-5 5M833 594l6 6m0-6l-6 6M833 586l6 6m0-6l-6 6M834 594l5 5m0-5l-5 5M834 605l6 6m0-6l-6 6M835 594l5 5m0-5l-5 5M835 584l6 6m0-6l-6 6M835 592l6 6m0-6l-6 6M836 594l6 6m0-6l-6 6M836 591l6 6m0-6l-6 6M837 576l6 6m0-6l-6 6M838 582l5 5m0-5l-5 5M838 595l5 5m0-5l-5 5M838 596l5 5m0-5l-5 5M839 594l5 5m0-5l-5 5M839 580l5 5m0-5l-5 5M840 591l5 5m0-5l-5 5M840 592l6 6m0-6l-6 6M840 591l6 6m0-6l-6 6M841 596l5 5m0-5l-5 5M841 593l5 5m0-5l-5 5M841 586l6 6m0-6l-6 6M842 594l6 6m0-6l-6 6M842 585l6 6m0-6l-6 6M843 602l6 6m0-6l-6 6M843 603l5 5m0-5l-5 5M844 592l5 5m0-5l-5 5M844 603l5 5m0-5l-5 5M845 597l5 5m0-5l-5 5M845 592l6 6m0-6l-6 6M845 586l6 6m0-6l-6 6M846 604l5 5m0-5l-5 5M846 596l5 5m0-5l-5 5M846 604l6 6m0-6l-6 6M847 600l5 5m0-5l-5 5M848 591l5 5m0-5l-5 5M848 609l6 6m0-6l-6 6M848 613l5 5m0-5l-5 5M849 599l5 5m0-5l-5 5M849 604l5 5m0-5l-5 5M850 605l5 5m0-5l-5 5M850 603l5 5m0-5l-5 5M851 612l5 5m0-5l-5 5M851 597l5 5m0-5l-5 5M851 599l6 6m0-6l-6 6M851 601l6 6m0-6l-6 6M852 600l5 5m0-5l-5 5M852 601l6 6m0-6l-6 6M853 604l6 6m0-6l-6 6M853 597l6 6m0-6l-6 6M853 604l6 6m0-6l-6 6M854 596l5 5m0-5l-5 5M854 600l6 6m0-6l-6 6M855 584l6 6m0-6l-6 6M856 601l5 5m0-5l-5 5M856 597l6 6m0-6l-6 6M857 592l5 5m0-5l-5 5M857 598l5 5m0-5l-5 5M857 594l6 6m0-6l-6 6M858 600l5 5m0-5l-5 5M858 589l5 5m0-5l-5 5M858 597l6 6m0-6l-6 6M859 580l6 6m0-6l-6 6M859 576l5 5m0-5l-5 5M859 589l6 6m0-6l-6 6M860 581l6 6m0-6l-6 6M861 581l5 5m0-5l-5 5M861 583l5 5m0-5l-5 5M861 586l6 6m0-6l-6 6M861 577l6 6m0-6l-6 6M862 576l5 5m0-5l-5 5M863 590l5 5m0-5l-5 5M863 585l6 6m0-6l-6 6M864 580l5 5m0-5l-5 5M864 575l6 6m0-6l-6 6M865 578l5 5m0-5l-5 5M864 591l6 6m0-6l-6 6M865 577l5 5m0-5l-5 5M866 576l5 5m0-5l-5 5M866 579l6 6m0-6l-6 6M867 566l5 5m0-5l-5 5M867 580l5 5m0-5l-5 5M867 567l6 6m0-6l-6 6M867 574l6 6m0-6l-6 6M868 578l5 5m0-5l-5 5M868 559l6 6m0-6l-6 6M869 569l5 5m0-5l-5 5M869 571l6 6m0-6l-6 6M869 561l6 6m0-6l-6 6M870 571l6 6m0-6l-6 6M871 565l5 5m0-5l-5 5M871 571l6 6m0-6l-6 6M871 557l6 6m0-6l-6 6M872 569l5 5m0-5l-5 5M872 571l6 6m0-6l-6 6M872 578l6 6m0-6l-6 6M873 577l6 6m0-6l-6 6M874 571l5 5m0-5l-5 5M874 583l6 6m0-6l-6 6M874 571l6 6m0-6l-6 6M875 586l5 5m0-5l-5 5M875 583l6 6m0-6l-6 6M876 584l5 5m0-5l-5 5M876 578l5 5m0-5l-5 5M876 590l6 6m0-6l-6 6M877 590l5 5m0-5l-5 5M878 597l5 5m0-5l-5 5M877 580l6 6m0-6l-6 6M878 582l6 6m0-6l-6 6M878 586l6 6m0-6l-6 6M879 592l5 5m0-5l-5 5M880 585l5 5m0-5l-5 5M880 588l6 6m0-6l-6 6M880 579l6 6m0-6l-6 6M881 590l5 5m0-5l-5 5M881 598l5 5m0-5l-5 5M882 591l5 5m0-5l-5 5M882 592l5 5m0-5l-5 5M883 601l5 5m0-5l-5 5M883 588l5 5m0-5l-5 5M883 594l6 6m0-6l-6 6M883 589l6 6m0-6l-6 6M884 598l5 5m0-5l-5 5M884 601l6 6m0-6l-6 6M885 593l6 6m0-6l-6 6M885 599l6 6m0-6l-6 6M886 603l5 5m0-5l-5 5M886 608l6 6m0-6l-6 6M887 600l5 5m0-5l-5 5M887 605l5 5m0-5l-5 5M887 606l6 6m0-6l-6 6M888 598l6 6m0-6l-6 6M888 604l6 6m0-6l-6 6M888 604l6 6m0-6l-6 6M889 608l5 5m0-5l-5 5M889 603l6 6m0-6l-6 6M890 608l5 5m0-5l-5 5M890 591l6 6m0-6l-6 6M891 597l6 6m0-6l-6 6M891 592l5 5m0-5l-5 5M891 599l6 6m0-6l-6 6M892 605l6 6m0-6l-6 6M893 604l5 5m0-5l-5 5M893 597l6 6m0-6l-6 6M894 593l5 5m0-5l-5 5M894 603l6 6m0-6l-6 6M894 597l6 6m0-6l-6 6M895 601l5 5m0-5l-5 5M895 601l5 5m0-5l-5 5M895 607l6 6m0-6l-6 6M896 591l6 6m0-6l-6 6M896 606l6 6m0-6l-6 6M896 591l6 6m0-6l-6 6M897 591l5 5m0-5l-5 5M897 605l6 6m0-6l-6 6M898 593l6 6m0-6l-6 6M898 599l6 6m0-6l-6 6M899 596l6 6m0-6l-6 6M899 598l6 6m0-6l-6 6M899 597l6 6m0-6l-6 6M900 613l6 6m0-6l-6 6M900 593l6 6m0-6l-6 6M901 599l6 6m0-6l-6 6M901 602l6 6m0-6l-6 6M902 602l6 6m0-6l-6 6M902 598l5 5m0-5l-5 5M902 605l6 6m0-6l-6 6M903 610l6 6m0-6l-6 6M904 607l5 5m0-5l-5 5M904 598l5 5m0-5l-5 5M905 605l5 5m0-5l-5 5M905 609l5 5m0-5l-5 5M905 619l5 5m0-5l-5 5M905 600l6 6m0-6l-6 6M906 607l5 5m0-5l-5 5M906 599l6 6m0-6l-6 6M907 607l5 5m0-5l-5 5M907 622l6 6m0-6l-6 6M908 610l5 5m0-5l-5 5M908 617l6 6m0-6l-6 6M908 615l6 6m0-6l-6 6M909 606l6 6m0-6l-6 6M909 618l6 6m0-6l-6 6M910 609l5 5m0-5l-5 5M910 606l5 5m0-5l-5 5M910 612l6 6m0-6l-6 6M911 616l5 5m0-5l-5 5M912 618l5 5m0-5l-5 5M912 612l5 5m0-5l-5 5M912 616l6 6m0-6l-6 6M913 618l5 5m0-5l-5 5M913 610l6 6m0-6l-6 6M914 613l5 5m0-5l-5 5M914 623l5 5m0-5l-5 5M914 608l6 6m0-6l-6 6M915 611l5 5m0-5l-5 5M915 614l5 5m0-5l-5 5M916 624l5 5m0-5l-5 5M916 621l6 6m0-6l-6 6M917 621l5 5m0-5l-5 5M917 619l6 6m0-6l-6 6M917 620l6 6m0-6l-6 6M918 625l5 5m0-5l-5 5M918 618l6 6m0-6l-6 6M919 623l5 5m0-5l-5 5M919 629l5 5m0-5l-5 5M919 623l6 6m0-6l-6 6M920 632l5 5m0-5l-5 5M921 614l5 5m0-5l-5 5M921 624l5 5m0-5l-5 5M921 613l5 5m0-5l-5 5M922 628l5 5m0-5l-5 5M922 619l5 5m0-5l-5 5M922 624l6 6m0-6l-6 6M923 627l6 6m0-6l-6 6M923 612l6 6m0-6l-6 6M923 609l6 6m0-6l-6 6M924 617l5 5m0-5l-5 5M925 618l5 5m0-5l-5 5M925 620l5 5m0-5l-5 5M925 625l6 6m0-6l-6 6M926 617l6 6m0-6l-6 6M926 625l6 6m0-6l-6 6M927 628l5 5m0-5l-5 5M927 621l5 5m0-5l-5 5M927 615l6 6m0-6l-6 6M928 624l5 5m0-5l-5 5M929 615l5 5m0-5l-5 5M928 607l6 6m0-6l-6 6M929 608l6 6m0-6l-6 6M929 610l6 6m0-6l-6 6M930 611l6 6m0-6l-6 6M931 607l5 5m0-5l-5 5M931 619l5 5m0-5l-5 5M932 620l5 5m0-5l-5 5M932 606l5 5m0-5l-5 5M932 616l5 5m0-5l-5 5M932 607l6 6m0-6l-6 6M933 621l5 5m0-5l-5 5M934 611l5 5m0-5l-5 5M934 606l5 5m0-5l-5 5M934 612l5 5m0-5l-5 5M935 607l5 5m0-5l-5 5M935 609l6 6m0-6l-6 6M936 605l5 5m0-5l-5 5M936 602l5 5m0-5l-5 5M936 611l6 6m0-6l-6 6M936 604l6 6m0-6l-6 6M937 604l5 5m0-5l-5 5M938 607l5 5m0-5l-5 5M938 607l6 6m0-6l-6 6M939 603l5 5m0-5l-5 5M939 610l5 5m0-5l-5 5M940 600l5 5m0-5l-5 5M940 611l5 5m0-5l-5 5M940 611l5 5m0-5l-5 5M941 611l5 5m0-5l-5 5M941 600l5 5m0-5l-5 5M941 600l6 6m0-6l-6 6M942 595l6 6m0-6l-6 6M942 596l6 6m0-6l-6 6M943 603l5 5m0-5l-5 5M943 594l6 6m0-6l-6 6M944 593l5 5m0-5l-5 5M944 597l5 5m0-5l-5 5M944 602l6 6m0-6l-6 6M944 601l6 6m0-6l-6 6M945 597l6 6m0-6l-6 6M946 596l5 5m0-5l-5 5M946 608l5 5m0-5l-5 5M946 599l6 6m0-6l-6 6M947 608l6 6m0-6l-6 6M947 604l6 6m0-6l-6 6M948 598l5 5m0-5l-5 5M948 596l6 6m0-6l-6 6M949 606l5 5m0-5l-5 5M949 611l5 5m0-5l-5 5M950 615l5 5m0-5l-5 5M950 602l5 5m0-5l-5 5M950 611l6 6m0-6l-6 6M951 607l5 5m0-5l-5 5M951 596l5 5m0-5l-5 5M952 603l5 5m0-5l-5 5M952 613l6 6m0-6l-6 6M952 606l6 6m0-6l-6 6M953 605l5 5m0-5l-5 5M953 613l6 6m0-6l-6 6M953 624l6 6m0-6l-6 6M954 615l6 6m0-6l-6 6M954 607l6 6m0-6l-6 6M955 614l6 6m0-6l-6 6M956 604l5 5m0-5l-5 5M956 604l5 5m0-5l-5 5M956 611l5 5m0-5l-5 5M957 615l5 5m0-5l-5 5M957 609l6 6m0-6l-6 6M957 616l6 6m0-6l-6 6M958 619l6 6m0-6l-6 6M958 617l5 5m0-5l-5 5M959 625l5 5m0-5l-5 5M959 606l6 6m0-6l-6 6M959 614l6 6m0-6l-6 6M960 615l5 5m0-5l-5 5M961 616l5 5m0-5l-5 5M961 612l5 5m0-5l-5 5M961 601l5 5m0-5l-5 5M961 612l6 6m0-6l-6 6M962 604l5 5m0-5l-5 5M962 605l6 6m0-6l-6 6M963 612l5 5m0-5l-5 5M964 612l5 5m0-5l-5 5M963 603l6 6m0-6l-6 6M964 599l6 6m0-6l-6 6M965 594l5 5m0-5l-5 5M965 607l6 6m0-6l-6 6M965 605l6 6m0-6l-6 6M966 599l6 6m0-6l-6 6M966 609l5 5m0-5l-5 5M966 603l6 6m0-6l-6 6M967 597l6 6m0-6l-6 6M967 596l6 6m0-6l-6 6M968 606l5 5m0-5l-5 5M968 607l6 6m0-6l-6 6M969 591l5 5m0-5l-5 5M969 600l5 5m0-5l-5 5M969 597l6 6m0-6l-6 6M970 599l6 6m0-6l-6 6M971 604l5 5m0-5l-5 5M971 597l6 6m0-6l-6 6M971 589l6 6m0-6l-6 6M971 600l6 6m0-6l-6 6M972 598l6 6m0-6l-6 6M973 603l5 5m0-5l-5 5M973 591l6 6m0-6l-6 6M973 595l6 6m0-6l-6 6M974 599l6 6m0-6l-6 6M974 594l6 6m0-6l-6 6M975 586l5 5m0-5l-5 5M975 588l5 5m0-5l-5 5M975 583l6 6m0-6l-6 6M976 604l6 6m0-6l-6 6M977 590l5 5m0-5l-5 5M977 595l5 5m0-5l-5 5M977 596l6 6m0-6l-6 6M977 590l6 6m0-6l-6 6M978 588l6 6m0-6l-6 6M979 593l5 5m0-5l-5 5M979 585l6 6m0-6l-6 6M980 577l5 5m0-5l-5 5M979 582l6 6m0-6l-6 6M980 587l5 5m0-5l-5 5M980 574l6 6m0-6l-6 6M981 578l6 6m0-6l-6 6M981 586l6 6m0-6l-6 6M982 582l5 5m0-5l-5 5M982 600l6 6m0-6l-6 6M982 588l6 6m0-6l-6 6M983 584l6 6m0-6l-6 6M983 586l6 6m0-6l-6 6M984 586l6 6m0-6l-6 6M984 593l6 6m0-6l-6 6M985 585l5 5m0-5l-5 5M985 592l5 5m0-5l-5 5M985 593l6 6m0-6l-6 6M986 585l5 5m0-5l-5 5M986 584l6 6m0-6l-6 6M987 578l5 5m0-5l-5 5M988 577l5 5m0-5l-5 5M987 584l6 6m0-6l-6 6M988 574l6 6m0-6l-6 6M989 580l5 5m0-5l-5 5M989 578l5 5m0-5l-5 5M990 584l5 5m0-5l-5 5M990 582l6 6m0-6l-6 6M990 578l6 6m0-6l-6 6M990 581l6 6m0-6l-6 6M991 585l6 6m0-6l-6 6M991 574l6 6m0-6l-6 6M992 580l5 5m0-5l-5 5M992 574l6 6m0-6l-6 6M993 580l6 6m0-6l-6 6M993 581l5 5m0-5l-5 5M993 567l6 6m0-6l-6 6M994 571l5 5m0-5l-5 5M995 575l5 5m0-5l-5 5M995 586l6 6m0-6l-6 6M996 579l5 5m0-5l-5 5M995 577l6 6m0-6l-6 6M996 570l5 5m0-5l-5 5M997 574l5 5m0-5l-5 5M997 572l5 5m0-5l-5 5M997 582l6 6m0-6l-6 6M998 568l6 6m0-6l-6 6M998 580l6 6m0-6l-6 6M998 578l6 6m0-6l-6 6M999 575l5 5m0-5l-5 5M1000 575l5 5m0-5l-5 5M1000 582l6 6m0-6l-6 6M1000 581l6 6m0-6l-6 6M1001 586l5 5m0-5l-5 5M1001 581l6 6m0-6l-6 6M1002 579l5 5m0-5l-5 5M1002 577l5 5m0-5l-5 5M1003 583l5 5m0-5l-5 5M1003 580l5 5m0-5l-5 5M1004 586l5 5m0-5l-5 5M1004 569l5 5m0-5l-5 5M1004 586l6 6m0-6l-6 6M1005 583l5 5m0-5l-5 5M1005 570l6 6m0-6l-6 6M1005 590l6 6m0-6l-6 6M1006 576l5 5m0-5l-5 5M1007 572l5 5m0-5l-5 5M1007 574l5 5m0-5l-5 5M1007 566l6 6m0-6l-6 6M1008 579l5 5m0-5l-5 5M1008 572l5 5m0-5l-5 5M1008 570l6 6m0-6l-6 6M1009 576l6 6m0-6l-6 6M1009 574l6 6m0-6l-6 6M1010 561l5 5m0-5l-5 5M1010 570l6 6m0-6l-6 6M1010 575l6 6m0-6l-6 6M1011 557l5 5m0-5l-5 5M1012 569l5 5m0-5l-5 5M1012 572l5 5m0-5l-5 5M1012 558l6 6m0-6l-6 6M1012 576l6 6m0-6l-6 6M1013 572l6 6m0-6l-6 6M1013 561l6 6m0-6l-6 6M1014 567l5 5m0-5l-5 5M1015 553l5 5m0-5l-5 5M1015 557l5 5m0-5l-5 5M1015 567l5 5m0-5l-5 5M1015 561l6 6m0-6l-6 6M1016 564l6 6m0-6l-6 6M1017 558l5 5m0-5l-5 5M1017 554l6 6m0-6l-6 6M1017 563l5 5m0-5l-5 5M1017 561l6 6m0-6l-6 6M1018 547l6 6m0-6l-6 6M1018 555l6 6m0-6l-6 6M1019 549l6 6m0-6l-6 6M1020 559l5 5m0-5l-5 5M1020 559l6 6m0-6l-6 6M1020 556l5 5m0-5l-5 5M1021 556l5 5m0-5l-5 5M1021 555l5 5m0-5l-5 5M1022 561l5 5m0-5l-5 5M1022 558l5 5m0-5l-5 5M1023 549l5 5m0-5l-5 5M1023 563l5 5m0-5l-5 5M1023 555l6 6m0-6l-6 6M1023 555l6 6m0-6l-6 6M1024 551l5 5m0-5l-5 5M1025 557l5 5m0-5l-5 5M1025 553l5 5m0-5l-5 5M1025 552l5 5m0-5l-5 5M1026 555l5 5m0-5l-5 5M1026 544l6 6m0-6l-6 6M1026 545l6 6m0-6l-6 6M1027 559l5 5m0-5l-5 5M1028 545l5 5m0-5l-5 5M1028 551l6 6m0-6l-6 6M1028 552l6 6m0-6l-6 6M1028 542l6 6m0-6l-6 6M1029 561l6 6m0-6l-6 6M1030 554l5 5m0-5l-5 5M1030 551l6 6m0-6l-6 6M1030 548l6 6m0-6l-6 6M1031 558l5 5m0-5l-5 5M1031 545l6 6m0-6l-6 6M1032 556l5 5m0-5l-5 5M1032 548l5 5m0-5l-5 5M1032 548l6 6m0-6l-6 6M1033 553l6 6m0-6l-6 6M1033 552l6 6m0-6l-6 6M1033 556l6 6m0-6l-6 6M1034 544l6 6m0-6l-6 6M1034 546l6 6m0-6l-6 6M1035 539l6 6m0-6l-6 6M1036 537l5 5m0-5l-5 5M1036 540l5 5m0-5l-5 5M1036 533l5 5m0-5l-5 5M1037 548l5 5m0-5l-5 5M1037 541l6 6m0-6l-6 6M1037 539l6 6m0-6l-6 6M1038 543l5 5m0-5l-5 5M1039 533l5 5m0-5l-5 5M1039 539l5 5m0-5l-5 5M1039 541l5 5m0-5l-5 5M1039 546l6 6m0-6l-6 6M1040 533l5 5m0-5l-5 5M1040 543l6 6m0-6l-6 6M1041 543l6 6m0-6l-6 6M1041 527l6 6m0-6l-6 6M1041 540l6 6m0-6l-6 6M1042 533l6 6m0-6l-6 6M1043 549l5 5m0-5l-5 5M1043 540l5 5m0-5l-5 5M1044 556l5 5m0-5l-5 5M1044 549l6 6m0-6l-6 6M1044 550l6 6m0-6l-6 6M1045 541l5 5m0-5l-5 5M1045 542l6 6m0-6l-6 6M1046 539l5 5m0-5l-5 5M1046 542l6 6m0-6l-6 6M1046 540l6 6m0-6l-6 6M1047 536l5 5m0-5l-5 5M1047 533l6 6m0-6l-6 6M1048 528l5 5m0-5l-5 5M1048 532l6 6m0-6l-6 6M1048 523l6 6m0-6l-6 6M1049 529l5 5m0-5l-5 5M1050 544l5 5m0-5l-5 5M1049 528l6 6m0-6l-6 6M1050 527l6 6m0-6l-6 6M1050 531l6 6m0-6l-6 6M1051 538l5 5m0-5l-5 5M1051 545l6 6m0-6l-6 6M1052 534l5 5m0-5l-5 5M1052 536l5 5m0-5l-5 5M1052 550l6 6m0-6l-6 6M1053 532l5 5m0-5l-5 5M1053 531l6 6m0-6l-6 6M1054 529l6 6m0-6l-6 6M1054 534l6 6m0-6l-6 6M1054 536l6 6m0-6l-6 6M1055 542l6 6m0-6l-6 6M1056 541l5 5m0-5l-5 5M1056 543l5 5m0-5l-5 5M1057 530l5 5m0-5l-5 5M1057 532l5 5m0-5l-5 5M1057 532l6 6m0-6l-6 6M1058 534l5 5m0-5l-5 5M1058 532l5 5m0-5l-5 5M1058 521l6 6m0-6l-6 6M1059 534l5 5m0-5l-5 5M1060 534l5 5m0-5l-5 5M1060 534l6 6m0-6l-6 6M1060 530l5 5m0-5l-5 5M1061 535l5 5m0-5l-5 5M1061 528l5 5m0-5l-5 5M1061 533l6 6m0-6l-6 6M1062 527l5 5m0-5l-5 5M1062 534l6 6m0-6l-6 6M1063 528l5 5m0-5l-5 5M1063 539l6 6m0-6l-6 6M1064 538l5 5m0-5l-5 5M1064 529l6 6m0-6l-6 6M1065 523l5 5m0-5l-5 5M1065 531l5 5m0-5l-5 5M1065 538l6 6m0-6l-6 6M1066 532l5 5m0-5l-5 5M1066 531l6 6m0-6l-6 6M1066 531l6 6m0-6l-6 6M1067 527l6 6m0-6l-6 6M1067 526l6 6m0-6l-6 6M1068 529l6 6m0-6l-6 6M1068 540l5 5m0-5l-5 5M1068 525l6 6m0-6l-6 6M1069 535l5 5m0-5l-5 5M1070 521l5 5m0-5l-5 5M1070 513l5 5m0-5l-5 5M1071 521l5 5m0-5l-5 5M1070 523l6 6m0-6l-6 6M1071 527l5 5m0-5l-5 5M1071 526l6 6m0-6l-6 6M1072 515l5 5m0-5l-5 5M1072 535l6 6m0-6l-6 6M1073 523l6 6m0-6l-6 6M1073 520l6 6m0-6l-6 6M1074 515l5 5m0-5l-5 5M1074 521l6 6m0-6l-6 6M1074 503l6 6m0-6l-6 6M1075 521l5 5m0-5l-5 5M1076 516l5 5m0-5l-5 5M1076 515l6 6m0-6l-6 6M1076 510l5 5m0-5l-5 5M1076 507l6 6m0-6l-6 6M1077 511l6 6m0-6l-6 6M1078 513l5 5m0-5l-5 5M1078 516l6 6m0-6l-6 6M1079 513l5 5m0-5l-5 5M1079 492l6 6m0-6l-6 6M1079 510l5 5m0-5l-5 5M1079 516l6 6m0-6l-6 6M1080 507l6 6m0-6l-6 6M1080 507l6 6m0-6l-6 6M1081 498l5 5m0-5l-5 5M1081 507l6 6m0-6l-6 6M1081 499l6 6m0-6l-6 6M1082 507l6 6m0-6l-6 6M1083 513l5 5m0-5l-5 5M1083 502l6 6m0-6l-6 6M1083 507l6 6m0-6l-6 6M1084 496l6 6m0-6l-6 6M1084 503l6 6m0-6l-6 6M1085 500l5 5m0-5l-5 5M1085 506l5 5m0-5l-5 5M1086 514l5 5m0-5l-5 5M1086 514l5 5m0-5l-5 5M1086 514l6 6m0-6l-6 6M1087 511l5 5m0-5l-5 5M1087 500l6 6m0-6l-6 6M1088 515l5 5m0-5l-5 5M1088 518l5 5m0-5l-5 5M1088 503l6 6m0-6l-6 6M1089 516l5 5m0-5l-5 5M1089 513l6 6m0-6l-6 6M1090 512l5 5m0-5l-5 5M1090 513l6 6m0-6l-6 6M1091 512l5 5m0-5l-5 5M1091 519l5 5m0-5l-5 5M1092 511l5 5m0-5l-5 5M1092 501l6 6m0-6l-6 6M1092 520l5 5m0-5l-5 5M1092 519l6 6m0-6l-6 6M1093 506l5 5m0-5l-5 5M1093 512l6 6m0-6l-6 6M1094 509l6 6m0-6l-6 6M1094 515l6 6m0-6l-6 6M1095 511l5 5m0-5l-5 5M1095 518l5 5m0-5l-5 5M1095 515l6 6m0-6l-6 6M1096 530l6 6m0-6l-6 6M1097 524l5 5m0-5l-5 5M1097 521l6 6m0-6l-6 6M1097 523l6 6m0-6l-6 6M1097 512l6 6m0-6l-6 6M1098 522l6 6m0-6l-6 6M1099 521l5 5m0-5l-5 5M1099 513l6 6m0-6l-6 6M1100 524l5 5m0-5l-5 5M1100 521l6 6m0-6l-6 6M1100 525l5 5m0-5l-5 5M1100 520l6 6m0-6l-6 6M1101 525l6 6m0-6l-6 6M1101 526l6 6m0-6l-6 6M1102 521l6 6m0-6l-6 6M1102 527l6 6m0-6l-6 6M1103 527l6 6m0-6l-6 6M1103 524l6 6m0-6l-6 6M1103 521l6 6m0-6l-6 6M1104 523l5 5m0-5l-5 5M1104 529l6 6m0-6l-6 6M1105 527l5 5m0-5l-5 5M1105 513l6 6m0-6l-6 6M1106 517l5 5m0-5l-5 5M1106 513l5 5m0-5l-5 5M1107 529l5 5m0-5l-5 5M1107 519l6 6m0-6l-6 6M1107 529l6 6m0-6l-6 6M1108 536l6 6m0-6l-6 6M1108 524l6 6m0-6l-6 6M1109 521l5 5m0-5l-5 5M1109 527l5 5m0-5l-5 5M1109 531l6 6m0-6l-6 6M1110 536l5 5m0-5l-5 5M1110 520l6 6m0-6l-6 6M1111 525l5 5m0-5l-5 5M1111 531l6 6m0-6l-6 6M1111 531l6 6m0-6l-6 6M1112 525l6 6m0-6l-6 6M1112 523l6 6m0-6l-6 6M1113 532l6 6m0-6l-6 6M1114 527l5 5m0-5l-5 5M1114 521l5 5m0-5l-5 5M1114 526l6 6m0-6l-6 6M1115 523l5 5m0-5l-5 5M1115 531l6 6m0-6l-6 6M1115 526l6 6m0-6l-6 6M1116 517l5 5m0-5l-5 5M1116 520l6 6m0-6l-6 6M1117 541l5 5m0-5l-5 5M1117 531l6 6m0-6l-6 6M1117 527l6 6m0-6l-6 6M1118 523l5 5m0-5l-5 5M1119 523l5 5m0-5l-5 5M1119 525l6 6m0-6l-6 6M1119 524l5 5m0-5l-5 5M1119 519l6 6m0-6l-6 6M1120 529l6 6m0-6l-6 6M1121 528l5 5m0-5l-5 5M1121 513l6 6m0-6l-6 6M1122 520l5 5m0-5l-5 5M1121 525l6 6m0-6l-6 6M1122 522l6 6m0-6l-6 6M1123 523l5 5m0-5l-5 5M1123 519l6 6m0-6l-6 6M1124 521l5 5m0-5l-5 5M1124 516l5 5m0-5l-5 5M1125 530l5 5m0-5l-5 5M1125 528l5 5m0-5l-5 5M1125 521l6 6m0-6l-6 6M1125 521l6 6m0-6l-6 6M1126 524l5 5m0-5l-5 5M1126 509l6 6m0-6l-6 6M1127 519l5 5m0-5l-5 5M1127 518l5 5m0-5l-5 5M1128 513l5 5m0-5l-5 5M1128 503l5 5m0-5l-5 5M1129 516l5 5m0-5l-5 5M1129 513l6 6m0-6l-6 6M1129 518l6 6m0-6l-6 6M1129 520l6 6m0-6l-6 6M1130 517l6 6m0-6l-6 6M1131 509l5 5m0-5l-5 5M1131 518l6 6m0-6l-6 6M1132 518l5 5m0-5l-5 5M1132 502l6 6m0-6l-6 6M1132 497l6 6m0-6l-6 6M1133 502l5 5m0-5l-5 5M1133 511l5 5m0-5l-5 5M1133 497l6 6m0-6l-6 6M1134 503l5 5m0-5l-5 5M1134 505l6 6m0-6l-6 6M1135 501l6 6m0-6l-6 6M1135 496l5 5m0-5l-5 5M1136 503l5 5m0-5l-5 5M1136 488l5 5m0-5l-5 5M1136 490l6 6m0-6l-6 6M1137 498l5 5m0-5l-5 5M1137 504l6 6m0-6l-6 6M1138 493l6 6m0-6l-6 6M1138 496l5 5m0-5l-5 5M1138 491l6 6m0-6l-6 6M1139 492l6 6m0-6l-6 6M1140 486l5 5m0-5l-5 5M1140 485l5 5m0-5l-5 5M1141 483l5 5m0-5l-5 5M1140 485l6 6m0-6l-6 6M1141 488l6 6m0-6l-6 6M1141 483l6 6m0-6l-6 6M1142 483l6 6m0-6l-6 6M1142 484l6 6m0-6l-6 6M1143 481l5 5m0-5l-5 5M1143 491l5 5m0-5l-5 5M1144 491l5 5m0-5l-5 5M1144 486l6 6m0-6l-6 6M1145 480l5 5m0-5l-5 5M1145 482l6 6m0-6l-6 6M1145 480l6 6m0-6l-6 6M1146 492l5 5m0-5l-5 5M1146 491l5 5m0-5l-5 5M1147 484l5 5m0-5l-5 5M1147 490l5 5m0-5l-5 5M1147 486l6 6m0-6l-6 6M1148 492l6 6m0-6l-6 6M1148 488l6 6m0-6l-6 6M1148 485l6 6m0-6l-6 6M1149 498l6 6m0-6l-6 6M1149 489l6 6m0-6l-6 6M1150 491l6 6m0-6l-6 6M1151 492l5 5m0-5l-5 5M1151 489l5 5m0-5l-5 5M1151 494l5 5m0-5l-5 5M1151 486l6 6m0-6l-6 6M1152 498l6 6m0-6l-6 6M1152 493l6 6m0-6l-6 6M1153 493l6 6m0-6l-6 6M1154 496l5 5m0-5l-5 5M1154 485l6 6m0-6l-6 6M1154 490l5 5m0-5l-5 5M1154 487l6 6m0-6l-6 6M1155 495l5 5m0-5l-5 5M1156 487l5 5m0-5l-5 5M1156 483l6 6m0-6l-6 6M1156 491l6 6m0-6l-6 6M1157 478l5 5m0-5l-5 5M1157 501l6 6m0-6l-6 6M1157 493l6 6m0-6l-6 6M1158 485l6 6m0-6l-6 6M1158 482l6 6m0-6l-6 6M1159 488l6 6m0-6l-6 6M1159 486l6 6m0-6l-6 6M1160 492l5 5m0-5l-5 5M1160 485l6 6m0-6l-6 6M1160 483l6 6m0-6l-6 6M1161 496l5 5m0-5l-5 5M1162 490l5 5m0-5l-5 5M1162 491l5 5m0-5l-5 5M1162 490l5 5m0-5l-5 5M1162 476l6 6m0-6l-6 6M1163 482l6 6m0-6l-6 6M1164 492l5 5m0-5l-5 5M1164 475l5 5m0-5l-5 5M1164 489l6 6m0-6l-6 6M1165 493l5 5m0-5l-5 5M1165 491l6 6m0-6l-6 6M1165 494l6 6m0-6l-6 6M1166 482l5 5m0-5l-5 5M1167 481l5 5m0-5l-5 5M1167 482l6 6m0-6l-6 6M1167 487l6 6m0-6l-6 6M1168 484l5 5m0-5l-5 5M1168 487l5 5m0-5l-5 5M1169 480l5 5m0-5l-5 5M1169 482l6 6m0-6l-6 6M1169 485l6 6m0-6l-6 6M1170 494l6 6m0-6l-6 6M1170 491l6 6m0-6l-6 6M1170 497l6 6m0-6l-6 6M1171 488l5 5m0-5l-5 5M1172 485l5 5m0-5l-5 5M1172 491l5 5m0-5l-5 5M1172 485l6 6m0-6l-6 6M1172 474l6 6m0-6l-6 6M1173 480l5 5m0-5l-5 5M1174 485l5 5m0-5l-5 5M1174 475l5 5m0-5l-5 5M1174 481l6 6m0-6l-6 6M1175 478l5 5m0-5l-5 5M1176 474l5 5m0-5l-5 5M1175 473l6 6m0-6l-6 6M1176 469l6 6m0-6l-6 6M1177 470l5 5m0-5l-5 5M1177 480l5 5m0-5l-5 5M1178 477l5 5m0-5l-5 5M1178 476l6 6m0-6l-6 6M1178 456l6 6m0-6l-6 6M1179 473l5 5m0-5l-5 5M1179 467l5 5m0-5l-5 5M1179 458l6 6m0-6l-6 6M1180 473l6 6m0-6l-6 6M1180 474l6 6m0-6l-6 6M1181 477l5 5m0-5l-5 5M1181 473l6 6m0-6l-6 6M1182 480l5 5m0-5l-5 5M1182 466l6 6m0-6l-6 6M1183 462l5 5m0-5l-5 5M1183 465l6 6m0-6l-6 6M1184 470l5 5m0-5l-5 5M1183 460l6 6m0-6l-6 6M1184 467l6 6m0-6l-6 6M1185 460l5 5m0-5l-5 5M1185 451l6 6m0-6l-6 6M1185 465l6 6m0-6l-6 6M1186 464l6 6m0-6l-6 6M1186 450l6 6m0-6l-6 6M1186 452l6 6m0-6l-6 6M1187 453l6 6m0-6l-6 6M1188 447l5 5m0-5l-5 5M1188 447l6 6m0-6l-6 6M1188 457l6 6m0-6l-6 6M1188 445l6 6m0-6l-6 6M1189 456l5 5m0-5l-5 5M1190 449l5 5m0-5l-5 5M1190 455l5 5m0-5l-5 5M1191 442l5 5m0-5l-5 5M1191 446l6 6m0-6l-6 6M1191 438l6 6m0-6l-6 6M1192 443l5 5m0-5l-5 5M1192 441l5 5m0-5l-5 5M1192 440l6 6m0-6l-6 6M1193 434l6 6m0-6l-6 6M1193 442l6 6m0-6l-6 6M1194 443l6 6m0-6l-6 6M1194 436l6 6m0-6l-6 6M1194 443l6 6m0-6l-6 6M1195 458l6 6m0-6l-6 6M1196 446l5 5m0-5l-5 5M1196 441l6 6m0-6l-6 6M1197 446l5 5m0-5l-5 5M1197 440l5 5m0-5l-5 5M1197 455l6 6m0-6l-6 6M1198 437l5 5m0-5l-5 5M1198 440l6 6m0-6l-6 6M1198 446l6 6m0-6l-6 6M1199 452l6 6m0-6l-6 6M1199 443l6 6m0-6l-6 6M1199 439l6 6m0-6l-6 6M1200 440l5 5m0-5l-5 5M1201 444l5 5m0-5l-5 5M1201 448l6 6m0-6l-6 6M1201 438l6 6m0-6l-6 6M1202 436l5 5m0-5l-5 5M1202 438l6 6m0-6l-6 6M1202 425l6 6m0-6l-6 6M1203 436l5 5m0-5l-5 5M1204 430l5 5m0-5l-5 5M1204 430l6 6m0-6l-6 6M1204 436l6 6m0-6l-6 6M1205 431l6 6m0-6l-6 6M1205 429l5 5m0-5l-5 5M1206 428l5 5m0-5l-5 5M1206 430l5 5m0-5l-5 5M1206 434l6 6m0-6l-6 6M1207 434l6 6m0-6l-6 6M1208 436l5 5m0-5l-5 5M1207 431l6 6m0-6l-6 6M1208 435l6 6m0-6l-6 6M1208 435l6 6m0-6l-6 6M1209 434l6 6m0-6l-6 6M1210 433l5 5m0-5l-5 5M1210 442l5 5m0-5l-5 5M1210 453l5 5m0-5l-5 5M1210 436l6 6m0-6l-6 6M1211 431l5 5m0-5l-5 5M1211 431l6 6m0-6l-6 6M1212 427l6 6m0-6l-6 6M1212 439l6 6m0-6l-6 6M1213 436l5 5m0-5l-5 5M1213 428l6 6m0-6l-6 6M1214 432l5 5m0-5l-5 5M1214 419l5 5m0-5l-5 5M1214 422l6 6m0-6l-6 6M1215 421l5 5m0-5l-5 5M1215 430l6 6m0-6l-6 6M1215 427l6 6m0-6l-6 6M1216 429l5 5m0-5l-5 5M1217 422l5 5m0-5l-5 5M1217 431l6 6m0-6l-6 6M1218 432l5 5m0-5l-5 5M1218 443l5 5m0-5l-5 5M1218 430l5 5m0-5l-5 5M1219 440l5 5m0-5l-5 5M1219 428l5 5m0-5l-5 5M1219 428l6 6m0-6l-6 6M1220 432l6 6m0-6l-6 6M1221 428l5 5m0-5l-5 5M1221 434l5 5m0-5l-5 5M1221 434l6 6m0-6l-6 6M1221 435l6 6m0-6l-6 6M1222 437l6 6m0-6l-6 6M1222 445l6 6m0-6l-6 6M1223 442l6 6m0-6l-6 6M1223 445l6 6m0-6l-6 6M1223 436l6 6m0-6l-6 6M1224 446l6 6m0-6l-6 6M1225 437l5 5m0-5l-5 5M1225 438l6 6m0-6l-6 6M1226 437l5 5m0-5l-5 5M1226 442l6 6m0-6l-6 6M1226 443l5 5m0-5l-5 5M1227 444l5 5m0-5l-5 5M1227 431l5 5m0-5l-5 5M1227 420l6 6m0-6l-6 6M1228 439l6 6m0-6l-6 6M1229 430l5 5m0-5l-5 5M1229 431l6 6m0-6l-6 6M1229 433l6 6m0-6l-6 6M1230 433l5 5m0-5l-5 5M1230 434l6 6m0-6l-6 6M1231 429l5 5m0-5l-5 5M1231 435l6 6m0-6l-6 6M1232 432l5 5m0-5l-5 5M1232 428l5 5m0-5l-5 5M1232 422l5 5m0-5l-5 5M1232 432l6 6m0-6l-6 6M1233 429l6 6m0-6l-6 6M1233 423l6 6m0-6l-6 6M1234 423l5 5m0-5l-5 5M1234 429l6 6m0-6l-6 6M1235 427l5 5m0-5l-5 5M1235 424l6 6m0-6l-6 6M1236 424l5 5m0-5l-5 5M1236 416l6 6m0-6l-6 6M1237 416l5 5m0-5l-5 5M1237 429l6 6m0-6l-6 6M1237 426l5 5m0-5l-5 5M1237 416l6 6m0-6l-6 6M1238 417l5 5m0-5l-5 5M1239 418l5 5m0-5l-5 5M1239 409l6 6m0-6l-6 6M1239 412l6 6m0-6l-6 6M1239 416l6 6m0-6l-6 6M1240 417l5 5m0-5l-5 5M1240 406l6 6m0-6l-6 6M1241 418l6 6m0-6l-6 6M1241 418l6 6m0-6l-6 6M1242 416l6 6m0-6l-6 6M1242 415l6 6m0-6l-6 6M1242 419l6 6m0-6l-6 6M1243 411l5 5m0-5l-5 5M1244 423l5 5m0-5l-5 5M1244 425l5 5m0-5l-5 5M1245 422l5 5m0-5l-5 5M1245 415l5 5m0-5l-5 5M1245 415l6 6m0-6l-6 6M1246 407l5 5m0-5l-5 5M1246 419l6 6m0-6l-6 6M1246 417l6 6m0-6l-6 6M1247 422l6 6m0-6l-6 6M1248 424l5 5m0-5l-5 5M1247 404l6 6m0-6l-6 6M1248 420l6 6m0-6l-6 6M1248 423l6 6m0-6l-6 6M1249 428l5 5m0-5l-5 5M1249 415l6 6m0-6l-6 6M1250 412l5 5m0-5l-5 5M1251 412l5 5m0-5l-5 5M1251 412l5 5m0-5l-5 5M1251 420l5 5m0-5l-5 5M1252 416l5 5m0-5l-5 5M1252 433l5 5m0-5l-5 5M1253 410l5 5m0-5l-5 5M1253 416l6 6m0-6l-6 6M1253 417l6 6m0-6l-6 6M1253 412l6 6m0-6l-6 6M1254 414l6 6m0-6l-6 6M1255 414l5 5m0-5l-5 5M1255 419l6 6m0-6l-6 6M1256 412l5 5m0-5l-5 5M1255 419l6 6m0-6l-6 6M1256 413l5 5m0-5l-5 5M1256 409l6 6m0-6l-6 6M1257 415l6 6m0-6l-6 6M1258 418l5 5m0-5l-5 5M1258 412l6 6m0-6l-6 6M1259 408l5 5m0-5l-5 5M1258 417l6 6m0-6l-6 6M1259 419l5 5m0-5l-5 5M1259 415l6 6m0-6l-6 6M1260 413l6 6m0-6l-6 6M1261 419l5 5m0-5l-5 5M1261 407l6 6m0-6l-6 6M1261 424l5 5m0-5l-5 5M1261 418l6 6m0-6l-6 6M1262 417l5 5m0-5l-5 5M1262 417l6 6m0-6l-6 6M1263 420l5 5m0-5l-5 5M1264 423l5 5m0-5l-5 5M1264 410l5 5m0-5l-5 5M1264 415l6 6m0-6l-6 6M1265 412l5 5m0-5l-5 5M1265 424l5 5m0-5l-5 5M1266 417l5 5m0-5l-5 5M1266 420l5 5m0-5l-5 5M1266 422l6 6m0-6l-6 6M1266 413l6 6m0-6l-6 6M1267 426l5 5m0-5l-5 5M1267 420l6 6m0-6l-6 6M1268 422l6 6m0-6l-6 6M1268 416l6 6m0-6l-6 6M1269 417l6 6m0-6l-6 6M1269 421l5 5m0-5l-5 5M1269 418l6 6m0-6l-6 6M1270 426l5 5m0-5l-5 5M1270 422l6 6m0-6l-6 6M1271 423l5 5m0-5l-5 5M1272 408l5 5m0-5l-5 5M1272 420l5 5m0-5l-5 5M1272 405l5 5m0-5l-5 5M1273 416l5 5m0-5l-5 5M1273 407l5 5m0-5l-5 5M1273 406l6 6m0-6l-6 6M1274 406l6 6m0-6l-6 6M1274 408l6 6m0-6l-6 6M1274 403l6 6m0-6l-6 6M1275 397l5 5m0-5l-5 5M1276 394l5 5m0-5l-5 5M1276 401l5 5m0-5l-5 5M1277 390l5 5m0-5l-5 5M1277 396l5 5m0-5l-5 5M1277 402l6 6m0-6l-6 6M1278 396l5 5m0-5l-5 5M1278 394l5 5m0-5l-5 5M1279 396l5 5m0-5l-5 5M1279 397l5 5m0-5l-5 5M1279 391l6 6m0-6l-6 6M1280 381l6 6m0-6l-6 6M1280 399l6 6m0-6l-6 6M1280 391l6 6m0-6l-6 6M1281 395l5 5m0-5l-5 5M1282 396l5 5m0-5l-5 5M1282 393l5 5m0-5l-5 5M1282 390l6 6m0-6l-6 6M1283 393l5 5m0-5l-5 5M1283 386l6 6m0-6l-6 6M1283 384l6 6m0-6l-6 6M1284 391l6 6m0-6l-6 6M1285 383l5 5m0-5l-5 5M1285 380l6 6m0-6l-6 6M1285 384l5 5m0-5l-5 5M1286 384l5 5m0-5l-5 5M1286 381l5 5m0-5l-5 5M1286 380l6 6m0-6l-6 6M1287 385l5 5m0-5l-5 5M1288 389l5 5m0-5l-5 5M1288 378l6 6m0-6l-6 6M1288 387l5 5m0-5l-5 5M1288 381l6 6m0-6l-6 6M1289 377l5 5m0-5l-5 5M1290 388l5 5m0-5l-5 5M1290 391l5 5m0-5l-5 5M1291 393l5 5m0-5l-5 5M1291 394l5 5m0-5l-5 5M1291 380l5 5m0-5l-5 5M1291 386l6 6m0-6l-6 6M1292 382l5 5m0-5l-5 5M1293 380l5 5m0-5l-5 5M1293 384l5 5m0-5l-5 5M1294 376l5 5m0-5l-5 5M1294 380l5 5m0-5l-5 5M1294 376l5 5m0-5l-5 5M1295 375l5 5m0-5l-5 5M1295 375l6 6m0-6l-6 6M1296 373l5 5m0-5l-5 5M1296 375l6 6m0-6l-6 6M1296 378l6 6m0-6l-6 6M1296 375l6 6m0-6l-6 6M1297 371l6 6m0-6l-6 6M1297 371l6 6m0-6l-6 6M1298 375l5 5m0-5l-5 5M1298 373l6 6m0-6l-6 6M1299 374l5 5m0-5l-5 5M1299 369l5 5m0-5l-5 5M1300 373l5 5m0-5l-5 5M1300 369l5 5m0-5l-5 5M1301 372l5 5m0-5l-5 5M1301 372l5 5m0-5l-5 5M1301 371l6 6m0-6l-6 6M1302 364l5 5m0-5l-5 5M1302 364l5 5m0-5l-5 5M1302 359l6 6m0-6l-6 6M1303 372l6 6m0-6l-6 6M1303 375l6 6m0-6l-6 6M1304 357l6 6m0-6l-6 6M1304 364l6 6m0-6l-6 6M1304 372l6 6m0-6l-6 6M1305 370l5 5m0-5l-5 5M1305 365l6 6m0-6l-6 6M1306 363l5 5m0-5l-5 5M1306 363l6 6m0-6l-6 6M1307 360l5 5m0-5l-5 5M1307 355l5 5m0-5l-5 5M1307 365l6 6m0-6l-6 6M1308 358l5 5m0-5l-5 5M1309 361l5 5m0-5l-5 5M1309 360l6 6m0-6l-6 6M1310 356l5 5m0-5l-5 5M1309 369l6 6m0-6l-6 6M1310 361l5 5m0-5l-5 5M1311 350l5 5m0-5l-5 5M1311 348l5 5m0-5l-5 5M1312 353l5 5m0-5l-5 5M1312 362l5 5m0-5l-5 5M1312 349l5 5m0-5l-5 5M1312 356l6 6m0-6l-6 6M1313 346l5 5m0-5l-5 5M1313 349l6 6m0-6l-6 6M1314 348l6 6m0-6l-6 6M1314 347l6 6m0-6l-6 6M1315 353l5 5m0-5l-5 5M1315 343l6 6m0-6l-6 6M1315 354l6 6m0-6l-6 6M1316 335l6 6m0-6l-6 6M1317 346l5 5m0-5l-5 5M1317 355l5 5m0-5l-5 5M1318 352l5 5m0-5l-5 5M1317 354l6 6m0-6l-6 6M1318 346l6 6m0-6l-6 6M1318 348l6 6m0-6l-6 6M1319 343l5 5m0-5l-5 5M1320 355l5 5m0-5l-5 5M1320 351l6 6m0-6l-6 6M1320 354l5 5m0-5l-5 5M1321 362l5 5m0-5l-5 5M1321 351l5 5m0-5l-5 5M1322 365l5 5m0-5l-5 5M1322 356l5 5m0-5l-5 5M1323 356l5 5m0-5l-5 5M1322 356l6 6m0-6l-6 6M1323 360l5 5m0-5l-5 5M1323 365l6 6m0-6l-6 6M1324 366l5 5m0-5l-5 5M1325 360l5 5m0-5l-5 5M1325 367l6 6m0-6l-6 6M1325 348l6 6m0-6l-6 6M1326 353l5 5m0-5l-5 5M1326 343l6 6m0-6l-6 6M1326 358l6 6m0-6l-6 6M1327 352l5 5m0-5l-5 5M1327 346l6 6m0-6l-6 6M1328 358l6 6m0-6l-6 6M1328 351l6 6m0-6l-6 6M1329 349l5 5m0-5l-5 5M1329 347l5 5m0-5l-5 5M1329 359l6 6m0-6l-6 6M1330 342l6 6m0-6l-6 6M1331 353l5 5m0-5l-5 5M1331 351l5 5m0-5l-5 5M1331 352l5 5m0-5l-5 5M1331 345l6 6m0-6l-6 6M1332 332l6 6m0-6l-6 6M1333 343l5 5m0-5l-5 5M1333 338l6 6m0-6l-6 6M1333 342l6 6m0-6l-6 6M1333 332l6 6m0-6l-6 6M1334 337l6 6m0-6l-6 6M1334 337l6 6m0-6l-6 6M1335 352l6 6m0-6l-6 6M1335 337l6 6m0-6l-6 6M1336 333l5 5m0-5l-5 5M1336 336l5 5m0-5l-5 5M1337 338l5 5m0-5l-5 5M1337 332l6 6m0-6l-6 6M1338 344l5 5m0-5l-5 5M1338 348l5 5m0-5l-5 5M1338 344l6 6m0-6l-6 6M1339 347l6 6m0-6l-6 6M1339 326l5 5m0-5l-5 5M1340 341l5 5m0-5l-5 5M1340 324l6 6m0-6l-6 6M1340 326l6 6m0-6l-6 6M1341 332l6 6m0-6l-6 6M1341 331l6 6m0-6l-6 6M1341 331l6 6m0-6l-6 6M1342 328l6 6m0-6l-6 6M1342 328l6 6m0-6l-6 6M1343 321l6 6m0-6l-6 6M1343 334l6 6m0-6l-6 6M1344 333l6 6m0-6l-6 6M1344 338l5 5m0-5l-5 5M1345 340l5 5m0-5l-5 5M1345 334l5 5m0-5l-5 5M1345 331l6 6m0-6l-6 6M1346 343l5 5m0-5l-5 5M1347 327l5 5m0-5l-5 5M1347 340l6 6m0-6l-6 6M1347 337l6 6m0-6l-6 6M1348 334l5 5m0-5l-5 5M1348 340l5 5m0-5l-5 5M1349 320l5 5m0-5l-5 5M1349 330l6 6m0-6l-6 6M1350 339l5 5m0-5l-5 5M1350 329l5 5m0-5l-5 5M1350 328l5 5m0-5l-5 5M1350 323l6 6m0-6l-6 6M1351 322l6 6m0-6l-6 6M1351 328l6 6m0-6l-6 6M1352 317l6 6m0-6l-6 6M1352 333l6 6m0-6l-6 6M1352 323l6 6m0-6l-6 6M1353 316l5 5m0-5l-5 5M1354 322l5 5m0-5l-5 5M1354 320l5 5m0-5l-5 5M1354 329l6 6m0-6l-6 6M1355 328l6 6m0-6l-6 6M1355 324l6 6m0-6l-6 6M1356 329l5 5m0-5l-5 5M1356 338l5 5m0-5l-5 5M1357 324l5 5m0-5l-5 5M1357 325l6 6m0-6l-6 6M1358 329l5 5m0-5l-5 5M1357 344l6 6m0-6l-6 6M1358 339l5 5m0-5l-5 5M1359 331l5 5m0-5l-5 5M1359 330l5 5m0-5l-5 5M1360 329l5 5m0-5l-5 5M1360 333l5 5m0-5l-5 5M1360 324l6 6m0-6l-6 6M1361 315l5 5m0-5l-5 5M1361 320l5 5m0-5l-5 5M1362 326l5 5m0-5l-5 5M1362 326l5 5m0-5l-5 5M1363 321l5 5m0-5l-5 5M1363 319l5 5m0-5l-5 5M1363 322l5 5m0-5l-5 5M1364 331l5 5m0-5l-5 5M1364 317l6 6m0-6l-6 6M1365 318l5 5m0-5l-5 5M1365 314l5 5m0-5l-5 5M1366 321l5 5m0-5l-5 5M1365 312l6 6m0-6l-6 6M1366 323l6 6m0-6l-6 6M1367 315l5 5m0-5l-5 5M1367 323l5 5m0-5l-5 5M1368 324l5 5m0-5l-5 5M1368 323l5 5m0-5l-5 5M1369 310l5 5m0-5l-5 5M1369 320l5 5m0-5l-5 5M1369 325l5 5m0-5l-5 5M1370 317l5 5m0-5l-5 5M1370 316l6 6m0-6l-6 6M1370 322l6 6m0-6l-6 6M1371 310l6 6m0-6l-6 6M1371 316l5 5m0-5l-5 5M1372 313l5 5m0-5l-5 5M1372 324l6 6m0-6l-6 6M1372 302l6 6m0-6l-6 6M1373 311l6 6m0-6l-6 6M1374 313l5 5m0-5l-5 5M1373 314l6 6m0-6l-6 6M1374 294l6 6m0-6l-6 6M1374 299l6 6m0-6l-6 6M1375 310l6 6m0-6l-6 6M1375 310l6 6m0-6l-6 6M1376 301l5 5m0-5l-5 5M1377 305l5 5m0-5l-5 5M1376 312l6 6m0-6l-6 6M1377 301l5 5m0-5l-5 5M1377 300l6 6m0-6l-6 6M1378 297l5 5m0-5l-5 5M1378 308l6 6m0-6l-6 6M1379 303l5 5m0-5l-5 5M1379 301l5 5m0-5l-5 5M1379 290l6 6m0-6l-6 6M1380 307l6 6m0-6l-6 6M1381 297l5 5m0-5l-5 5M1381 287l6 6m0-6l-6 6M1381 301l6 6m0-6l-6 6M1382 293l5 5m0-5l-5 5M1382 287l5 5m0-5l-5 5M1383 307l5 5m0-5l-5 5M1383 301l6 6m0-6l-6 6M1384 300l5 5m0-5l-5 5M1384 289l5 5m0-5l-5 5M1384 293l6 6m0-6l-6 6M1385 298l5 5m0-5l-5 5M1385 302l6 6m0-6l-6 6M1386 286l5 5m0-5l-5 5M1386 293l6 6m0-6l-6 6M1386 296l6 6m0-6l-6 6M1387 300l6 6m0-6l-6 6M1387 298l5 5m0-5l-5 5M1387 299l6 6m0-6l-6 6M1388 308l6 6m0-6l-6 6M1389 292l5 5m0-5l-5 5M1389 289l6 6m0-6l-6 6M1389 287l6 6m0-6l-6 6M1390 302l5 5m0-5l-5 5M1390 303l6 6m0-6l-6 6M1391 305l5 5m0-5l-5 5M1391 302l5 5m0-5l-5 5M1391 302l6 6m0-6l-6 6M1392 302l6 6m0-6l-6 6M1393 315l5 5m0-5l-5 5M1392 308l6 6m0-6l-6 6M1393 315l6 6m0-6l-6 6M1393 312l6 6m0-6l-6 6M1394 313l6 6m0-6l-6 6M1395 310l5 5m0-5l-5 5M1395 305l6 6m0-6l-6 6M1395 307l5 5m0-5l-5 5M1395 316l6 6m0-6l-6 6M1396 309l5 5m0-5l-5 5M1397 318l5 5m0-5l-5 5M1397 314l5 5m0-5l-5 5M1397 302l6 6m0-6l-6 6M1398 311l6 6m0-6l-6 6M1398 307l5 5m0-5l-5 5M1399 305l5 5m0-5l-5 5M1399 305l6 6m0-6l-6 6M1399 293l6 6m0-6l-6 6M1400 297l6 6m0-6l-6 6M1401 294l5 5m0-5l-5 5M1400 306l6 6m0-6l-6 6M1401 296l6 6m0-6l-6 6M1402 309l5 5m0-5l-5 5M1402 302l6 6m0-6l-6 6M1403 304l5 5m0-5l-5 5M1403 295l5 5m0-5l-5 5M1403 299l5 5m0-5l-5 5M1403 301l6 6m0-6l-6 6M1404 296l5 5m0-5l-5 5M1404 290l6 6m0-6l-6 6M1405 293l5 5m0-5l-5 5M1405 301l6 6m0-6l-6 6M1406 302l6 6m0-6l-6 6M1406 295l5 5m0-5l-5 5M1407 300l5 5m0-5l-5 5M1407 306l6 6m0-6l-6 6M1407 287l6 6m0-6l-6 6M1408 287l5 5m0-5l-5 5M1408 289l6 6m0-6l-6 6M1408 290l6 6m0-6l-6 6M1409 292l6 6m0-6l-6 6M1410 293l5 5m0-5l-5 5M1410 296l6 6m0-6l-6 6M1410 292l6 6m0-6l-6 6M1411 305l5 5m0-5l-5 5M1411 300l5 5m0-5l-5 5M1411 295l6 6m0-6l-6 6M1412 308l6 6m0-6l-6 6M1412 287l6 6m0-6l-6 6M1413 290l6 6m0-6l-6 6M1414 298l5 5m0-5l-5 5M1414 288l6 6m0-6l-6 6M1414 285l5 5m0-5l-5 5M1415 289l5 5m0-5l-5 5M1415 290l6 6m0-6l-6 6M1416 294l5 5m0-5l-5 5M1416 298l6 6m0-6l-6 6M1417 280l5 5m0-5l-5 5M1416 282l6 6m0-6l-6 6M1417 289l6 6m0-6l-6 6M1418 289l5 5m0-5l-5 5M1418 291l6 6m0-6l-6 6M1419 286l5 5m0-5l-5 5M1419 282l6 6m0-6l-6 6M1419 286l6 6m0-6l-6 6" stroke="#000" stroke-width="1" fill="none" shape-rendering="crispEdges"/>
<path d="M162.5 125V846M1422.5 125V846M162 125.5H1423M162 845.5H1423" stroke="#000" stroke-width="1" fill="none" shape-rendering="crispEdges"/>
<path d="M201.375 111V126M201.375 845V859M398.250 111V126M398.250 845V859M595.125 111V126M595.125 845V859M792.000 111V126M792.000 845V859M988.875 111V126M988.875 845V859M1185.750 111V126M1185.750 845V859M1382.625 111V126M1382.625 845V859M162.000 118V126M162.000 845V852M240.750 118V126M240.750 845V852M280.125 118V126M280.125 845V852M319.500 118V126M319.500 845V852M358.875 118V126M358.875 845V852M437.625 118V126M437.625 845V852M477.000 118V126M477.000 845V852M516.375 118V126M516.375 845V852M555.750 118V126M555.750 845V852M634.500 118V126M634.500 845V852M673.875 118V126M673.875 845V852M713.250 118V126M713.250 845V852M752.625 118V126M752.625 845V852M831.375 118V126M831.375 845V852M870.750 118V126M870.750 845V852M910.125 118V126M910.125 845V852M949.500 118V126M949.500 845V852M1028.250 118V126M1028.250 845V852M1067.625 118V126M1067.625 845V852M1107.000 118V126M1107.000 845V852M1146.375 118V126M1146.375 845V852M1225.125 118V126M1225.125 845V852M1264.500 118V126M1264.500 845V852M1303.875 118V126M1303.875 845V852M1343.250 118V126M1343.250 845V852M1422.000 118V126M1422.000 845V852" stroke="#000" stroke-width="2.2" fill="none" shape-rendering="crispEdges"/>
<path d="M148 845.000H163M1422 845.000H1436M148 745.000H163M1422 745.000H1436M148 645.000H163M1422 645.000H1436M148 545.000H163M1422 545.000H1436M148 445.000H163M1422 445.000H1436M148 345.000H163M1422 345.000H1436M148 245.000H163M1422 245.000H1436M148 145.000H163M1422 145.000H1436" stroke="#000" stroke-width="2.2" fill="none" shape-rendering="crispEdges"/>
<text transform="translate(136.5 856.0) scale(1 1.1)" font-size="30" text-anchor="end"><tspan dy="3.2">−</tspan><tspan dy="-3.2">30</tspan></text>
<text transform="translate(136.5 756.0) scale(1 1.1)" font-size="30" text-anchor="end"><tspan dy="3.2">−</tspan><tspan dy="-3.2">20</tspan></text>
<text transform="translate(136.5 656.0) scale(1 1.1)" font-size="30" text-anchor="end"><tspan dy="3.2">−</tspan><tspan dy="-3.2">10</tspan></text>
<text transform="translate(136.5 556.0) scale(1 1.1)" font-size="30" text-anchor="end">0</text>
<text transform="translate(136.5 456.0) scale(1 1.1)" font-size="30" text-anchor="end">10</text>
<text transform="translate(136.5 356.0) scale(1 1.1)" font-size="30" text-anchor="end">20</text>
<text transform="translate(136.5 256.0) scale(1 1.1)" font-size="30" text-anchor="end">30</text>
<text transform="translate(136.5 156.0) scale(1 1.1)" font-size="30" text-anchor="end">40</text>
<text transform="translate(201.4 893.0) scale(1 1.1)" font-size="30" text-anchor="middle">61010</text>
<text transform="translate(398.2 893.0) scale(1 1.1)" font-size="30" text-anchor="middle">61015</text>
<text transform="translate(595.1 893.0) scale(1 1.1)" font-size="30" text-anchor="middle">61020</text>
<text transform="translate(792.0 893.0) scale(1 1.1)" font-size="30" text-anchor="middle">61025</text>
<text transform="translate(988.9 893.0) scale(1 1.1)" font-size="30" text-anchor="middle">61030</text>
<text transform="translate(1185.8 893.0) scale(1 1.1)" font-size="30" text-anchor="middle">61035</text>
<text transform="translate(1382.6 893.0) scale(1 1.1)" font-size="30" text-anchor="middle">61040</text>
<text transform="translate(792.0 923.0) scale(1 1.04)" font-size="30" font-weight="bold" text-anchor="middle">Modified Julian Date</text>
<text transform="translate(76 485) rotate(-90)" font-size="30" font-weight="bold" text-anchor="middle">nanosecond</text>
<g font-size="30" font-weight="bold" transform="translate(0 810) scale(1 1.05) translate(0 -810)"><text x="200.6" y="810">_2512_TP02PT13_TP01PT13.E3AA5</text><text x="752.3" y="810">GAL P3</text><text x="866.2" y="810" font-weight="normal">(</text><text x="878.3" y="810">x</text><text x="893.8" y="815.6" font-size="21">black</text><text x="950.2" y="810" font-weight="normal">)</text><text x="966" y="810">,</text><text x="991.6" y="810">GPSPPP</text><text x="1122.1" y="810" font-weight="normal">(</text><text x="1132.8" y="810">o</text><text x="1152.1" y="815.6" font-size="21">blue</text><text x="1195.6" y="810" font-weight="normal">)</text><text x="1220.7" y="810">2991Ep</text></g>
<path clip-path="url(#c2)" d="M159 1176l6 6m0-6l-6 6M160 1145l5 5m0-5l-5 5M160 1177l6 6m0-6l-6 6M161 1218l5 5m0-5l-5 5M161 1102l5 5m0-5l-5 5M161 1118l6 6m0-6l-6 6M162 1123l6 6m0-6l-6 6M162 1103l5 5m0-5l-5 5M163 1036l5 5m0-5l-5 5M163 1115l5 5m0-5l-5 5M164 1183l5 5m0-5l-5 5M164 1080l5 5m0-5l-5 5M164 1206l6 6m0-6l-6 6M165 1163l5 5m0-5l-5 5M165 1158l6 6m0-6l-6 6M165 1108l6 6m0-6l-6 6M166 1138l5 5m0-5l-5 5M167 1180l5 5m0-5l-5 5M167 1048l6 6m0-6l-6 6M168 1162l5 5m0-5l-5 5M168 1111l5 5m0-5l-5 5M168 1146l5 5m0-5l-5 5M168 1161l6 6m0-6l-6 6M169 1095l6 6m0-6l-6 6M169 1145l6 6m0-6l-6 6M170 1178l5 5m0-5l-5 5M170 1201l6 6m0-6l-6 6M171 1113l5 5m0-5l-5 5M171 1059l6 6m0-6l-6 6M172 1085l5 5m0-5l-5 5M172 1144l5 5m0-5l-5 5M172 1101l6 6m0-6l-6 6M173 1078l5 5m0-5l-5 5M173 1086l5 5m0-5l-5 5M174 1112l5 5m0-5l-5 5M174 1218l6 6m0-6l-6 6M174 1128l6 6m0-6l-6 6M175 1154l5 5m0-5l-5 5M175 1074l6 6m0-6l-6 6M176 1139l5 5m0-5l-5 5M176 1153l5 5m0-5l-5 5M177 1163l5 5m0-5l-5 5M177 1182l5 5m0-5l-5 5M177 1136l6 6m0-6l-6 6M178 1045l6 6m0-6l-6 6M178 1079l5 5m0-5l-5 5M178 1149l6 6m0-6l-6 6M179 1148l5 5m0-5l-5 5M180 1133l5 5m0-5l-5 5M180 1156l6 6m0-6l-6 6M181 1141l5 5m0-5l-5 5M180 1030l6 6m0-6l-6 6M181 1071l5 5m0-5l-5 5M181 1088l6 6m0-6l-6 6M182 1083l5 5m0-5l-5 5M182 1048l6 6m0-6l-6 6M183 1115l6 6m0-6l-6 6M183 1009l6 6m0-6l-6 6M184 1077l5 5m0-5l-5 5M184 1154l6 6m0-6l-6 6M185 1128l5 5m0-5l-5 5M185 1166l5 5m0-5l-5 5M185 1113l6 6m0-6l-6 6M186 1159l5 5m0-5l-5 5M186 1079l5 5m0-5l-5 5M187 1176l5 5m0-5l-5 5M187 1075l6 6m0-6l-6 6M188 1127l5 5m0-5l-5 5M188 1071l5 5m0-5l-5 5M189 1113l5 5m0-5l-5 5M188 1090l6 6m0-6l-6 6M189 1178l6 6m0-6l-6 6M189 1090l6 6m0-6l-6 6M190 1129l6 6m0-6l-6 6M191 1089l5 5m0-5l-5 5M191 1099l6 6m0-6l-6 6M192 1078l5 5m0-5l-5 5M191 1119l6 6m0-6l-6 6M192 1203l6 6m0-6l-6 6M192 1192l6 6m0-6l-6 6M193 1101l5 5m0-5l-5 5M194 1205l5 5m0-5l-5 5M194 1130l6 6m0-6l-6 6M194 1071l6 6m0-6l-6 6M194 1171l6 6m0-6l-6 6M195 1196l6 6m0-6l-6 6M196 1089l5 5m0-5l-5 5M196 1170l5 5m0-5l-5 5M196 1138l6 6m0-6l-6 6M197 1146l5 5m0-5l-5 5M197 1105l5 5m0-5l-5 5M198 1138l5 5m0-5l-5 5M198 1104l5 5m0-5l-5 5M198 1257l6 6m0-6l-6 6M199 1172l5 5m0-5l-5 5M200 1124l5 5m0-5l-5 5M200 1101l5 5m0-5l-5 5M200 1054l5 5m0-5l-5 5M200 1060l6 6m0-6l-6 6M201 1051l6 6m0-6l-6 6M201 1175l6 6m0-6l-6 6M202 1202l6 6m0-6l-6 6M202 1031l6 6m0-6l-6 6M202 1078l6 6m0-6l-6 6M203 1272l5 5m0-5l-5 5M204 1090l5 5m0-5l-5 5M204 1232l5 5m0-5l-5 5M205 1157l5 5m0-5l-5 5M205 1182l5 5m0-5l-5 5M205 1169l5 5m0-5l-5 5M206 1145l5 5m0-5l-5 5M206 1101l5 5m0-5l-5 5M207 1134l5 5m0-5l-5 5M207 1054l6 6m0-6l-6 6M208 1042l5 5m0-5l-5 5M207 1157l6 6m0-6l-6 6M208 1130l6 6m0-6l-6 6M209 1149l5 5m0-5l-5 5M209 1078l6 6m0-6l-6 6M210 1083l5 5m0-5l-5 5M210 1234l6 6m0-6l-6 6M210 1209l6 6m0-6l-6 6M211 1079l5 5m0-5l-5 5M211 1102l5 5m0-5l-5 5M211 1098l6 6m0-6l-6 6M212 1130l5 5m0-5l-5 5M212 1071l6 6m0-6l-6 6M213 1080l5 5m0-5l-5 5M213 1071l5 5m0-5l-5 5M214 1096l5 5m0-5l-5 5M214 1074l6 6m0-6l-6 6M215 1143l5 5m0-5l-5 5M215 1141l5 5m0-5l-5 5M215 1111l6 6m0-6l-6 6M216 1218l5 5m0-5l-5 5M216 1109l5 5m0-5l-5 5M216 1044l6 6m0-6l-6 6M217 1035l6 6m0-6l-6 6M217 1118l6 6m0-6l-6 6M218 1102l5 5m0-5l-5 5M218 1048l5 5m0-5l-5 5M218 1134l6 6m0-6l-6 6M219 1190l6 6m0-6l-6 6M219 1193l6 6m0-6l-6 6M220 1072l5 5m0-5l-5 5M220 1091l6 6m0-6l-6 6M221 1102l5 5m0-5l-5 5M221 1030l5 5m0-5l-5 5M222 1117l5 5m0-5l-5 5M222 1225l6 6m0-6l-6 6M222 1137l6 6m0-6l-6 6M223 1157l6 6m0-6l-6 6M223 1182l6 6m0-6l-6 6M224 1110l5 5m0-5l-5 5M224 1103l6 6m0-6l-6 6M225 1175l5 5m0-5l-5 5M225 1202l6 6m0-6l-6 6M225 1109l6 6m0-6l-6 6M226 1139l6 6m0-6l-6 6M227 1122l5 5m0-5l-5 5M226 1122l6 6m0-6l-6 6M227 1156l6 6m0-6l-6 6M228 1188l5 5m0-5l-5 5M228 1116l6 6m0-6l-6 6M228 1134l6 6m0-6l-6 6M229 1144l6 6m0-6l-6 6M229 1120l5 5m0-5l-5 5M229 1132l6 6m0-6l-6 6M230 1075l6 6m0-6l-6 6M231 1084l5 5m0-5l-5 5M231 1161l6 6m0-6l-6 6M231 1100l6 6m0-6l-6 6M231 1107l6 6m0-6l-6 6M232 1133l5 5m0-5l-5 5M233 1124l5 5m0-5l-5 5M233 1067l5 5m0-5l-5 5M233 1089l6 6m0-6l-6 6M234 1138l5 5m0-5l-5 5M234 1118l6 6m0-6l-6 6M234 1090l6 6m0-6l-6 6M235 1121l5 5m0-5l-5 5M235 1008l6 6m0-6l-6 6M236 1186l5 5m0-5l-5 5M237 1112l5 5m0-5l-5 5M237 1225l6 6m0-6l-6 6M237 1001l5 5m0-5l-5 5M238 1138l5 5m0-5l-5 5M238 1031l6 6m0-6l-6 6M238 1210l6 6m0-6l-6 6M239 1061l6 6m0-6l-6 6M240 1129l5 5m0-5l-5 5M240 1108l5 5m0-5l-5 5M240 1094l6 6m0-6l-6 6M241 1175l5 5m0-5l-5 5M241 1132l6 6m0-6l-6 6M241 1062l6 6m0-6l-6 6M242 1165l6 6m0-6l-6 6M243 1022l5 5m0-5l-5 5M243 1115l5 5m0-5l-5 5M243 1187l5 5m0-5l-5 5M243 1105l6 6m0-6l-6 6M244 1144l6 6m0-6l-6 6M245 1126l5 5m0-5l-5 5M245 1162l6 6m0-6l-6 6M245 1084l5 5m0-5l-5 5M246 1054l5 5m0-5l-5 5M246 1102l5 5m0-5l-5 5M247 1164l5 5m0-5l-5 5M247 1115l5 5m0-5l-5 5M247 1247l6 6m0-6l-6 6M248 1080l5 5m0-5l-5 5M248 1164l5 5m0-5l-5 5M249 1209l5 5m0-5l-5 5M249 1156l6 6m0-6l-6 6M249 1126l6 6m0-6l-6 6M250 1105l5 5m0-5l-5 5M251 1026l5 5m0-5l-5 5M250 1160l6 6m0-6l-6 6M251 1138l5 5m0-5l-5 5M251 1052l6 6m0-6l-6 6M252 1136l6 6m0-6l-6 6M253 1122l5 5m0-5l-5 5M253 1112l5 5m0-5l-5 5M253 1126l6 6m0-6l-6 6M253 1116l6 6m0-6l-6 6M254 1161l6 6m0-6l-6 6M255 1127l5 5m0-5l-5 5M255 1076l6 6m0-6l-6 6M255 1213l6 6m0-6l-6 6M256 1096l5 5m0-5l-5 5M256 1178l6 6m0-6l-6 6M257 1104l5 5m0-5l-5 5M257 1087l5 5m0-5l-5 5M258 1109l5 5m0-5l-5 5M258 1053l5 5m0-5l-5 5M259 1139l5 5m0-5l-5 5M258 1126l6 6m0-6l-6 6M259 1091l5 5m0-5l-5 5M260 1154l5 5m0-5l-5 5M260 1130l6 6m0-6l-6 6M261 1150l5 5m0-5l-5 5M261 1161l6 6m0-6l-6 6M261 1333l5 5m0-5l-5 5M262 1059l5 5m0-5l-5 5M262 1260l5 5m0-5l-5 5M263 1075l5 5m0-5l-5 5M263 1221l5 5m0-5l-5 5M264 1077l5 5m0-5l-5 5M264 1172l5 5m0-5l-5 5M264 1121l5 5m0-5l-5 5M265 1173l5 5m0-5l-5 5M265 1086l5 5m0-5l-5 5M266 1226l5 5m0-5l-5 5M266 1120l5 5m0-5l-5 5M267 1176l5 5m0-5l-5 5M266 1106l6 6m0-6l-6 6M267 1109l5 5m0-5l-5 5M268 1150l5 5m0-5l-5 5M268 1186l5 5m0-5l-5 5M269 1136l5 5m0-5l-5 5M269 1117l5 5m0-5l-5 5M269 1152l5 5m0-5l-5 5M270 1143l5 5m0-5l-5 5M270 1133l5 5m0-5l-5 5M270 1164l6 6m0-6l-6 6M271 1269l6 6m0-6l-6 6M272 1226l5 5m0-5l-5 5M272 1010l5 5m0-5l-5 5M272 1164l5 5m0-5l-5 5M273 1186l5 5m0-5l-5 5M273 1086l6 6m0-6l-6 6M273 1159l6 6m0-6l-6 6M274 1223l6 6m0-6l-6 6M274 1173l6 6m0-6l-6 6M275 1052l5 5m0-5l-5 5M275 1096l5 5m0-5l-5 5M276 1194l5 5m0-5l-5 5M276 1176l5 5m0-5l-5 5M276 1085l6 6m0-6l-6 6M277 1123l6 6m0-6l-6 6M277 1150l6 6m0-6l-6 6M278 1120l5 5m0-5l-5 5M278 1155l5 5m0-5l-5 5M279 1140l5 5m0-5l-5 5M279 1182l6 6m0-6l-6 6M280 1186l5 5m0-5l-5 5M280 1227l5 5m0-5l-5 5M280 1167l5 5m0-5l-5 5M280 1198l6 6m0-6l-6 6M281 1193l5 5m0-5l-5 5M282 1081l5 5m0-5l-5 5M282 1149l5 5m0-5l-5 5M282 1200l6 6m0-6l-6 6M283 1205l5 5m0-5l-5 5M283 1119l5 5m0-5l-5 5M283 1091l6 6m0-6l-6 6M284 1224l5 5m0-5l-5 5M284 1251l6 6m0-6l-6 6M285 1118l6 6m0-6l-6 6M285 1142l5 5m0-5l-5 5M286 1215l5 5m0-5l-5 5M286 1207l5 5m0-5l-5 5M286 1142l6 6m0-6l-6 6M287 1159l6 6m0-6l-6 6M287 1078l6 6m0-6l-6 6M288 1164l6 6m0-6l-6 6M288 1095l6 6m0-6l-6 6M289 1067l5 5m0-5l-5 5M289 1058l5 5m0-5l-5 5M290 1165l5 5m0-5l-5 5M290 1116l5 5m0-5l-5 5M290 1091l6 6m0-6l-6 6M291 1125l5 5m0-5l-5 5M291 1201l5 5m0-5l-5 5M291 1242l6 6m0-6l-6 6M292 1174l5 5m0-5l-5 5M292 1099l6 6m0-6l-6 6M293 1214l5 5m0-5l-5 5M294 1163l5 5m0-5l-5 5M293 1201l6 6m0-6l-6 6M294 1155l5 5m0-5l-5 5M294 1130l6 6m0-6l-6 6M295 1240l6 6m0-6l-6 6M296 1197l5 5m0-5l-5 5M296 1215l6 6m0-6l-6 6M296 1262l5 5m0-5l-5 5M296 1062l6 6m0-6l-6 6M297 1178l6 6m0-6l-6 6M298 1195l5 5m0-5l-5 5M298 1142l5 5m0-5l-5 5M298 1215l6 6m0-6l-6 6M298 1131l6 6m0-6l-6 6M299 1204l6 6m0-6l-6 6M300 1249l5 5m0-5l-5 5M300 1153l5 5m0-5l-5 5M301 1178l5 5m0-5l-5 5M301 1266l6 6m0-6l-6 6M301 1254l6 6m0-6l-6 6M301 1122l6 6m0-6l-6 6M302 1161l5 5m0-5l-5 5M302 1188l6 6m0-6l-6 6M303 1348l5 5m0-5l-5 5M303 1112l6 6m0-6l-6 6M304 1240l6 6m0-6l-6 6M304 1193l5 5m0-5l-5 5M305 1268l5 5m0-5l-5 5M305 1169l6 6m0-6l-6 6M305 1203l6 6m0-6l-6 6M306 1184l6 6m0-6l-6 6M306 1319l6 6m0-6l-6 6M306 1235l6 6m0-6l-6 6M307 1289l5 5m0-5l-5 5M307 1277l6 6m0-6l-6 6M308 1229l6 6m0-6l-6 6M308 1337l6 6m0-6l-6 6M309 1195l5 5m0-5l-5 5M310 1325l5 5m0-5l-5 5M309 1250l6 6m0-6l-6 6M310 1209l5 5m0-5l-5 5M311 1204l5 5m0-5l-5 5M311 1258l6 6m0-6l-6 6M312 1329l5 5m0-5l-5 5M312 1298l6 6m0-6l-6 6M312 1175l5 5m0-5l-5 5M313 1281l5 5m0-5l-5 5M313 1133l5 5m0-5l-5 5M313 1167l6 6m0-6l-6 6M314 1286l5 5m0-5l-5 5M314 1216l6 6m0-6l-6 6M315 1241l5 5m0-5l-5 5M315 1323l5 5m0-5l-5 5M316 1172l5 5m0-5l-5 5M316 1246l6 6m0-6l-6 6M317 1243l5 5m0-5l-5 5M317 1227l6 6m0-6l-6 6M318 1178l5 5m0-5l-5 5M317 1230l6 6m0-6l-6 6M318 1241l6 6m0-6l-6 6M318 1312l6 6m0-6l-6 6M319 1245l5 5m0-5l-5 5M320 1179l5 5m0-5l-5 5M320 1235l6 6m0-6l-6 6M320 1249l6 6m0-6l-6 6M321 1186l5 5m0-5l-5 5M321 1240l5 5m0-5l-5 5M321 1242l6 6m0-6l-6 6M322 1277l5 5m0-5l-5 5M322 1197l6 6m0-6l-6 6M323 1211l6 6m0-6l-6 6M323 1231l6 6m0-6l-6 6M323 1132l6 6m0-6l-6 6M324 1224l6 6m0-6l-6 6M324 1244l6 6m0-6l-6 6M325 1257l5 5m0-5l-5 5M326 1199l5 5m0-5l-5 5M325 1195l6 6m0-6l-6 6M326 1138l5 5m0-5l-5 5M326 1240l6 6m0-6l-6 6M327 1148l5 5m0-5l-5 5M328 1143l5 5m0-5l-5 5M328 1225l6 6m0-6l-6 6M328 1239l5 5m0-5l-5 5M329 1134l5 5m0-5l-5 5M329 1082l6 6m0-6l-6 6M329 1198l6 6m0-6l-6 6M330 1222l5 5m0-5l-5 5M330 1211l6 6m0-6l-6 6M331 1240l6 6m0-6l-6 6M331 1144l6 6m0-6l-6 6M332 1214l5 5m0-5l-5 5M332 1132l5 5m0-5l-5 5M332 1154l6 6m0-6l-6 6M333 1181l5 5m0-5l-5 5M333 1267l6 6m0-6l-6 6M333 1148l6 6m0-6l-6 6M334 1249l5 5m0-5l-5 5M334 1222l6 6m0-6l-6 6M335 1122l5 5m0-5l-5 5M336 1143l5 5m0-5l-5 5M336 1179l6 6m0-6l-6 6M336 1167l6 6m0-6l-6 6M337 1229l5 5m0-5l-5 5M337 1109l6 6m0-6l-6 6M338 1202l5 5m0-5l-5 5M338 1147l5 5m0-5l-5 5M338 1143l6 6m0-6l-6 6M339 1188l5 5m0-5l-5 5M339 1221l5 5m0-5l-5 5M339 1217l6 6m0-6l-6 6M340 1200l5 5m0-5l-5 5M340 1203l6 6m0-6l-6 6M341 1224l6 6m0-6l-6 6M341 1152l6 6m0-6l-6 6M342 1204l5 5m0-5l-5 5M342 1183l6 6m0-6l-6 6M343 1095l5 5m0-5l-5 5M343 1166l6 6m0-6l-6 6M343 1095l6 6m0-6l-6 6M344 1118l5 5m0-5l-5 5M344 1116l6 6m0-6l-6 6M345 1262l5 5m0-5l-5 5M345 1106l6 6m0-6l-6 6M346 1100l5 5m0-5l-5 5M346 1231l5 5m0-5l-5 5M346 1132l6 6m0-6l-6 6M347 1139l5 5m0-5l-5 5M347 1098l5 5m0-5l-5 5M347 1307l6 6m0-6l-6 6M348 1141l6 6m0-6l-6 6M348 1133l6 6m0-6l-6 6M349 1145l6 6m0-6l-6 6M350 1206l5 5m0-5l-5 5M350 1247l5 5m0-5l-5 5M350 1175l6 6m0-6l-6 6M350 1124l6 6m0-6l-6 6M351 1193l5 5m0-5l-5 5M352 1196l5 5m0-5l-5 5M352 1221l6 6m0-6l-6 6M353 1276l5 5m0-5l-5 5M352 1176l6 6m0-6l-6 6M353 1158l5 5m0-5l-5 5M354 1159l5 5m0-5l-5 5M354 1097l5 5m0-5l-5 5M354 1183l6 6m0-6l-6 6M355 1118l5 5m0-5l-5 5M355 1224l6 6m0-6l-6 6M355 1120l6 6m0-6l-6 6M356 1178l6 6m0-6l-6 6M357 1161l5 5m0-5l-5 5M357 1086l6 6m0-6l-6 6M358 1208l5 5m0-5l-5 5M357 1220l6 6m0-6l-6 6M358 1214l5 5m0-5l-5 5M359 1232l5 5m0-5l-5 5M359 1166l5 5m0-5l-5 5M360 1265l5 5m0-5l-5 5M360 1185l6 6m0-6l-6 6M360 1174l6 6m0-6l-6 6M361 1286l5 5m0-5l-5 5M361 1117l5 5m0-5l-5 5M362 1160l5 5m0-5l-5 5M362 1157l6 6m0-6l-6 6M363 1115l5 5m0-5l-5 5M363 1214l6 6m0-6l-6 6M363 1153l6 6m0-6l-6 6M363 1184l6 6m0-6l-6 6M364 1177l6 6m0-6l-6 6M365 1242l5 5m0-5l-5 5M365 1139l5 5m0-5l-5 5M366 1214l5 5m0-5l-5 5M365 1149l6 6m0-6l-6 6M366 1167l6 6m0-6l-6 6M366 1235l6 6m0-6l-6 6M367 1136l5 5m0-5l-5 5M367 1126l6 6m0-6l-6 6M368 1083l5 5m0-5l-5 5M368 1168l6 6m0-6l-6 6M369 1161l5 5m0-5l-5 5M369 1127l5 5m0-5l-5 5M369 1188l6 6m0-6l-6 6M370 1223l6 6m0-6l-6 6M371 1119l5 5m0-5l-5 5M371 1064l5 5m0-5l-5 5M371 1116l5 5m0-5l-5 5M372 1148l5 5m0-5l-5 5M372 1185l6 6m0-6l-6 6M372 1178l6 6m0-6l-6 6M373 1150l5 5m0-5l-5 5M373 1210l6 6m0-6l-6 6M374 1210l5 5m0-5l-5 5M374 1166l5 5m0-5l-5 5M374 1232l6 6m0-6l-6 6M375 1229l6 6m0-6l-6 6M376 1203l5 5m0-5l-5 5M376 1158l5 5m0-5l-5 5M376 1174l6 6m0-6l-6 6M376 1059l6 6m0-6l-6 6M377 1178l6 6m0-6l-6 6M377 1074l6 6m0-6l-6 6M378 1159l5 5m0-5l-5 5M378 1188l6 6m0-6l-6 6M379 1186l5 5m0-5l-5 5M379 1140l5 5m0-5l-5 5M379 1152l6 6m0-6l-6 6M380 1182l5 5m0-5l-5 5M380 1181l6 6m0-6l-6 6M381 1152l5 5m0-5l-5 5M381 1093l6 6m0-6l-6 6M382 1041l5 5m0-5l-5 5M382 1101l6 6m0-6l-6 6M383 1154l5 5m0-5l-5 5M383 1138l5 5m0-5l-5 5M384 1194l5 5m0-5l-5 5M384 1107l6 6m0-6l-6 6M384 1189l6 6m0-6l-6 6M385 1100l5 5m0-5l-5 5M385 1128l6 6m0-6l-6 6M386 1213l5 5m0-5l-5 5M386 1180l5 5m0-5l-5 5M387 1236l5 5m0-5l-5 5M387 1194l6 6m0-6l-6 6M387 1176l5 5m0-5l-5 5M388 1142l5 5m0-5l-5 5M388 1268l6 6m0-6l-6 6M389 1181l5 5m0-5l-5 5M389 1212l5 5m0-5l-5 5M390 1258l5 5m0-5l-5 5M390 1092l6 6m0-6l-6 6M390 1171l5 5m0-5l-5 5M391 1101l5 5m0-5l-5 5M391 1228l6 6m0-6l-6 6M392 1180l5 5m0-5l-5 5M392 1135l6 6m0-6l-6 6M392 1193l6 6m0-6l-6 6M392 1124l6 6m0-6l-6 6M393 1174l5 5m0-5l-5 5M393 1073l6 6m0-6l-6 6M394 1186l5 5m0-5l-5 5M395 1034l5 5m0-5l-5 5M395 1077l6 6m0-6l-6 6M395 1127l5 5m0-5l-5 5M395 1075l6 6m0-6l-6 6M396 1191l6 6m0-6l-6 6M397 1072l5 5m0-5l-5 5M397 1195l6 6m0-6l-6 6M397 1130l6 6m0-6l-6 6M398 1161l6 6m0-6l-6 6M398 1216l6 6m0-6l-6 6M398 1143l6 6m0-6l-6 6M399 1130l5 5m0-5l-5 5M399 1234l6 6m0-6l-6 6M400 1173l6 6m0-6l-6 6M401 1224l5 5m0-5l-5 5M401 1181l5 5m0-5l-5 5M401 1131l6 6m0-6l-6 6M401 1126l6 6m0-6l-6 6M402 1266l5 5m0-5l-5 5M402 1136l6 6m0-6l-6 6M403 1185l6 6m0-6l-6 6M403 1182l6 6m0-6l-6 6M404 1224l5 5m0-5l-5 5M404 1243l5 5m0-5l-5 5M405 1183l5 5m0-5l-5 5M405 1205l5 5m0-5l-5 5M406 1095l5 5m0-5l-5 5M406 1087l6 6m0-6l-6 6M406 1201l5 5m0-5l-5 5M407 1200l5 5m0-5l-5 5M407 1163l5 5m0-5l-5 5M408 1201l5 5m0-5l-5 5M408 1208l5 5m0-5l-5 5M408 1174l6 6m0-6l-6 6M409 1181l5 5m0-5l-5 5M409 1233l5 5m0-5l-5 5M409 1157l6 6m0-6l-6 6M410 1195l5 5m0-5l-5 5M410 1161l6 6m0-6l-6 6M411 1092l6 6m0-6l-6 6M412 1214l5 5m0-5l-5 5M412 1144l5 5m0-5l-5 5M412 1202l6 6m0-6l-6 6M412 1212l6 6m0-6l-6 6M413 1210l6 6m0-6l-6 6M414 1058l5 5m0-5l-5 5M414 1218l6 6m0-6l-6 6M414 1161l5 5m0-5l-5 5M415 1194l5 5m0-5l-5 5M415 1152l6 6m0-6l-6 6M416 1088l5 5m0-5l-5 5M416 1194l6 6m0-6l-6 6M417 1290l5 5m0-5l-5 5M416 1116l6 6m0-6l-6 6M417 1091l6 6m0-6l-6 6M418 1135l5 5m0-5l-5 5M418 1104l6 6m0-6l-6 6M419 1090l5 5m0-5l-5 5M419 1134l5 5m0-5l-5 5M419 1212l6 6m0-6l-6 6M419 1219l6 6m0-6l-6 6M420 1105l6 6m0-6l-6 6M420 1252l6 6m0-6l-6 6M421 1209l5 5m0-5l-5 5M421 1195l6 6m0-6l-6 6M422 1130l5 5m0-5l-5 5M422 1197l6 6m0-6l-6 6M423 1207l5 5m0-5l-5 5M423 1163l6 6m0-6l-6 6M423 1184l6 6m0-6l-6 6M424 1125l5 5m0-5l-5 5M424 1126l6 6m0-6l-6 6M425 1196l5 5m0-5l-5 5M425 1173l5 5m0-5l-5 5M425 1191l6 6m0-6l-6 6M426 1167l6 6m0-6l-6 6M427 1104l5 5m0-5l-5 5M427 1177l5 5m0-5l-5 5M427 1099l6 6m0-6l-6 6M427 1276l6 6m0-6l-6 6M428 1098l5 5m0-5l-5 5M429 1139l5 5m0-5l-5 5M429 1266l6 6m0-6l-6 6M429 1172l6 6m0-6l-6 6M430 1298l6 6m0-6l-6 6M430 1063l5 5m0-5l-5 5M430 1070l6 6m0-6l-6 6M431 1138l5 5m0-5l-5 5M431 1231l6 6m0-6l-6 6M432 1162l5 5m0-5l-5 5M432 1262l6 6m0-6l-6 6M433 1125l5 5m0-5l-5 5M433 1130l6 6m0-6l-6 6M434 1117l5 5m0-5l-5 5M434 1272l5 5m0-5l-5 5M434 1223l6 6m0-6l-6 6M435 1164l6 6m0-6l-6 6M436 1186l5 5m0-5l-5 5M435 1189l6 6m0-6l-6 6M436 1140l6 6m0-6l-6 6M437 1172l5 5m0-5l-5 5M437 1213l5 5m0-5l-5 5M438 1079l5 5m0-5l-5 5M438 1251l6 6m0-6l-6 6M438 1255l5 5m0-5l-5 5M439 1070l5 5m0-5l-5 5M439 1158l6 6m0-6l-6 6M440 1106l5 5m0-5l-5 5M440 1152l5 5m0-5l-5 5M440 1173l6 6m0-6l-6 6M441 1244l5 5m0-5l-5 5M441 1108l5 5m0-5l-5 5M442 1106l5 5m0-5l-5 5M442 1133l6 6m0-6l-6 6M442 1210l6 6m0-6l-6 6M443 1084l6 6m0-6l-6 6M444 1123l5 5m0-5l-5 5M443 1175l6 6m0-6l-6 6M444 1132l5 5m0-5l-5 5M445 1170l5 5m0-5l-5 5M445 1168l5 5m0-5l-5 5M446 1208l5 5m0-5l-5 5M446 1106l6 6m0-6l-6 6M446 1226l5 5m0-5l-5 5M447 1195l5 5m0-5l-5 5M447 1182l5 5m0-5l-5 5M447 1178l6 6m0-6l-6 6M448 1158l6 6m0-6l-6 6M449 1158l5 5m0-5l-5 5M449 1105l6 6m0-6l-6 6M449 1168l6 6m0-6l-6 6M449 1169l6 6m0-6l-6 6M450 1204l6 6m0-6l-6 6M451 1187l5 5m0-5l-5 5M451 1183l6 6m0-6l-6 6M451 1201l6 6m0-6l-6 6M452 1190l5 5m0-5l-5 5M452 1118l6 6m0-6l-6 6M453 1113l5 5m0-5l-5 5M453 1208l6 6m0-6l-6 6M453 1030l6 6m0-6l-6 6M454 1108l5 5m0-5l-5 5M454 1182l5 5m0-5l-5 5M455 1269l5 5m0-5l-5 5M455 1161l5 5m0-5l-5 5M455 1159l6 6m0-6l-6 6M456 1152l6 6m0-6l-6 6M457 1167l5 5m0-5l-5 5M457 1140l6 6m0-6l-6 6M457 1055l5 5m0-5l-5 5M457 1059l6 6m0-6l-6 6M458 1162l6 6m0-6l-6 6M459 1181l5 5m0-5l-5 5M459 1202l5 5m0-5l-5 5M459 1099l6 6m0-6l-6 6M460 1174l5 5m0-5l-5 5M460 1150l6 6m0-6l-6 6M460 1193l6 6m0-6l-6 6M461 1184l5 5m0-5l-5 5M461 1180l6 6m0-6l-6 6M462 1170l5 5m0-5l-5 5M462 1178l6 6m0-6l-6 6M463 1213l5 5m0-5l-5 5M463 1154l6 6m0-6l-6 6M463 1221l6 6m0-6l-6 6M464 1096l6 6m0-6l-6 6M465 1176l5 5m0-5l-5 5M465 1209l6 6m0-6l-6 6M465 1193l5 5m0-5l-5 5M465 1103l6 6m0-6l-6 6M466 1099l6 6m0-6l-6 6M466 1258l6 6m0-6l-6 6M467 1199l6 6m0-6l-6 6M467 1268l6 6m0-6l-6 6M468 1132l5 5m0-5l-5 5M468 1182l5 5m0-5l-5 5M469 1171l5 5m0-5l-5 5M469 1133l5 5m0-5l-5 5M470 1107l5 5m0-5l-5 5M470 1248l6 6m0-6l-6 6M470 1195l6 6m0-6l-6 6M470 1195l6 6m0-6l-6 6M471 1214l6 6m0-6l-6 6M471 1117l6 6m0-6l-6 6M472 1196l6 6m0-6l-6 6M473 1177l5 5m0-5l-5 5M473 1098l5 5m0-5l-5 5M473 1183l5 5m0-5l-5 5M474 1117l5 5m0-5l-5 5M474 1110l6 6m0-6l-6 6M475 1099l5 5m0-5l-5 5M475 1172l6 6m0-6l-6 6M475 1081l6 6m0-6l-6 6M475 1218l6 6m0-6l-6 6M476 1152l5 5m0-5l-5 5M477 1322l5 5m0-5l-5 5M477 1154l6 6m0-6l-6 6M478 1202l5 5m0-5l-5 5M478 1137l6 6m0-6l-6 6M479 1138l5 5m0-5l-5 5M479 1137l5 5m0-5l-5 5M479 1138l6 6m0-6l-6 6M479 1204l6 6m0-6l-6 6M480 1136l6 6m0-6l-6 6M481 1190l5 5m0-5l-5 5M481 1185l6 6m0-6l-6 6M481 1108l5 5m0-5l-5 5M481 1236l6 6m0-6l-6 6M482 1100l5 5m0-5l-5 5M482 1109l6 6m0-6l-6 6M483 1205l6 6m0-6l-6 6M484 1144l5 5m0-5l-5 5M484 1041l5 5m0-5l-5 5M484 1051l6 6m0-6l-6 6M484 1151l6 6m0-6l-6 6M485 1284l6 6m0-6l-6 6M485 1124l6 6m0-6l-6 6M486 1246l5 5m0-5l-5 5M487 1086l5 5m0-5l-5 5M486 1216l6 6m0-6l-6 6M487 1091l6 6m0-6l-6 6M488 1131l5 5m0-5l-5 5M488 1167l6 6m0-6l-6 6M488 1221l6 6m0-6l-6 6M489 1226l6 6m0-6l-6 6M489 1163l6 6m0-6l-6 6M490 1233l5 5m0-5l-5 5M490 1092l6 6m0-6l-6 6M491 1185l5 5m0-5l-5 5M491 1145l6 6m0-6l-6 6M491 1219l6 6m0-6l-6 6M492 1183l5 5m0-5l-5 5M492 1182l5 5m0-5l-5 5M492 1111l6 6m0-6l-6 6M493 1177l5 5m0-5l-5 5M494 1111l5 5m0-5l-5 5M494 1214l5 5m0-5l-5 5M495 1154l5 5m0-5l-5 5M495 1227l5 5m0-5l-5 5M495 1111l6 6m0-6l-6 6M495 1252l6 6m0-6l-6 6M496 1088l6 6m0-6l-6 6M496 1180l6 6m0-6l-6 6M497 1179l6 6m0-6l-6 6M497 1193l6 6m0-6l-6 6M497 1165l6 6m0-6l-6 6M498 1199l6 6m0-6l-6 6M498 1193l6 6m0-6l-6 6M499 1037l6 6m0-6l-6 6M500 1228l5 5m0-5l-5 5M500 1158l5 5m0-5l-5 5M500 1215l6 6m0-6l-6 6M500 1180l6 6m0-6l-6 6M501 1171l5 5m0-5l-5 5M501 1169l6 6m0-6l-6 6M502 1254l5 5m0-5l-5 5M503 1126l5 5m0-5l-5 5M502 1188l6 6m0-6l-6 6M503 1225l5 5m0-5l-5 5M504 1038l5 5m0-5l-5 5M504 1172l5 5m0-5l-5 5M504 1170l6 6m0-6l-6 6M505 1258l6 6m0-6l-6 6M505 1123l5 5m0-5l-5 5M506 1212l5 5m0-5l-5 5M506 1157l5 5m0-5l-5 5M506 1073l6 6m0-6l-6 6M507 1275l5 5m0-5l-5 5M508 1147l5 5m0-5l-5 5M508 1106l5 5m0-5l-5 5M508 1220l5 5m0-5l-5 5M509 1121l5 5m0-5l-5 5M509 1154l6 6m0-6l-6 6M509 1202l6 6m0-6l-6 6M510 1204l5 5m0-5l-5 5M511 1124l5 5m0-5l-5 5M511 1143l5 5m0-5l-5 5M511 1181l6 6m0-6l-6 6M511 1189l6 6m0-6l-6 6M512 1257l5 5m0-5l-5 5M512 1160l6 6m0-6l-6 6M513 1220l5 5m0-5l-5 5M513 1128l6 6m0-6l-6 6M514 1153l5 5m0-5l-5 5M514 1088l5 5m0-5l-5 5M514 1282l6 6m0-6l-6 6M515 1096l5 5m0-5l-5 5M515 1173l6 6m0-6l-6 6M516 1151l5 5m0-5l-5 5M516 1240l6 6m0-6l-6 6M517 1188l5 5m0-5l-5 5M517 1131l5 5m0-5l-5 5M517 1309l6 6m0-6l-6 6M518 1266l6 6m0-6l-6 6M518 1231l6 6m0-6l-6 6M518 1176l6 6m0-6l-6 6M519 1187l6 6m0-6l-6 6M519 1190l6 6m0-6l-6 6M520 1167l6 6m0-6l-6 6M521 1173l5 5m0-5l-5 5M521 1113l5 5m0-5l-5 5M521 1109l6 6m0-6l-6 6M522 1147l5 5m0-5l-5 5M522 1193l5 5m0-5l-5 5M523 1190l5 5m0-5l-5 5M523 1204l6 6m0-6l-6 6M524 1215l5 5m0-5l-5 5M524 1134l5 5m0-5l-5 5M524 1155l5 5m0-5l-5 5M524 1143l6 6m0-6l-6 6M525 1090l6 6m0-6l-6 6M525 1202l6 6m0-6l-6 6M526 1102l5 5m0-5l-5 5M527 1137l5 5m0-5l-5 5M526 1165l6 6m0-6l-6 6M527 1122l5 5m0-5l-5 5M527 1125l6 6m0-6l-6 6M528 1201l6 6m0-6l-6 6M528 1191l6 6m0-6l-6 6M529 1157l5 5m0-5l-5 5M529 1155l6 6m0-6l-6 6M529 1157l6 6m0-6l-6 6M530 1180l6 6m0-6l-6 6M530 1123l6 6m0-6l-6 6M531 1145l5 5m0-5l-5 5M531 1026l6 6m0-6l-6 6M532 1139l5 5m0-5l-5 5M532 1213l6 6m0-6l-6 6M533 1120l5 5m0-5l-5 5M533 1155l6 6m0-6l-6 6M533 1217l6 6m0-6l-6 6M534 1101l6 6m0-6l-6 6M535 1156l5 5m0-5l-5 5M534 1151l6 6m0-6l-6 6M535 1241l5 5m0-5l-5 5M535 1244l6 6m0-6l-6 6M536 1194l6 6m0-6l-6 6M537 1180l5 5m0-5l-5 5M537 1155l5 5m0-5l-5 5M537 1157l5 5m0-5l-5 5M538 1096l5 5m0-5l-5 5M538 1165l5 5m0-5l-5 5M538 1221l6 6m0-6l-6 6M539 1202l6 6m0-6l-6 6M539 1156l6 6m0-6l-6 6M540 1162l5 5m0-5l-5 5M540 1229l6 6m0-6l-6 6M541 1268l5 5m0-5l-5 5M541 1223l6 6m0-6l-6 6M541 1140l6 6m0-6l-6 6M542 1190l6 6m0-6l-6 6M542 1206l6 6m0-6l-6 6M543 1187l5 5m0-5l-5 5M543 1100l5 5m0-5l-5 5M543 1179l6 6m0-6l-6 6M544 1127l5 5m0-5l-5 5M544 1141l6 6m0-6l-6 6M545 1129l6 6m0-6l-6 6M545 1088l6 6m0-6l-6 6M545 1164l6 6m0-6l-6 6M546 1099l5 5m0-5l-5 5M546 1154l6 6m0-6l-6 6M547 1158l5 5m0-5l-5 5M547 1129l6 6m0-6l-6 6M548 1269l5 5m0-5l-5 5M548 1110l6 6m0-6l-6 6M549 1157l5 5m0-5l-5 5M549 1143l5 5m0-5l-5 5M550 1143l5 5m0-5l-5 5M550 1205l5 5m0-5l-5 5M551 1102l5 5m0-5l-5 5M551 1177l5 5m0-5l-5 5M551 1188l5 5m0-5l-5 5M552 1169l5 5m0-5l-5 5M552 1178l5 5m0-5l-5 5M553 1170l5 5m0-5l-5 5M553 1093l6 6m0-6l-6 6M554 1122l5 5m0-5l-5 5M553 1159l6 6m0-6l-6 6M554 1182l5 5m0-5l-5 5M554 1120l6 6m0-6l-6 6M555 1094l5 5m0-5l-5 5M555 1150l6 6m0-6l-6 6M556 1233l6 6m0-6l-6 6M556 1088l5 5m0-5l-5 5M556 1144l6 6m0-6l-6 6M557 1130l5 5m0-5l-5 5M558 1126l5 5m0-5l-5 5M558 1165l6 6m0-6l-6 6M559 1066l5 5m0-5l-5 5M558 1180l6 6m0-6l-6 6M559 1202l6 6m0-6l-6 6M560 1128l5 5m0-5l-5 5M560 1142l6 6m0-6l-6 6M560 1089l6 6m0-6l-6 6M561 1168l6 6m0-6l-6 6M562 1163l5 5m0-5l-5 5M562 1146l5 5m0-5l-5 5M562 1189l6 6m0-6l-6 6M563 1165l5 5m0-5l-5 5M563 1187l6 6m0-6l-6 6M564 1031l5 5m0-5l-5 5M564 1218l6 6m0-6l-6 6M564 1171l6 6m0-6l-6 6M565 1117l5 5m0-5l-5 5M565 1181l6 6m0-6l-6 6M565 1183l6 6m0-6l-6 6M566 1115l6 6m0-6l-6 6M567 1105l5 5m0-5l-5 5M566 1104l6 6m0-6l-6 6M567 1075l5 5m0-5l-5 5M567 1168l6 6m0-6l-6 6M568 1210l5 5m0-5l-5 5M569 1173l5 5m0-5l-5 5M569 1090l6 6m0-6l-6 6M569 1112l6 6m0-6l-6 6M569 1190l6 6m0-6l-6 6M570 1128l6 6m0-6l-6 6M571 1154l5 5m0-5l-5 5M571 1191l5 5m0-5l-5 5M571 1118l6 6m0-6l-6 6M572 1199l5 5m0-5l-5 5M572 1241l5 5m0-5l-5 5M572 1111l6 6m0-6l-6 6M573 1142l6 6m0-6l-6 6M573 1183l6 6m0-6l-6 6M574 1103l5 5m0-5l-5 5M574 1097l6 6m0-6l-6 6M575 1180l6 6m0-6l-6 6M575 1122l5 5m0-5l-5 5M576 1130l5 5m0-5l-5 5M576 1104l6 6m0-6l-6 6M576 1149l6 6m0-6l-6 6M577 1240l6 6m0-6l-6 6M578 1074l5 5m0-5l-5 5M578 1188l5 5m0-5l-5 5M578 1163l6 6m0-6l-6 6M578 1219l6 6m0-6l-6 6M579 1243l6 6m0-6l-6 6M579 1266l6 6m0-6l-6 6M580 1108l5 5m0-5l-5 5M580 1161l5 5m0-5l-5 5M581 1155l5 5m0-5l-5 5M581 1232l5 5m0-5l-5 5M581 1179l6 6m0-6l-6 6M582 1204l6 6m0-6l-6 6M582 1178l6 6m0-6l-6 6M583 1158l5 5m0-5l-5 5M583 1147l5 5m0-5l-5 5M584 1099l5 5m0-5l-5 5M584 1115l6 6m0-6l-6 6M585 1101l5 5m0-5l-5 5M585 1216l5 5m0-5l-5 5M586 1160l5 5m0-5l-5 5M586 1195l5 5m0-5l-5 5M586 1184l5 5m0-5l-5 5M586 1098l6 6m0-6l-6 6M587 1187l5 5m0-5l-5 5M587 1170l6 6m0-6l-6 6M588 1171l5 5m0-5l-5 5M588 1162l5 5m0-5l-5 5M589 1165l5 5m0-5l-5 5M589 1140l5 5m0-5l-5 5M590 1099l5 5m0-5l-5 5M590 1078l6 6m0-6l-6 6M590 1223l6 6m0-6l-6 6M591 1157l6 6m0-6l-6 6M591 1218l5 5m0-5l-5 5M592 1165l5 5m0-5l-5 5M592 1174l5 5m0-5l-5 5M592 1121l6 6m0-6l-6 6M593 1202l5 5m0-5l-5 5M594 1151l5 5m0-5l-5 5M593 1272l6 6m0-6l-6 6M594 1229l6 6m0-6l-6 6M595 1095l5 5m0-5l-5 5M595 1123l6 6m0-6l-6 6M596 1214l5 5m0-5l-5 5M596 1111l6 6m0-6l-6 6M596 1098l6 6m0-6l-6 6M596 1107l6 6m0-6l-6 6M597 1107l5 5m0-5l-5 5M598 1153l5 5m0-5l-5 5M598 1196l5 5m0-5l-5 5M598 1068l6 6m0-6l-6 6M599 1126l6 6m0-6l-6 6M599 1109l6 6m0-6l-6 6M599 1095l6 6m0-6l-6 6M600 1166l6 6m0-6l-6 6M601 1101l5 5m0-5l-5 5M601 1170l5 5m0-5l-5 5M601 1155l6 6m0-6l-6 6M602 1126l5 5m0-5l-5 5M602 1186l5 5m0-5l-5 5M602 1186l6 6m0-6l-6 6M603 1079l6 6m0-6l-6 6M604 1172l5 5m0-5l-5 5M604 1257l6 6m0-6l-6 6M604 1087l6 6m0-6l-6 6M604 1200l6 6m0-6l-6 6M605 1129l5 5m0-5l-5 5M606 1189l5 5m0-5l-5 5M606 1238l6 6m0-6l-6 6M607 1150l5 5m0-5l-5 5M607 1046l6 6m0-6l-6 6M607 1200l6 6m0-6l-6 6M607 1200l6 6m0-6l-6 6M608 1119l6 6m0-6l-6 6M608 1125l6 6m0-6l-6 6M609 1234l6 6m0-6l-6 6M610 1062l5 5m0-5l-5 5M609 1091l6 6m0-6l-6 6M610 1181l6 6m0-6l-6 6M611 1192l5 5m0-5l-5 5M611 1136l5 5m0-5l-5 5M611 1079l6 6m0-6l-6 6M612 1193l5 5m0-5l-5 5M613 1115l5 5m0-5l-5 5M612 1214l6 6m0-6l-6 6M613 1112l6 6m0-6l-6 6M613 1160l6 6m0-6l-6 6M614 1187l6 6m0-6l-6 6M615 1187l5 5m0-5l-5 5M615 1108l6 6m0-6l-6 6M615 1201l6 6m0-6l-6 6M615 1174l6 6m0-6l-6 6M616 1044l5 5m0-5l-5 5M617 1180l5 5m0-5l-5 5M617 1203l6 6m0-6l-6 6M617 1260l6 6m0-6l-6 6M618 1222l5 5m0-5l-5 5M618 1110l6 6m0-6l-6 6M618 1178l6 6m0-6l-6 6M619 1092l6 6m0-6l-6 6M619 1107l6 6m0-6l-6 6M620 1137l5 5m0-5l-5 5M620 1172l6 6m0-6l-6 6M621 1236l5 5m0-5l-5 5M621 1145l5 5m0-5l-5 5M622 1213l5 5m0-5l-5 5M622 1252l6 6m0-6l-6 6M622 1145l6 6m0-6l-6 6M623 1107l5 5m0-5l-5 5M623 1106l6 6m0-6l-6 6M623 1230l6 6m0-6l-6 6M624 1128l5 5m0-5l-5 5M625 1119l5 5m0-5l-5 5M625 1189l6 6m0-6l-6 6M626 1228l5 5m0-5l-5 5M626 1164l5 5m0-5l-5 5M626 1213l6 6m0-6l-6 6M626 1247l6 6m0-6l-6 6M627 1108l6 6m0-6l-6 6M628 1263l5 5m0-5l-5 5M628 1105l5 5m0-5l-5 5M628 1194l6 6m0-6l-6 6M629 1181l5 5m0-5l-5 5M629 1175l6 6m0-6l-6 6M629 1239l6 6m0-6l-6 6M630 1242l6 6m0-6l-6 6M631 1232l5 5m0-5l-5 5M631 1183l6 6m0-6l-6 6M631 1213l5 5m0-5l-5 5M632 1129l5 5m0-5l-5 5M632 1173l5 5m0-5l-5 5M632 1244l6 6m0-6l-6 6M633 1205l6 6m0-6l-6 6M634 1184l5 5m0-5l-5 5M634 1219l5 5m0-5l-5 5M634 1150l5 5m0-5l-5 5M634 1106l6 6m0-6l-6 6M635 1151l5 5m0-5l-5 5M635 1156l6 6m0-6l-6 6M636 1205l5 5m0-5l-5 5M636 1145l6 6m0-6l-6 6M637 1144l5 5m0-5l-5 5M637 1136l5 5m0-5l-5 5M637 1164l6 6m0-6l-6 6M638 1121l5 5m0-5l-5 5M639 1125l5 5m0-5l-5 5M639 1153l5 5m0-5l-5 5M639 1246l6 6m0-6l-6 6M639 1155l6 6m0-6l-6 6M640 1144l6 6m0-6l-6 6M640 1145l6 6m0-6l-6 6M641 1105l6 6m0-6l-6 6M641 1022l6 6m0-6l-6 6M642 1133l6 6m0-6l-6 6M642 1179l5 5m0-5l-5 5M643 1220l5 5m0-5l-5 5M643 1082l6 6m0-6l-6 6M643 1190l6 6m0-6l-6 6M644 1226l5 5m0-5l-5 5M644 1254l6 6m0-6l-6 6M645 1127l5 5m0-5l-5 5M645 1205l6 6m0-6l-6 6M646 1158l5 5m0-5l-5 5M646 1168l5 5m0-5l-5 5M646 1115l6 6m0-6l-6 6M647 1229l5 5m0-5l-5 5M647 1121l6 6m0-6l-6 6M647 1241l6 6m0-6l-6 6M648 1202l5 5m0-5l-5 5M649 1142l5 5m0-5l-5 5M649 1296l6 6m0-6l-6 6M649 1228l6 6m0-6l-6 6M650 1081l5 5m0-5l-5 5M650 1176l6 6m0-6l-6 6M651 1210l5 5m0-5l-5 5M651 1128l6 6m0-6l-6 6M651 1205l6 6m0-6l-6 6M652 1194l6 6m0-6l-6 6M652 1155l6 6m0-6l-6 6M653 1184l5 5m0-5l-5 5M653 1188l5 5m0-5l-5 5M653 1129l6 6m0-6l-6 6M654 1138l6 6m0-6l-6 6M655 1107l5 5m0-5l-5 5M655 1206l5 5m0-5l-5 5M655 1263l5 5m0-5l-5 5M656 1147l5 5m0-5l-5 5M656 1169l5 5m0-5l-5 5M657 1093l5 5m0-5l-5 5M657 1151l6 6m0-6l-6 6M658 1190l5 5m0-5l-5 5M658 1150l6 6m0-6l-6 6M658 1167l6 6m0-6l-6 6M659 1167l5 5m0-5l-5 5M659 1168l6 6m0-6l-6 6M660 1166l5 5m0-5l-5 5M660 1088l5 5m0-5l-5 5M661 1081l5 5m0-5l-5 5M661 1140l5 5m0-5l-5 5M661 1166l5 5m0-5l-5 5M661 1131l6 6m0-6l-6 6M662 1198l5 5m0-5l-5 5M663 1174l5 5m0-5l-5 5M663 1139l5 5m0-5l-5 5M663 1147l6 6m0-6l-6 6M663 1133l6 6m0-6l-6 6M664 1138l5 5m0-5l-5 5M665 1193l5 5m0-5l-5 5M665 1216l6 6m0-6l-6 6M666 1060l5 5m0-5l-5 5M666 1027l5 5m0-5l-5 5M666 1132l6 6m0-6l-6 6M666 1173l6 6m0-6l-6 6M667 1151l5 5m0-5l-5 5M667 1185l6 6m0-6l-6 6M668 1158l6 6m0-6l-6 6M668 1177l6 6m0-6l-6 6M669 1176l5 5m0-5l-5 5M669 1230l6 6m0-6l-6 6M670 1170l5 5m0-5l-5 5M670 1190l5 5m0-5l-5 5M670 1180l6 6m0-6l-6 6M671 1104l6 6m0-6l-6 6M671 1155l6 6m0-6l-6 6M671 1107l6 6m0-6l-6 6M672 1186l5 5m0-5l-5 5M673 1198l5 5m0-5l-5 5M673 1144l5 5m0-5l-5 5M673 1223l6 6m0-6l-6 6M674 1150l5 5m0-5l-5 5M674 1198l5 5m0-5l-5 5M674 1019l6 6m0-6l-6 6M675 1123l6 6m0-6l-6 6M676 1305l5 5m0-5l-5 5M676 1167l6 6m0-6l-6 6M676 1098l6 6m0-6l-6 6M677 1169l5 5m0-5l-5 5M677 1142l5 5m0-5l-5 5M678 1092l5 5m0-5l-5 5M678 1079l6 6m0-6l-6 6M679 1112l5 5m0-5l-5 5M679 1117l6 6m0-6l-6 6M680 1128l5 5m0-5l-5 5M680 1216l5 5m0-5l-5 5M680 1139l6 6m0-6l-6 6M681 1129l5 5m0-5l-5 5M681 1265l5 5m0-5l-5 5M681 1117l6 6m0-6l-6 6M682 1113l6 6m0-6l-6 6M682 1188l6 6m0-6l-6 6M683 1136l5 5m0-5l-5 5M683 1136l5 5m0-5l-5 5M684 1152l5 5m0-5l-5 5M684 1138l6 6m0-6l-6 6M685 1203l5 5m0-5l-5 5M684 1149l6 6m0-6l-6 6M685 1112l5 5m0-5l-5 5M685 1240l6 6m0-6l-6 6M686 1124l5 5m0-5l-5 5M686 1254l6 6m0-6l-6 6M687 1091l6 6m0-6l-6 6M688 1116l5 5m0-5l-5 5M687 1180l6 6m0-6l-6 6M688 1142l5 5m0-5l-5 5M688 1181l6 6m0-6l-6 6M689 1203l5 5m0-5l-5 5M690 1179l5 5m0-5l-5 5M690 1149l6 6m0-6l-6 6M690 1201l6 6m0-6l-6 6M691 1184l5 5m0-5l-5 5M691 1198l6 6m0-6l-6 6M692 1185l5 5m0-5l-5 5M692 1223l6 6m0-6l-6 6M693 1214l5 5m0-5l-5 5M692 1114l6 6m0-6l-6 6M693 1088l5 5m0-5l-5 5M693 1200l6 6m0-6l-6 6M694 1169l5 5m0-5l-5 5M695 1174l5 5m0-5l-5 5M695 1215l5 5m0-5l-5 5M696 1181l5 5m0-5l-5 5M696 1265l5 5m0-5l-5 5M696 1123l6 6m0-6l-6 6M696 1186l6 6m0-6l-6 6M697 1166l6 6m0-6l-6 6M697 1130l6 6m0-6l-6 6M698 1165l5 5m0-5l-5 5M698 1149l5 5m0-5l-5 5M699 1192l5 5m0-5l-5 5M699 1264l6 6m0-6l-6 6M699 1139l6 6m0-6l-6 6M700 1126l5 5m0-5l-5 5M700 1215l6 6m0-6l-6 6M701 1105l5 5m0-5l-5 5M701 1255l5 5m0-5l-5 5M702 1130l5 5m0-5l-5 5M702 1256l5 5m0-5l-5 5M702 1193l6 6m0-6l-6 6M703 1216l5 5m0-5l-5 5M703 1137l6 6m0-6l-6 6M704 1162l5 5m0-5l-5 5M704 1074l5 5m0-5l-5 5M705 1167l5 5m0-5l-5 5M705 1085l5 5m0-5l-5 5M705 1099l6 6m0-6l-6 6M706 1131l6 6m0-6l-6 6M706 1151l5 5m0-5l-5 5M707 1261l5 5m0-5l-5 5M707 1153l5 5m0-5l-5 5M707 1090l6 6m0-6l-6 6M708 1234l6 6m0-6l-6 6M708 1210l6 6m0-6l-6 6M709 1236l5 5m0-5l-5 5M709 1162l5 5m0-5l-5 5M709 1036l6 6m0-6l-6 6M710 1045l5 5m0-5l-5 5M711 1201l5 5m0-5l-5 5M711 1220l6 6m0-6l-6 6M711 1264l6 6m0-6l-6 6M712 1171l5 5m0-5l-5 5M712 1169l6 6m0-6l-6 6M712 1160l6 6m0-6l-6 6M713 1113l6 6m0-6l-6 6M713 1077l6 6m0-6l-6 6M714 1171l6 6m0-6l-6 6M714 1147l5 5m0-5l-5 5M715 1214l5 5m0-5l-5 5M715 1156l5 5m0-5l-5 5M715 1141l6 6m0-6l-6 6M716 1106l5 5m0-5l-5 5M716 1080l6 6m0-6l-6 6M717 1163l6 6m0-6l-6 6M717 1095l5 5m0-5l-5 5M718 1150l5 5m0-5l-5 5M718 1162l5 5m0-5l-5 5M718 1184l6 6m0-6l-6 6M719 1052l6 6m0-6l-6 6M719 1096l6 6m0-6l-6 6M720 1072l5 5m0-5l-5 5M720 1116l5 5m0-5l-5 5M721 1109l5 5m0-5l-5 5M721 1143l5 5m0-5l-5 5M721 1097l6 6m0-6l-6 6M722 1108l5 5m0-5l-5 5M722 1157l5 5m0-5l-5 5M723 1108l5 5m0-5l-5 5M723 1220l6 6m0-6l-6 6M723 1126l6 6m0-6l-6 6M724 1125l5 5m0-5l-5 5M724 1142l6 6m0-6l-6 6M725 1079l6 6m0-6l-6 6M725 1132l5 5m0-5l-5 5M726 1150l5 5m0-5l-5 5M726 1137l6 6m0-6l-6 6M726 1141l6 6m0-6l-6 6M727 1180l5 5m0-5l-5 5M728 1165l5 5m0-5l-5 5M728 1131l5 5m0-5l-5 5M728 1155l6 6m0-6l-6 6M728 1087l6 6m0-6l-6 6M729 1203l5 5m0-5l-5 5M730 1186l5 5m0-5l-5 5M730 1155l6 6m0-6l-6 6M730 1133l6 6m0-6l-6 6M730 1199l6 6m0-6l-6 6M731 1092l6 6m0-6l-6 6M732 1230l5 5m0-5l-5 5M732 1091l6 6m0-6l-6 6M732 1188l6 6m0-6l-6 6M733 1176l5 5m0-5l-5 5M733 1178l5 5m0-5l-5 5M733 1195l6 6m0-6l-6 6M734 1156l5 5m0-5l-5 5M734 1163l6 6m0-6l-6 6M735 1198l6 6m0-6l-6 6M736 1182l5 5m0-5l-5 5M736 1225l5 5m0-5l-5 5M736 1140l5 5m0-5l-5 5M736 1151l6 6m0-6l-6 6M737 1077l6 6m0-6l-6 6M737 1171l6 6m0-6l-6 6M738 1129l6 6m0-6l-6 6M738 1141l6 6m0-6l-6 6M738 1228l6 6m0-6l-6 6M739 1122l6 6m0-6l-6 6M740 1152l5 5m0-5l-5 5M740 1197l5 5m0-5l-5 5M740 1164l6 6m0-6l-6 6M741 1082l6 6m0-6l-6 6M741 1200l5 5m0-5l-5 5M742 1131l5 5m0-5l-5 5M742 1192l5 5m0-5l-5 5M742 1173l6 6m0-6l-6 6M743 1145l6 6m0-6l-6 6M743 1161l6 6m0-6l-6 6M743 1067l6 6m0-6l-6 6M744 1246l5 5m0-5l-5 5M745 1161l5 5m0-5l-5 5M745 1186l6 6m0-6l-6 6M746 1079l5 5m0-5l-5 5M746 1161l5 5m0-5l-5 5M746 1200l6 6m0-6l-6 6M746 1162l6 6m0-6l-6 6M747 1169l6 6m0-6l-6 6M748 1181l5 5m0-5l-5 5M748 1216l6 6m0-6l-6 6M749 1113l5 5m0-5l-5 5M749 1153l5 5m0-5l-5 5M749 1164l6 6m0-6l-6 6M750 1154l5 5m0-5l-5 5M750 1099l5 5m0-5l-5 5M750 1147l6 6m0-6l-6 6M751 1173l5 5m0-5l-5 5M752 1131l5 5m0-5l-5 5M751 1177l6 6m0-6l-6 6M752 1190l5 5m0-5l-5 5M752 1129l6 6m0-6l-6 6M753 1116l6 6m0-6l-6 6M753 1141l6 6m0-6l-6 6M754 1322l5 5m0-5l-5 5M754 1125l6 6m0-6l-6 6M754 1147l6 6m0-6l-6 6M755 1169l5 5m0-5l-5 5M756 1150l5 5m0-5l-5 5M756 1120l5 5m0-5l-5 5M757 1169l5 5m0-5l-5 5M757 1157l6 6m0-6l-6 6M757 1143l6 6m0-6l-6 6M758 1173l5 5m0-5l-5 5M758 1180l6 6m0-6l-6 6M758 1161l6 6m0-6l-6 6M759 1153l5 5m0-5l-5 5M760 1142l5 5m0-5l-5 5M760 1186l5 5m0-5l-5 5M760 1205l6 6m0-6l-6 6M761 1182l5 5m0-5l-5 5M761 1098l6 6m0-6l-6 6M761 1219l6 6m0-6l-6 6M762 1045l6 6m0-6l-6 6M762 1091l6 6m0-6l-6 6M763 1078l5 5m0-5l-5 5M763 1146l5 5m0-5l-5 5M764 1182l5 5m0-5l-5 5M764 1117l5 5m0-5l-5 5M764 1169l6 6m0-6l-6 6M765 1137l6 6m0-6l-6 6M765 1164l6 6m0-6l-6 6M766 1122l5 5m0-5l-5 5M766 1203l5 5m0-5l-5 5M766 1149l6 6m0-6l-6 6M767 1199l6 6m0-6l-6 6M767 1149l6 6m0-6l-6 6M768 1173l6 6m0-6l-6 6M768 1038l6 6m0-6l-6 6M768 1104l6 6m0-6l-6 6M769 1206l5 5m0-5l-5 5M769 1163l6 6m0-6l-6 6M770 1127l6 6m0-6l-6 6M771 1167l5 5m0-5l-5 5M771 1130l5 5m0-5l-5 5M771 1223l5 5m0-5l-5 5M772 1271l5 5m0-5l-5 5M772 1161l5 5m0-5l-5 5M772 1195l6 6m0-6l-6 6M773 1204l5 5m0-5l-5 5M773 1139l6 6m0-6l-6 6M773 1192l6 6m0-6l-6 6M774 1213l6 6m0-6l-6 6M774 1139l6 6m0-6l-6 6M775 1122l5 5m0-5l-5 5M775 1095l6 6m0-6l-6 6M776 1256l6 6m0-6l-6 6M776 1147l6 6m0-6l-6 6M777 1146l5 5m0-5l-5 5M777 1098l5 5m0-5l-5 5M778 1228l5 5m0-5l-5 5M778 1128l5 5m0-5l-5 5M778 1168l6 6m0-6l-6 6M779 1175l5 5m0-5l-5 5M779 1210l6 6m0-6l-6 6M779 1105l6 6m0-6l-6 6M780 1187l6 6m0-6l-6 6M781 1153l5 5m0-5l-5 5M781 1169l5 5m0-5l-5 5M781 1169l5 5m0-5l-5 5M782 1099l5 5m0-5l-5 5M782 1194l5 5m0-5l-5 5M782 1157l6 6m0-6l-6 6M783 1155l6 6m0-6l-6 6M784 1118l5 5m0-5l-5 5M784 1160l5 5m0-5l-5 5M784 1190l5 5m0-5l-5 5M785 1176l5 5m0-5l-5 5M785 1148l5 5m0-5l-5 5M786 1163l5 5m0-5l-5 5M786 1172l6 6m0-6l-6 6M786 1269l6 6m0-6l-6 6M787 1075l5 5m0-5l-5 5M787 1233l5 5m0-5l-5 5M788 1205l5 5m0-5l-5 5M788 1201l5 5m0-5l-5 5M788 1234l6 6m0-6l-6 6M789 1242l6 6m0-6l-6 6M790 1199l5 5m0-5l-5 5M789 1140l6 6m0-6l-6 6M790 1129l6 6m0-6l-6 6M791 1104l5 5m0-5l-5 5M791 1199l6 6m0-6l-6 6M792 1241l5 5m0-5l-5 5M792 1168l6 6m0-6l-6 6M792 1167l5 5m0-5l-5 5M793 1191l5 5m0-5l-5 5M793 1214l6 6m0-6l-6 6M793 1255l6 6m0-6l-6 6M794 1157l6 6m0-6l-6 6M795 1170l5 5m0-5l-5 5M795 1211l5 5m0-5l-5 5M795 1213l5 5m0-5l-5 5M795 1084l6 6m0-6l-6 6M796 1123l6 6m0-6l-6 6M796 1150l6 6m0-6l-6 6M797 1128l5 5m0-5l-5 5M797 1137l6 6m0-6l-6 6M798 1147l5 5m0-5l-5 5M798 1142l5 5m0-5l-5 5M799 1129l5 5m0-5l-5 5M799 1249l6 6m0-6l-6 6M800 1187l5 5m0-5l-5 5M800 1200l6 6m0-6l-6 6M800 1160l5 5m0-5l-5 5M800 1239l6 6m0-6l-6 6M801 1209l6 6m0-6l-6 6M801 1152l6 6m0-6l-6 6M802 1186l5 5m0-5l-5 5M803 1076l5 5m0-5l-5 5M802 1181l6 6m0-6l-6 6M803 1222l5 5m0-5l-5 5M804 1187l5 5m0-5l-5 5M804 1178l6 6m0-6l-6 6M804 1164l6 6m0-6l-6 6M805 1171l5 5m0-5l-5 5M806 1212l5 5m0-5l-5 5M806 1148l5 5m0-5l-5 5M806 1180l5 5m0-5l-5 5M806 1061l6 6m0-6l-6 6M807 1150l6 6m0-6l-6 6M807 1153l6 6m0-6l-6 6M808 1094l6 6m0-6l-6 6M808 1084l5 5m0-5l-5 5M809 1177l5 5m0-5l-5 5M809 1251l6 6m0-6l-6 6M810 1107l5 5m0-5l-5 5M810 1158l6 6m0-6l-6 6M810 1141l6 6m0-6l-6 6M810 1094l6 6m0-6l-6 6M811 1213l5 5m0-5l-5 5M812 1251l5 5m0-5l-5 5M812 1264l6 6m0-6l-6 6M812 1243l6 6m0-6l-6 6M813 1096l5 5m0-5l-5 5M813 1080l6 6m0-6l-6 6M814 1178l5 5m0-5l-5 5M814 1144l5 5m0-5l-5 5M814 1125l6 6m0-6l-6 6M815 1173l5 5m0-5l-5 5M815 1199l6 6m0-6l-6 6M816 1162l6 6m0-6l-6 6M816 1179l6 6m0-6l-6 6M817 1216l5 5m0-5l-5 5M817 1116l5 5m0-5l-5 5M817 1134l6 6m0-6l-6 6M818 1169l6 6m0-6l-6 6M818 1097l6 6m0-6l-6 6M819 1183l5 5m0-5l-5 5M819 1215l6 6m0-6l-6 6M819 1273l6 6m0-6l-6 6M820 1280l6 6m0-6l-6 6M821 1178l5 5m0-5l-5 5M821 1193l5 5m0-5l-5 5M822 1217l5 5m0-5l-5 5M822 1155l5 5m0-5l-5 5M822 1276l6 6m0-6l-6 6M823 1118l5 5m0-5l-5 5M823 1188l5 5m0-5l-5 5M823 1230l6 6m0-6l-6 6M824 1189l6 6m0-6l-6 6M824 1250l6 6m0-6l-6 6M825 1090l5 5m0-5l-5 5M825 1152l5 5m0-5l-5 5M826 1188l5 5m0-5l-5 5M826 1095l6 6m0-6l-6 6M827 1186l5 5m0-5l-5 5M827 1114l6 6m0-6l-6 6M827 1144l6 6m0-6l-6 6M828 1134l5 5m0-5l-5 5M828 1234l6 6m0-6l-6 6M829 1155l5 5m0-5l-5 5M829 1218l5 5m0-5l-5 5M829 1104l6 6m0-6l-6 6M830 1165l5 5m0-5l-5 5M830 1159l5 5m0-5l-5 5M830 1159l6 6m0-6l-6 6M831 1193l6 6m0-6l-6 6M831 1216l6 6m0-6l-6 6M832 1271l5 5m0-5l-5 5M832 1215l5 5m0-5l-5 5M833 1198l5 5m0-5l-5 5M833 1162l5 5m0-5l-5 5M834 1089l5 5m0-5l-5 5M834 1166l6 6m0-6l-6 6M835 1275l5 5m0-5l-5 5M835 1186l5 5m0-5l-5 5M835 1104l5 5m0-5l-5 5M836 1184l5 5m0-5l-5 5M836 1209l5 5m0-5l-5 5M836 1173l6 6m0-6l-6 6M837 1030l5 5m0-5l-5 5M837 1077l6 6m0-6l-6 6M837 1206l6 6m0-6l-6 6M838 1215l5 5m0-5l-5 5M839 1184l5 5m0-5l-5 5M839 1047l6 6m0-6l-6 6M839 1145l6 6m0-6l-6 6M840 1160l6 6m0-6l-6 6M840 1149l6 6m0-6l-6 6M840 1182l6 6m0-6l-6 6M841 1144l5 5m0-5l-5 5M841 1090l6 6m0-6l-6 6M842 1160l5 5m0-5l-5 5M843 1077l5 5m0-5l-5 5M843 1224l6 6m0-6l-6 6M843 1230l6 6m0-6l-6 6M843 1127l6 6m0-6l-6 6M844 1221l6 6m0-6l-6 6M845 1163l5 5m0-5l-5 5M845 1116l6 6m0-6l-6 6M845 1063l6 6m0-6l-6 6M846 1222l5 5m0-5l-5 5M846 1141l6 6m0-6l-6 6M846 1219l6 6m0-6l-6 6M847 1162l5 5m0-5l-5 5M847 1073l6 6m0-6l-6 6M848 1241l6 6m0-6l-6 6M848 1264l6 6m0-6l-6 6M849 1127l5 5m0-5l-5 5M849 1171l5 5m0-5l-5 5M850 1185l5 5m0-5l-5 5M850 1161l6 6m0-6l-6 6M850 1243l6 6m0-6l-6 6M851 1090l5 5m0-5l-5 5M851 1116l5 5m0-5l-5 5M851 1122l6 6m0-6l-6 6M852 1124l6 6m0-6l-6 6M852 1144l6 6m0-6l-6 6M853 1183l5 5m0-5l-5 5M853 1127l6 6m0-6l-6 6M853 1200l6 6m0-6l-6 6M854 1128l6 6m0-6l-6 6M854 1195l6 6m0-6l-6 6M855 1047l5 5m0-5l-5 5M855 1217l6 6m0-6l-6 6M856 1187l6 6m0-6l-6 6M857 1143l5 5m0-5l-5 5M856 1218l6 6m0-6l-6 6M857 1204l6 6m0-6l-6 6M858 1270l5 5m0-5l-5 5M858 1170l5 5m0-5l-5 5M858 1264l6 6m0-6l-6 6M859 1115l5 5m0-5l-5 5M859 1099l6 6m0-6l-6 6M859 1217l6 6m0-6l-6 6M860 1143l5 5m0-5l-5 5M860 1138l6 6m0-6l-6 6M861 1151l6 6m0-6l-6 6M861 1189l6 6m0-6l-6 6M862 1109l5 5m0-5l-5 5M862 1086l6 6m0-6l-6 6M863 1213l5 5m0-5l-5 5M863 1162l5 5m0-5l-5 5M863 1125l6 6m0-6l-6 6M864 1086l6 6m0-6l-6 6M865 1108l5 5m0-5l-5 5M864 1251l6 6m0-6l-6 6M865 1133l6 6m0-6l-6 6M866 1125l5 5m0-5l-5 5M866 1175l5 5m0-5l-5 5M866 1071l6 6m0-6l-6 6M867 1220l6 6m0-6l-6 6M867 1115l6 6m0-6l-6 6M867 1206l6 6m0-6l-6 6M868 1246l5 5m0-5l-5 5M869 1090l5 5m0-5l-5 5M869 1178l5 5m0-5l-5 5M869 1207l6 6m0-6l-6 6M870 1106l5 5m0-5l-5 5M870 1190l6 6m0-6l-6 6M870 1123l6 6m0-6l-6 6M871 1187l6 6m0-6l-6 6M872 1051l5 5m0-5l-5 5M872 1151l5 5m0-5l-5 5M872 1167l6 6m0-6l-6 6M873 1218l5 5m0-5l-5 5M873 1184l6 6m0-6l-6 6M873 1108l6 6m0-6l-6 6M874 1225l5 5m0-5l-5 5M875 1089l5 5m0-5l-5 5M875 1223l5 5m0-5l-5 5M875 1193l6 6m0-6l-6 6M875 1190l6 6m0-6l-6 6M876 1130l6 6m0-6l-6 6M877 1226l5 5m0-5l-5 5M877 1216l6 6m0-6l-6 6M877 1276l6 6m0-6l-6 6M878 1117l5 5m0-5l-5 5M878 1124l6 6m0-6l-6 6M879 1163l5 5m0-5l-5 5M879 1215l5 5m0-5l-5 5M880 1130l5 5m0-5l-5 5M880 1144l6 6m0-6l-6 6M881 1058l5 5m0-5l-5 5M881 1153l5 5m0-5l-5 5M881 1211l5 5m0-5l-5 5M881 1145l6 6m0-6l-6 6M882 1155l5 5m0-5l-5 5M883 1233l5 5m0-5l-5 5M883 1110l6 6m0-6l-6 6M883 1161l5 5m0-5l-5 5M883 1106l6 6m0-6l-6 6M884 1177l6 6m0-6l-6 6M884 1199l6 6m0-6l-6 6M885 1116l6 6m0-6l-6 6M886 1165l5 5m0-5l-5 5M886 1192l6 6m0-6l-6 6M886 1240l5 5m0-5l-5 5M886 1147l6 6m0-6l-6 6M887 1196l6 6m0-6l-6 6M887 1194l6 6m0-6l-6 6M888 1118l5 5m0-5l-5 5M889 1175l5 5m0-5l-5 5M888 1162l6 6m0-6l-6 6M889 1211l5 5m0-5l-5 5M889 1169l6 6m0-6l-6 6M890 1215l6 6m0-6l-6 6M890 1057l6 6m0-6l-6 6M891 1112l6 6m0-6l-6 6M891 1074l5 5m0-5l-5 5M892 1151l5 5m0-5l-5 5M892 1214l6 6m0-6l-6 6M893 1211l5 5m0-5l-5 5M893 1154l6 6m0-6l-6 6M893 1116l6 6m0-6l-6 6M894 1206l6 6m0-6l-6 6M894 1158l5 5m0-5l-5 5M895 1199l5 5m0-5l-5 5M895 1196l5 5m0-5l-5 5M895 1258l6 6m0-6l-6 6M896 1103l5 5m0-5l-5 5M897 1263l5 5m0-5l-5 5M897 1108l5 5m0-5l-5 5M897 1099l5 5m0-5l-5 5M897 1234l6 6m0-6l-6 6M898 1124l6 6m0-6l-6 6M898 1186l6 6m0-6l-6 6M899 1163l6 6m0-6l-6 6M899 1170l5 5m0-5l-5 5M900 1156l5 5m0-5l-5 5M900 1311l6 6m0-6l-6 6M900 1117l6 6m0-6l-6 6M901 1156l5 5m0-5l-5 5M902 1185l5 5m0-5l-5 5M902 1183l6 6m0-6l-6 6M902 1130l6 6m0-6l-6 6M903 1184l5 5m0-5l-5 5M903 1237l5 5m0-5l-5 5M904 1198l5 5m0-5l-5 5M904 1101l6 6m0-6l-6 6M904 1159l6 6m0-6l-6 6M904 1196l6 6m0-6l-6 6M905 1285l6 6m0-6l-6 6M905 1101l6 6m0-6l-6 6M906 1160l5 5m0-5l-5 5M907 1083l5 5m0-5l-5 5M907 1150l6 6m0-6l-6 6M907 1292l6 6m0-6l-6 6M908 1166l5 5m0-5l-5 5M908 1239l6 6m0-6l-6 6M909 1214l5 5m0-5l-5 5M909 1126l5 5m0-5l-5 5M909 1225l6 6m0-6l-6 6M910 1133l6 6m0-6l-6 6M910 1123l5 5m0-5l-5 5M911 1172l5 5m0-5l-5 5M911 1193l6 6m0-6l-6 6M911 1205l6 6m0-6l-6 6M912 1150l5 5m0-5l-5 5M912 1170l6 6m0-6l-6 6M912 1195l6 6m0-6l-6 6M913 1123l5 5m0-5l-5 5M914 1149l5 5m0-5l-5 5M914 1246l5 5m0-5l-5 5M915 1101l5 5m0-5l-5 5M915 1122l6 6m0-6l-6 6M915 1157l5 5m0-5l-5 5M915 1238l6 6m0-6l-6 6M916 1208l5 5m0-5l-5 5M916 1202l6 6m0-6l-6 6M917 1177l5 5m0-5l-5 5M918 1191l5 5m0-5l-5 5M918 1221l6 6m0-6l-6 6M918 1152l5 5m0-5l-5 5M919 1198l5 5m0-5l-5 5M919 1252l6 6m0-6l-6 6M920 1197l5 5m0-5l-5 5M920 1272l5 5m0-5l-5 5M920 1099l6 6m0-6l-6 6M920 1197l6 6m0-6l-6 6M921 1086l5 5m0-5l-5 5M922 1236l5 5m0-5l-5 5M922 1154l6 6m0-6l-6 6M923 1213l5 5m0-5l-5 5M923 1240l6 6m0-6l-6 6M924 1092l5 5m0-5l-5 5M923 1062l6 6m0-6l-6 6M924 1149l6 6m0-6l-6 6M924 1144l6 6m0-6l-6 6M925 1173l6 6m0-6l-6 6M925 1220l6 6m0-6l-6 6M926 1143l6 6m0-6l-6 6M926 1212l6 6m0-6l-6 6M927 1250l5 5m0-5l-5 5M927 1169l6 6m0-6l-6 6M927 1128l6 6m0-6l-6 6M928 1200l6 6m0-6l-6 6M928 1121l6 6m0-6l-6 6M928 1061l6 6m0-6l-6 6M929 1083l6 6m0-6l-6 6M929 1113l6 6m0-6l-6 6M930 1130l5 5m0-5l-5 5M930 1097l6 6m0-6l-6 6M931 1214l6 6m0-6l-6 6M931 1232l6 6m0-6l-6 6M932 1106l5 5m0-5l-5 5M932 1214l6 6m0-6l-6 6M933 1132l5 5m0-5l-5 5M933 1261l5 5m0-5l-5 5M933 1168l6 6m0-6l-6 6M934 1132l5 5m0-5l-5 5M934 1202l5 5m0-5l-5 5M935 1153l5 5m0-5l-5 5M935 1182l5 5m0-5l-5 5M935 1140l6 6m0-6l-6 6M936 1118l5 5m0-5l-5 5M936 1216l6 6m0-6l-6 6M936 1153l6 6m0-6l-6 6M937 1151l6 6m0-6l-6 6M937 1183l6 6m0-6l-6 6M938 1189l5 5m0-5l-5 5M938 1145l6 6m0-6l-6 6M939 1210l6 6m0-6l-6 6M940 1119l5 5m0-5l-5 5M939 1216l6 6m0-6l-6 6M940 1228l5 5m0-5l-5 5M941 1232l5 5m0-5l-5 5M941 1136l6 6m0-6l-6 6M942 1146l5 5m0-5l-5 5M942 1105l5 5m0-5l-5 5M942 1116l5 5m0-5l-5 5M943 1180l5 5m0-5l-5 5M943 1109l5 5m0-5l-5 5M943 1106l6 6m0-6l-6 6M944 1144l6 6m0-6l-6 6M944 1186l6 6m0-6l-6 6M944 1185l6 6m0-6l-6 6M945 1153l5 5m0-5l-5 5M946 1129l5 5m0-5l-5 5M946 1226l6 6m0-6l-6 6M947 1142l5 5m0-5l-5 5M947 1223l6 6m0-6l-6 6M948 1176l5 5m0-5l-5 5M948 1104l5 5m0-5l-5 5M948 1084l6 6m0-6l-6 6M948 1177l6 6m0-6l-6 6M949 1219l5 5m0-5l-5 5M949 1253l6 6m0-6l-6 6M950 1128l6 6m0-6l-6 6M950 1201l5 5m0-5l-5 5M951 1161l5 5m0-5l-5 5M951 1054l6 6m0-6l-6 6M951 1116l6 6m0-6l-6 6M952 1203l5 5m0-5l-5 5M953 1128l5 5m0-5l-5 5M953 1103l6 6m0-6l-6 6M953 1194l6 6m0-6l-6 6M954 1298l5 5m0-5l-5 5M954 1217l6 6m0-6l-6 6M954 1140l6 6m0-6l-6 6M955 1215l6 6m0-6l-6 6M955 1115l6 6m0-6l-6 6M955 1106l6 6m0-6l-6 6M956 1158l6 6m0-6l-6 6M957 1207l5 5m0-5l-5 5M957 1150l5 5m0-5l-5 5M957 1208l6 6m0-6l-6 6M958 1241l6 6m0-6l-6 6M958 1217l5 5m0-5l-5 5M959 1288l5 5m0-5l-5 5M959 1111l5 5m0-5l-5 5M960 1185l5 5m0-5l-5 5M960 1189l5 5m0-5l-5 5M960 1209l6 6m0-6l-6 6M961 1170l6 6m0-6l-6 6M961 1082l6 6m0-6l-6 6M962 1191l5 5m0-5l-5 5M962 1107l5 5m0-5l-5 5M963 1134l5 5m0-5l-5 5M963 1199l5 5m0-5l-5 5M964 1215l5 5m0-5l-5 5M964 1135l5 5m0-5l-5 5M964 1106l5 5m0-5l-5 5M965 1053l5 5m0-5l-5 5M965 1184l6 6m0-6l-6 6M966 1174l5 5m0-5l-5 5M966 1125l6 6m0-6l-6 6M966 1222l6 6m0-6l-6 6M966 1174l6 6m0-6l-6 6M967 1128l6 6m0-6l-6 6M968 1116l5 5m0-5l-5 5M968 1203l5 5m0-5l-5 5M969 1227l5 5m0-5l-5 5M969 1074l6 6m0-6l-6 6M969 1171l6 6m0-6l-6 6M969 1150l6 6m0-6l-6 6M970 1176l5 5m0-5l-5 5M970 1231l6 6m0-6l-6 6M971 1166l6 6m0-6l-6 6M972 1105l5 5m0-5l-5 5M972 1211l5 5m0-5l-5 5M972 1192l6 6m0-6l-6 6M973 1237l5 5m0-5l-5 5M973 1127l6 6m0-6l-6 6M973 1172l6 6m0-6l-6 6M974 1216l5 5m0-5l-5 5M974 1177l5 5m0-5l-5 5M974 1103l6 6m0-6l-6 6M975 1123l6 6m0-6l-6 6M976 1092l5 5m0-5l-5 5M976 1289l5 5m0-5l-5 5M977 1150l5 5m0-5l-5 5M977 1209l6 6m0-6l-6 6M977 1236l5 5m0-5l-5 5M977 1173l6 6m0-6l-6 6M978 1160l6 6m0-6l-6 6M979 1217l5 5m0-5l-5 5M979 1155l5 5m0-5l-5 5M980 1080l5 5m0-5l-5 5M980 1133l5 5m0-5l-5 5M980 1177l6 6m0-6l-6 6M981 1053l5 5m0-5l-5 5M981 1095l6 6m0-6l-6 6M982 1171l5 5m0-5l-5 5M982 1127l5 5m0-5l-5 5M983 1315l5 5m0-5l-5 5M982 1186l6 6m0-6l-6 6M983 1145l5 5m0-5l-5 5M984 1169l5 5m0-5l-5 5M984 1175l6 6m0-6l-6 6M985 1249l5 5m0-5l-5 5M985 1167l6 6m0-6l-6 6M985 1233l5 5m0-5l-5 5M986 1243l5 5m0-5l-5 5M986 1172l5 5m0-5l-5 5M986 1159l6 6m0-6l-6 6M987 1116l5 5m0-5l-5 5M988 1103l5 5m0-5l-5 5M988 1178l5 5m0-5l-5 5M988 1103l5 5m0-5l-5 5M988 1149l6 6m0-6l-6 6M989 1139l5 5m0-5l-5 5M990 1188l5 5m0-5l-5 5M990 1170l6 6m0-6l-6 6M991 1143l5 5m0-5l-5 5M991 1176l5 5m0-5l-5 5M991 1230l5 5m0-5l-5 5M991 1124l6 6m0-6l-6 6M992 1176l5 5m0-5l-5 5M993 1128l5 5m0-5l-5 5M993 1184l5 5m0-5l-5 5M993 1202l6 6m0-6l-6 6M993 1090l6 6m0-6l-6 6M994 1117l6 6m0-6l-6 6M994 1169l6 6m0-6l-6 6M995 1274l6 6m0-6l-6 6M995 1200l6 6m0-6l-6 6M996 1173l5 5m0-5l-5 5M996 1100l6 6m0-6l-6 6M996 1132l6 6m0-6l-6 6M997 1112l6 6m0-6l-6 6M997 1210l6 6m0-6l-6 6M998 1079l5 5m0-5l-5 5M999 1193l5 5m0-5l-5 5M999 1170l5 5m0-5l-5 5M999 1139l5 5m0-5l-5 5M1000 1126l5 5m0-5l-5 5M1000 1199l6 6m0-6l-6 6M1001 1189l5 5m0-5l-5 5M1001 1235l6 6m0-6l-6 6M1001 1203l6 6m0-6l-6 6M1001 1162l6 6m0-6l-6 6M1002 1146l5 5m0-5l-5 5M1002 1190l6 6m0-6l-6 6M1003 1153l5 5m0-5l-5 5M1003 1217l6 6m0-6l-6 6M1004 1043l5 5m0-5l-5 5M1004 1212l6 6m0-6l-6 6M1004 1194l6 6m0-6l-6 6M1005 1086l5 5m0-5l-5 5M1005 1278l6 6m0-6l-6 6M1006 1143l6 6m0-6l-6 6M1006 1116l6 6m0-6l-6 6M1006 1135l6 6m0-6l-6 6M1007 1068l6 6m0-6l-6 6M1007 1199l6 6m0-6l-6 6M1008 1130l6 6m0-6l-6 6M1009 1136l5 5m0-5l-5 5M1009 1200l6 6m0-6l-6 6M1009 1194l5 5m0-5l-5 5M1010 1083l5 5m0-5l-5 5M1010 1169l6 6m0-6l-6 6M1011 1218l5 5m0-5l-5 5M1011 1031l6 6m0-6l-6 6M1011 1163l6 6m0-6l-6 6M1012 1191l5 5m0-5l-5 5M1012 1061l6 6m0-6l-6 6M1012 1246l6 6m0-6l-6 6M1013 1202l6 6m0-6l-6 6M1013 1100l6 6m0-6l-6 6M1014 1166l5 5m0-5l-5 5M1014 1028l6 6m0-6l-6 6M1015 1079l5 5m0-5l-5 5M1015 1177l5 5m0-5l-5 5M1016 1137l5 5m0-5l-5 5M1016 1177l5 5m0-5l-5 5M1016 1117l6 6m0-6l-6 6M1017 1095l5 5m0-5l-5 5M1017 1183l6 6m0-6l-6 6M1017 1171l6 6m0-6l-6 6M1018 1054l5 5m0-5l-5 5M1019 1139l5 5m0-5l-5 5M1019 1085l5 5m0-5l-5 5M1019 1166l6 6m0-6l-6 6M1020 1182l5 5m0-5l-5 5M1020 1149l5 5m0-5l-5 5M1020 1149l6 6m0-6l-6 6M1021 1142l6 6m0-6l-6 6M1022 1208l5 5m0-5l-5 5M1022 1186l6 6m0-6l-6 6M1023 1097l5 5m0-5l-5 5M1023 1246l5 5m0-5l-5 5M1023 1178l5 5m0-5l-5 5M1024 1175l5 5m0-5l-5 5M1024 1141l5 5m0-5l-5 5M1024 1206l6 6m0-6l-6 6M1025 1161l5 5m0-5l-5 5M1025 1150l5 5m0-5l-5 5M1025 1181l6 6m0-6l-6 6M1026 1081l5 5m0-5l-5 5M1026 1105l6 6m0-6l-6 6M1027 1240l6 6m0-6l-6 6M1027 1102l6 6m0-6l-6 6M1028 1161l5 5m0-5l-5 5M1028 1188l6 6m0-6l-6 6M1029 1099l5 5m0-5l-5 5M1029 1287l5 5m0-5l-5 5M1030 1209l5 5m0-5l-5 5M1030 1187l5 5m0-5l-5 5M1031 1150l5 5m0-5l-5 5M1031 1261l5 5m0-5l-5 5M1031 1131l6 6m0-6l-6 6M1031 1235l6 6m0-6l-6 6M1032 1156l5 5m0-5l-5 5M1033 1170l5 5m0-5l-5 5M1033 1230l5 5m0-5l-5 5M1033 1220l6 6m0-6l-6 6M1033 1274l6 6m0-6l-6 6M1034 1168l6 6m0-6l-6 6M1035 1188l5 5m0-5l-5 5M1035 1131l5 5m0-5l-5 5M1035 1108l6 6m0-6l-6 6M1036 1144l6 6m0-6l-6 6M1036 1077l6 6m0-6l-6 6M1036 1237l6 6m0-6l-6 6M1037 1178l5 5m0-5l-5 5M1037 1156l6 6m0-6l-6 6M1038 1186l5 5m0-5l-5 5M1038 1085l6 6m0-6l-6 6M1038 1144l6 6m0-6l-6 6M1039 1146l5 5m0-5l-5 5M1040 1192l5 5m0-5l-5 5M1040 1066l5 5m0-5l-5 5M1040 1161l6 6m0-6l-6 6M1041 1171l5 5m0-5l-5 5M1041 1014l6 6m0-6l-6 6M1042 1138l5 5m0-5l-5 5M1042 1071l6 6m0-6l-6 6M1042 1212l6 6m0-6l-6 6M1043 1121l5 5m0-5l-5 5M1044 1272l5 5m0-5l-5 5M1044 1209l6 6m0-6l-6 6M1044 1223l5 5m0-5l-5 5M1044 1136l6 6m0-6l-6 6M1045 1164l5 5m0-5l-5 5M1046 1135l5 5m0-5l-5 5M1046 1182l5 5m0-5l-5 5M1047 1187l5 5m0-5l-5 5M1047 1145l5 5m0-5l-5 5M1047 1141l5 5m0-5l-5 5M1048 1101l5 5m0-5l-5 5M1048 1153l5 5m0-5l-5 5M1048 1055l6 6m0-6l-6 6M1049 1109l5 5m0-5l-5 5M1050 1245l5 5m0-5l-5 5M1050 1103l5 5m0-5l-5 5M1050 1099l5 5m0-5l-5 5M1050 1133l6 6m0-6l-6 6M1051 1203l5 5m0-5l-5 5M1052 1265l5 5m0-5l-5 5M1052 1153l6 6m0-6l-6 6M1052 1171l6 6m0-6l-6 6M1053 1304l5 5m0-5l-5 5M1053 1128l6 6m0-6l-6 6M1054 1124l5 5m0-5l-5 5M1054 1107l6 6m0-6l-6 6M1055 1150l5 5m0-5l-5 5M1055 1176l5 5m0-5l-5 5M1055 1227l6 6m0-6l-6 6M1056 1210l5 5m0-5l-5 5M1056 1229l6 6m0-6l-6 6M1056 1109l6 6m0-6l-6 6M1057 1121l6 6m0-6l-6 6M1058 1132l5 5m0-5l-5 5M1058 1144l5 5m0-5l-5 5M1058 1137l5 5m0-5l-5 5M1058 1032l6 6m0-6l-6 6M1059 1155l5 5m0-5l-5 5M1059 1162l6 6m0-6l-6 6M1060 1148l5 5m0-5l-5 5M1060 1120l5 5m0-5l-5 5M1060 1167l6 6m0-6l-6 6M1061 1112l6 6m0-6l-6 6M1061 1160l6 6m0-6l-6 6M1062 1099l5 5m0-5l-5 5M1062 1180l6 6m0-6l-6 6M1063 1121l5 5m0-5l-5 5M1063 1228l5 5m0-5l-5 5M1063 1218l6 6m0-6l-6 6M1064 1137l5 5m0-5l-5 5M1065 1082l5 5m0-5l-5 5M1065 1157l5 5m0-5l-5 5M1065 1227l6 6m0-6l-6 6M1065 1173l6 6m0-6l-6 6M1066 1171l6 6m0-6l-6 6M1067 1184l5 5m0-5l-5 5M1067 1137l6 6m0-6l-6 6M1068 1132l5 5m0-5l-5 5M1068 1173l6 6m0-6l-6 6M1068 1280l5 5m0-5l-5 5M1069 1159l5 5m0-5l-5 5M1069 1261l6 6m0-6l-6 6M1069 1132l6 6m0-6l-6 6M1070 1066l5 5m0-5l-5 5M1070 1160l6 6m0-6l-6 6M1070 1193l6 6m0-6l-6 6M1071 1244l5 5m0-5l-5 5M1071 1246l6 6m0-6l-6 6M1072 1144l6 6m0-6l-6 6M1073 1341l5 5m0-5l-5 5M1073 1229l6 6m0-6l-6 6M1073 1197l6 6m0-6l-6 6M1073 1158l6 6m0-6l-6 6M1074 1222l6 6m0-6l-6 6M1075 1059l5 5m0-5l-5 5M1075 1229l5 5m0-5l-5 5M1075 1182l6 6m0-6l-6 6M1076 1182l6 6m0-6l-6 6M1076 1144l5 5m0-5l-5 5M1076 1120l6 6m0-6l-6 6M1077 1168l6 6m0-6l-6 6M1077 1183l6 6m0-6l-6 6M1078 1235l5 5m0-5l-5 5M1078 1199l6 6m0-6l-6 6M1079 1014l5 5m0-5l-5 5M1079 1180l6 6m0-6l-6 6M1079 1245l6 6m0-6l-6 6M1080 1153l6 6m0-6l-6 6M1080 1153l6 6m0-6l-6 6M1081 1059l5 5m0-5l-5 5M1081 1156l6 6m0-6l-6 6M1082 1075l5 5m0-5l-5 5M1082 1147l5 5m0-5l-5 5M1082 1206l6 6m0-6l-6 6M1083 1101l5 5m0-5l-5 5M1083 1157l6 6m0-6l-6 6M1084 1046l6 6m0-6l-6 6M1084 1117l6 6m0-6l-6 6M1085 1091l5 5m0-5l-5 5M1085 1149l5 5m0-5l-5 5M1085 1225l6 6m0-6l-6 6M1086 1232l5 5m0-5l-5 5M1087 1231l5 5m0-5l-5 5M1087 1189l6 6m0-6l-6 6M1087 1072l6 6m0-6l-6 6M1087 1202l6 6m0-6l-6 6M1088 1221l5 5m0-5l-5 5M1088 1085l6 6m0-6l-6 6M1089 1194l5 5m0-5l-5 5M1089 1152l6 6m0-6l-6 6M1090 1137l5 5m0-5l-5 5M1090 1155l6 6m0-6l-6 6M1091 1141l5 5m0-5l-5 5M1091 1207l5 5m0-5l-5 5M1092 1134l5 5m0-5l-5 5M1092 1051l6 6m0-6l-6 6M1092 1232l6 6m0-6l-6 6M1092 1229l6 6m0-6l-6 6M1093 1102l5 5m0-5l-5 5M1094 1164l5 5m0-5l-5 5M1094 1127l6 6m0-6l-6 6M1094 1189l6 6m0-6l-6 6M1095 1141l6 6m0-6l-6 6M1095 1199l5 5m0-5l-5 5M1096 1160l5 5m0-5l-5 5M1096 1296l6 6m0-6l-6 6M1097 1229l5 5m0-5l-5 5M1097 1204l5 5m0-5l-5 5M1097 1210l6 6m0-6l-6 6M1097 1105l6 6m0-6l-6 6M1098 1192l6 6m0-6l-6 6M1099 1163l5 5m0-5l-5 5M1099 1086l5 5m0-5l-5 5M1100 1184l5 5m0-5l-5 5M1100 1154l6 6m0-6l-6 6M1100 1181l5 5m0-5l-5 5M1101 1146l5 5m0-5l-5 5M1101 1182l5 5m0-5l-5 5M1102 1190l5 5m0-5l-5 5M1102 1134l5 5m0-5l-5 5M1103 1196l5 5m0-5l-5 5M1103 1196l5 5m0-5l-5 5M1103 1170l6 6m0-6l-6 6M1103 1128l6 6m0-6l-6 6M1104 1142l6 6m0-6l-6 6M1104 1202l6 6m0-6l-6 6M1105 1184l5 5m0-5l-5 5M1106 1054l5 5m0-5l-5 5M1106 1085l5 5m0-5l-5 5M1106 1043l6 6m0-6l-6 6M1107 1195l5 5m0-5l-5 5M1107 1094l6 6m0-6l-6 6M1107 1183l6 6m0-6l-6 6M1108 1257l5 5m0-5l-5 5M1108 1130l6 6m0-6l-6 6M1108 1098l6 6m0-6l-6 6M1109 1154l6 6m0-6l-6 6M1109 1196l6 6m0-6l-6 6M1110 1244l5 5m0-5l-5 5M1110 1108l6 6m0-6l-6 6M1111 1138l5 5m0-5l-5 5M1111 1200l5 5m0-5l-5 5M1112 1193l5 5m0-5l-5 5M1112 1141l5 5m0-5l-5 5M1113 1124l5 5m0-5l-5 5M1113 1216l5 5m0-5l-5 5M1114 1156l5 5m0-5l-5 5M1113 1097l6 6m0-6l-6 6M1114 1154l6 6m0-6l-6 6M1114 1123l6 6m0-6l-6 6M1115 1214l6 6m0-6l-6 6M1115 1177l6 6m0-6l-6 6M1116 1084l6 6m0-6l-6 6M1116 1117l6 6m0-6l-6 6M1116 1318l6 6m0-6l-6 6M1117 1221l6 6m0-6l-6 6M1118 1179l5 5m0-5l-5 5M1118 1153l6 6m0-6l-6 6M1118 1141l6 6m0-6l-6 6M1119 1162l6 6m0-6l-6 6M1119 1150l5 5m0-5l-5 5M1119 1122l6 6m0-6l-6 6M1120 1216l5 5m0-5l-5 5M1120 1206l6 6m0-6l-6 6M1121 1067l6 6m0-6l-6 6M1122 1138l5 5m0-5l-5 5M1122 1188l5 5m0-5l-5 5M1122 1169l6 6m0-6l-6 6M1123 1170l5 5m0-5l-5 5M1123 1136l6 6m0-6l-6 6M1124 1146l5 5m0-5l-5 5M1124 1096l6 6m0-6l-6 6M1124 1232l6 6m0-6l-6 6M1124 1207l6 6m0-6l-6 6M1125 1155l6 6m0-6l-6 6M1126 1171l5 5m0-5l-5 5M1126 1208l5 5m0-5l-5 5M1126 1070l6 6m0-6l-6 6M1127 1172l6 6m0-6l-6 6M1127 1176l6 6m0-6l-6 6M1127 1132l6 6m0-6l-6 6M1128 1047l6 6m0-6l-6 6M1128 1172l6 6m0-6l-6 6M1129 1150l5 5m0-5l-5 5M1129 1198l6 6m0-6l-6 6M1129 1220l6 6m0-6l-6 6M1130 1204l6 6m0-6l-6 6M1130 1126l6 6m0-6l-6 6M1131 1220l5 5m0-5l-5 5M1131 1216l6 6m0-6l-6 6M1132 1085l5 5m0-5l-5 5M1133 1053l5 5m0-5l-5 5M1133 1114l5 5m0-5l-5 5M1133 1216l5 5m0-5l-5 5M1134 1114l5 5m0-5l-5 5M1134 1182l6 6m0-6l-6 6M1135 1220l5 5m0-5l-5 5M1135 1194l5 5m0-5l-5 5M1135 1147l6 6m0-6l-6 6M1135 1222l6 6m0-6l-6 6M1136 1098l6 6m0-6l-6 6M1136 1135l6 6m0-6l-6 6M1137 1208l6 6m0-6l-6 6M1138 1272l5 5m0-5l-5 5M1138 1174l5 5m0-5l-5 5M1138 1201l5 5m0-5l-5 5M1139 1167l5 5m0-5l-5 5M1139 1178l5 5m0-5l-5 5M1140 1129l5 5m0-5l-5 5M1140 1124l5 5m0-5l-5 5M1140 1105l6 6m0-6l-6 6M1140 1136l6 6m0-6l-6 6M1141 1167l5 5m0-5l-5 5M1141 1111l6 6m0-6l-6 6M1142 1116l6 6m0-6l-6 6M1142 1117l6 6m0-6l-6 6M1143 1084l5 5m0-5l-5 5M1143 1178l5 5m0-5l-5 5M1144 1187l5 5m0-5l-5 5M1144 1146l5 5m0-5l-5 5M1144 1090l6 6m0-6l-6 6M1145 1123l6 6m0-6l-6 6M1146 1108l5 5m0-5l-5 5M1146 1219l6 6m0-6l-6 6M1146 1210l6 6m0-6l-6 6M1147 1137l5 5m0-5l-5 5M1147 1186l6 6m0-6l-6 6M1148 1131l5 5m0-5l-5 5M1148 1197l6 6m0-6l-6 6M1149 1143l5 5m0-5l-5 5M1148 1110l6 6m0-6l-6 6M1149 1227l5 5m0-5l-5 5M1150 1136l5 5m0-5l-5 5M1150 1149l5 5m0-5l-5 5M1150 1135l6 6m0-6l-6 6M1151 1109l6 6m0-6l-6 6M1151 1147l6 6m0-6l-6 6M1151 1077l6 6m0-6l-6 6M1152 1194l6 6m0-6l-6 6M1152 1163l6 6m0-6l-6 6M1153 1167l5 5m0-5l-5 5M1154 1204l5 5m0-5l-5 5M1154 1108l5 5m0-5l-5 5M1154 1162l6 6m0-6l-6 6M1154 1152l6 6m0-6l-6 6M1155 1222l5 5m0-5l-5 5M1156 1146l5 5m0-5l-5 5M1156 1124l6 6m0-6l-6 6M1157 1196l5 5m0-5l-5 5M1157 1069l5 5m0-5l-5 5M1157 1283l6 6m0-6l-6 6M1158 1203l5 5m0-5l-5 5M1158 1125l6 6m0-6l-6 6M1158 1091l6 6m0-6l-6 6M1159 1146l5 5m0-5l-5 5M1159 1133l5 5m0-5l-5 5M1159 1183l6 6m0-6l-6 6M1160 1134l6 6m0-6l-6 6M1161 1101l5 5m0-5l-5 5M1161 1214l6 6m0-6l-6 6M1161 1157l6 6m0-6l-6 6M1162 1160l5 5m0-5l-5 5M1162 1170l6 6m0-6l-6 6M1163 1055l5 5m0-5l-5 5M1163 1114l5 5m0-5l-5 5M1163 1203l6 6m0-6l-6 6M1164 1054l5 5m0-5l-5 5M1164 1175l6 6m0-6l-6 6M1164 1213l6 6m0-6l-6 6M1165 1205l6 6m0-6l-6 6M1166 1233l5 5m0-5l-5 5M1166 1116l5 5m0-5l-5 5M1166 1103l6 6m0-6l-6 6M1167 1107l6 6m0-6l-6 6M1167 1154l6 6m0-6l-6 6M1167 1129l6 6m0-6l-6 6M1168 1148l6 6m0-6l-6 6M1169 1092l5 5m0-5l-5 5M1169 1121l6 6m0-6l-6 6M1169 1161l6 6m0-6l-6 6M1170 1231l6 6m0-6l-6 6M1170 1212l6 6m0-6l-6 6M1170 1278l6 6m0-6l-6 6M1171 1185l5 5m0-5l-5 5M1171 1165l6 6m0-6l-6 6M1172 1228l6 6m0-6l-6 6M1172 1189l6 6m0-6l-6 6M1173 1095l5 5m0-5l-5 5M1173 1165l6 6m0-6l-6 6M1173 1217l6 6m0-6l-6 6M1174 1140l5 5m0-5l-5 5M1175 1216l5 5m0-5l-5 5M1175 1183l6 6m0-6l-6 6M1176 1142l5 5m0-5l-5 5M1175 1154l6 6m0-6l-6 6M1176 1117l6 6m0-6l-6 6M1176 1133l6 6m0-6l-6 6M1177 1235l6 6m0-6l-6 6M1178 1211l5 5m0-5l-5 5M1178 1212l6 6m0-6l-6 6M1178 1028l6 6m0-6l-6 6M1179 1178l5 5m0-5l-5 5M1179 1113l5 5m0-5l-5 5M1179 1030l6 6m0-6l-6 6M1180 1172l6 6m0-6l-6 6M1181 1187l5 5m0-5l-5 5M1180 1224l6 6m0-6l-6 6M1181 1196l5 5m0-5l-5 5M1182 1273l5 5m0-5l-5 5M1182 1143l6 6m0-6l-6 6M1182 1119l6 6m0-6l-6 6M1183 1149l6 6m0-6l-6 6M1183 1199l6 6m0-6l-6 6M1184 1131l5 5m0-5l-5 5M1184 1209l5 5m0-5l-5 5M1185 1165l5 5m0-5l-5 5M1185 1098l5 5m0-5l-5 5M1185 1237l6 6m0-6l-6 6M1186 1244l6 6m0-6l-6 6M1186 1129l5 5m0-5l-5 5M1187 1165l5 5m0-5l-5 5M1187 1173l6 6m0-6l-6 6M1187 1122l6 6m0-6l-6 6M1188 1124l5 5m0-5l-5 5M1188 1226l6 6m0-6l-6 6M1188 1107l6 6m0-6l-6 6M1189 1216l6 6m0-6l-6 6M1190 1147l5 5m0-5l-5 5M1190 1220l5 5m0-5l-5 5M1190 1098l6 6m0-6l-6 6M1191 1143l6 6m0-6l-6 6M1191 1066l6 6m0-6l-6 6M1191 1125l6 6m0-6l-6 6M1192 1108l6 6m0-6l-6 6M1192 1101l6 6m0-6l-6 6M1193 1055l5 5m0-5l-5 5M1193 1117l6 6m0-6l-6 6M1194 1129l6 6m0-6l-6 6M1194 1067l5 5m0-5l-5 5M1195 1142l5 5m0-5l-5 5M1195 1294l5 5m0-5l-5 5M1196 1177l5 5m0-5l-5 5M1196 1134l6 6m0-6l-6 6M1196 1180l6 6m0-6l-6 6M1196 1126l6 6m0-6l-6 6M1197 1272l6 6m0-6l-6 6M1197 1111l6 6m0-6l-6 6M1198 1144l5 5m0-5l-5 5M1199 1209l5 5m0-5l-5 5M1199 1264l5 5m0-5l-5 5M1200 1175l5 5m0-5l-5 5M1200 1150l5 5m0-5l-5 5M1200 1152l5 5m0-5l-5 5M1200 1210l6 6m0-6l-6 6M1201 1252l6 6m0-6l-6 6M1202 1149l5 5m0-5l-5 5M1202 1137l5 5m0-5l-5 5M1202 1182l5 5m0-5l-5 5M1203 1059l5 5m0-5l-5 5M1203 1160l5 5m0-5l-5 5M1204 1115l5 5m0-5l-5 5M1204 1123l6 6m0-6l-6 6M1205 1194l5 5m0-5l-5 5M1205 1143l6 6m0-6l-6 6M1205 1129l5 5m0-5l-5 5M1205 1129l6 6m0-6l-6 6M1206 1151l6 6m0-6l-6 6M1207 1188l5 5m0-5l-5 5M1207 1181l6 6m0-6l-6 6M1208 1189l5 5m0-5l-5 5M1207 1129l6 6m0-6l-6 6M1208 1160l5 5m0-5l-5 5M1208 1158l6 6m0-6l-6 6M1209 1144l5 5m0-5l-5 5M1210 1131l5 5m0-5l-5 5M1210 1222l6 6m0-6l-6 6M1210 1324l6 6m0-6l-6 6M1211 1179l5 5m0-5l-5 5M1211 1140l6 6m0-6l-6 6M1211 1152l6 6m0-6l-6 6M1212 1122l6 6m0-6l-6 6M1212 1238l6 6m0-6l-6 6M1213 1226l6 6m0-6l-6 6M1213 1149l6 6m0-6l-6 6M1214 1200l5 5m0-5l-5 5M1214 1088l5 5m0-5l-5 5M1214 1138l6 6m0-6l-6 6M1215 1128l5 5m0-5l-5 5M1216 1226l5 5m0-5l-5 5M1215 1182l6 6m0-6l-6 6M1216 1187l6 6m0-6l-6 6M1217 1107l5 5m0-5l-5 5M1217 1186l6 6m0-6l-6 6M1217 1191l6 6m0-6l-6 6M1218 1279l6 6m0-6l-6 6M1218 1148l5 5m0-5l-5 5M1218 1241l6 6m0-6l-6 6M1219 1122l5 5m0-5l-5 5M1219 1119l6 6m0-6l-6 6M1220 1159l5 5m0-5l-5 5M1220 1099l6 6m0-6l-6 6M1221 1156l6 6m0-6l-6 6M1221 1146l6 6m0-6l-6 6M1222 1156l5 5m0-5l-5 5M1222 1163l6 6m0-6l-6 6M1222 1240l6 6m0-6l-6 6M1223 1206l6 6m0-6l-6 6M1223 1231l6 6m0-6l-6 6M1224 1149l5 5m0-5l-5 5M1224 1242l5 5m0-5l-5 5M1225 1152l5 5m0-5l-5 5M1225 1155l5 5m0-5l-5 5M1226 1130l5 5m0-5l-5 5M1226 1189l5 5m0-5l-5 5M1226 1209l5 5m0-5l-5 5M1227 1224l5 5m0-5l-5 5M1227 1111l5 5m0-5l-5 5M1227 1006l6 6m0-6l-6 6M1228 1199l5 5m0-5l-5 5M1228 1125l6 6m0-6l-6 6M1229 1156l5 5m0-5l-5 5M1229 1179l5 5m0-5l-5 5M1230 1178l5 5m0-5l-5 5M1230 1198l5 5m0-5l-5 5M1231 1155l5 5m0-5l-5 5M1231 1221l6 6m0-6l-6 6M1232 1195l5 5m0-5l-5 5M1231 1162l6 6m0-6l-6 6M1232 1119l5 5m0-5l-5 5M1233 1223l5 5m0-5l-5 5M1233 1196l6 6m0-6l-6 6M1233 1144l6 6m0-6l-6 6M1234 1152l6 6m0-6l-6 6M1234 1231l6 6m0-6l-6 6M1234 1217l6 6m0-6l-6 6M1235 1201l6 6m0-6l-6 6M1236 1205l5 5m0-5l-5 5M1236 1135l6 6m0-6l-6 6M1236 1135l6 6m0-6l-6 6M1237 1267l6 6m0-6l-6 6M1237 1242l5 5m0-5l-5 5M1237 1163l6 6m0-6l-6 6M1238 1162l5 5m0-5l-5 5M1239 1177l5 5m0-5l-5 5M1239 1101l6 6m0-6l-6 6M1239 1134l6 6m0-6l-6 6M1240 1167l5 5m0-5l-5 5M1240 1172l5 5m0-5l-5 5M1241 1063l5 5m0-5l-5 5M1241 1177l6 6m0-6l-6 6M1241 1173l6 6m0-6l-6 6M1242 1151l6 6m0-6l-6 6M1243 1142l5 5m0-5l-5 5M1243 1183l5 5m0-5l-5 5M1243 1101l6 6m0-6l-6 6M1243 1227l6 6m0-6l-6 6M1244 1244l6 6m0-6l-6 6M1244 1215l6 6m0-6l-6 6M1245 1144l5 5m0-5l-5 5M1245 1150l6 6m0-6l-6 6M1246 1068l5 5m0-5l-5 5M1246 1185l6 6m0-6l-6 6M1247 1172l5 5m0-5l-5 5M1247 1210l5 5m0-5l-5 5M1248 1228l5 5m0-5l-5 5M1247 1040l6 6m0-6l-6 6M1248 1200l5 5m0-5l-5 5M1249 1225l5 5m0-5l-5 5M1249 1274l5 5m0-5l-5 5M1249 1158l6 6m0-6l-6 6M1250 1123l5 5m0-5l-5 5M1251 1123l5 5m0-5l-5 5M1251 1121l5 5m0-5l-5 5M1251 1192l6 6m0-6l-6 6M1251 1165l6 6m0-6l-6 6M1252 1329l6 6m0-6l-6 6M1253 1103l5 5m0-5l-5 5M1253 1171l5 5m0-5l-5 5M1253 1181l5 5m0-5l-5 5M1254 1141l5 5m0-5l-5 5M1254 1164l5 5m0-5l-5 5M1255 1157l5 5m0-5l-5 5M1255 1204l6 6m0-6l-6 6M1255 1129l6 6m0-6l-6 6M1255 1211l6 6m0-6l-6 6M1256 1156l6 6m0-6l-6 6M1256 1115l6 6m0-6l-6 6M1257 1176l6 6m0-6l-6 6M1257 1208l6 6m0-6l-6 6M1258 1154l6 6m0-6l-6 6M1258 1110l6 6m0-6l-6 6M1259 1192l5 5m0-5l-5 5M1259 1210l6 6m0-6l-6 6M1260 1170l5 5m0-5l-5 5M1260 1144l5 5m0-5l-5 5M1261 1189l5 5m0-5l-5 5M1261 1077l5 5m0-5l-5 5M1261 1226l6 6m0-6l-6 6M1262 1166l5 5m0-5l-5 5M1262 1146l6 6m0-6l-6 6M1262 1160l6 6m0-6l-6 6M1263 1186l5 5m0-5l-5 5M1264 1217l5 5m0-5l-5 5M1264 1086l6 6m0-6l-6 6M1264 1145l5 5m0-5l-5 5M1265 1104l5 5m0-5l-5 5M1265 1211l6 6m0-6l-6 6M1266 1136l5 5m0-5l-5 5M1266 1172l5 5m0-5l-5 5M1267 1192l5 5m0-5l-5 5M1266 1113l6 6m0-6l-6 6M1267 1220l6 6m0-6l-6 6M1267 1165l6 6m0-6l-6 6M1268 1173l6 6m0-6l-6 6M1269 1119l5 5m0-5l-5 5M1269 1133l6 6m0-6l-6 6M1269 1163l5 5m0-5l-5 5M1270 1126l5 5m0-5l-5 5M1270 1194l5 5m0-5l-5 5M1271 1183l5 5m0-5l-5 5M1271 1200l6 6m0-6l-6 6M1271 1066l6 6m0-6l-6 6M1272 1203l5 5m0-5l-5 5M1272 1079l5 5m0-5l-5 5M1272 1206l6 6m0-6l-6 6M1273 1135l5 5m0-5l-5 5M1274 1143l5 5m0-5l-5 5M1274 1159l6 6m0-6l-6 6M1274 1191l6 6m0-6l-6 6M1274 1154l6 6m0-6l-6 6M1275 1118l5 5m0-5l-5 5M1275 1101l6 6m0-6l-6 6M1276 1181l6 6m0-6l-6 6M1277 1080l5 5m0-5l-5 5M1277 1144l5 5m0-5l-5 5M1277 1218l6 6m0-6l-6 6M1277 1151l6 6m0-6l-6 6M1278 1137l5 5m0-5l-5 5M1279 1164l5 5m0-5l-5 5M1279 1172l6 6m0-6l-6 6M1280 1137l5 5m0-5l-5 5M1280 1048l5 5m0-5l-5 5M1280 1226l5 5m0-5l-5 5M1280 1148l6 6m0-6l-6 6M1281 1176l5 5m0-5l-5 5M1282 1189l5 5m0-5l-5 5M1282 1172l5 5m0-5l-5 5M1282 1147l6 6m0-6l-6 6M1283 1173l5 5m0-5l-5 5M1283 1128l5 5m0-5l-5 5M1284 1126l5 5m0-5l-5 5M1284 1199l5 5m0-5l-5 5M1284 1138l6 6m0-6l-6 6M1285 1115l6 6m0-6l-6 6M1285 1168l6 6m0-6l-6 6M1285 1169l6 6m0-6l-6 6M1286 1140l5 5m0-5l-5 5M1287 1131l5 5m0-5l-5 5M1287 1169l5 5m0-5l-5 5M1288 1203l5 5m0-5l-5 5M1288 1105l6 6m0-6l-6 6M1288 1182l5 5m0-5l-5 5M1289 1135l5 5m0-5l-5 5M1289 1090l6 6m0-6l-6 6M1290 1188l5 5m0-5l-5 5M1290 1220l5 5m0-5l-5 5M1290 1228l6 6m0-6l-6 6M1290 1239l6 6m0-6l-6 6M1291 1120l5 5m0-5l-5 5M1291 1194l6 6m0-6l-6 6M1292 1169l5 5m0-5l-5 5M1292 1169l6 6m0-6l-6 6M1293 1217l6 6m0-6l-6 6M1293 1153l6 6m0-6l-6 6M1294 1203l5 5m0-5l-5 5M1294 1157l6 6m0-6l-6 6M1295 1152l5 5m0-5l-5 5M1295 1160l6 6m0-6l-6 6M1295 1134l6 6m0-6l-6 6M1296 1164l6 6m0-6l-6 6M1296 1192l6 6m0-6l-6 6M1296 1162l6 6m0-6l-6 6M1297 1136l5 5m0-5l-5 5M1297 1130l6 6m0-6l-6 6M1298 1170l5 5m0-5l-5 5M1298 1161l6 6m0-6l-6 6M1298 1174l6 6m0-6l-6 6M1299 1135l5 5m0-5l-5 5M1300 1180l5 5m0-5l-5 5M1300 1131l6 6m0-6l-6 6M1301 1172l5 5m0-5l-5 5M1301 1175l5 5m0-5l-5 5M1302 1169l5 5m0-5l-5 5M1302 1107l5 5m0-5l-5 5M1302 1110l6 6m0-6l-6 6M1302 1070l6 6m0-6l-6 6M1303 1206l6 6m0-6l-6 6M1303 1238l6 6m0-6l-6 6M1304 1068l5 5m0-5l-5 5M1304 1139l5 5m0-5l-5 5M1305 1222l5 5m0-5l-5 5M1305 1201l6 6m0-6l-6 6M1305 1169l6 6m0-6l-6 6M1306 1145l6 6m0-6l-6 6M1306 1158l6 6m0-6l-6 6M1306 1135l6 6m0-6l-6 6M1307 1097l6 6m0-6l-6 6M1308 1198l5 5m0-5l-5 5M1308 1134l5 5m0-5l-5 5M1309 1180l5 5m0-5l-5 5M1309 1174l5 5m0-5l-5 5M1309 1146l6 6m0-6l-6 6M1310 1283l5 5m0-5l-5 5M1310 1214l5 5m0-5l-5 5M1310 1117l6 6m0-6l-6 6M1311 1110l5 5m0-5l-5 5M1311 1161l6 6m0-6l-6 6M1312 1251l5 5m0-5l-5 5M1312 1143l5 5m0-5l-5 5M1312 1217l6 6m0-6l-6 6M1313 1117l5 5m0-5l-5 5M1314 1175l5 5m0-5l-5 5M1314 1181l6 6m0-6l-6 6M1314 1184l6 6m0-6l-6 6M1315 1226l5 5m0-5l-5 5M1315 1126l5 5m0-5l-5 5M1316 1225l5 5m0-5l-5 5M1316 1041l6 6m0-6l-6 6M1316 1130l6 6m0-6l-6 6M1317 1215l6 6m0-6l-6 6M1318 1195l5 5m0-5l-5 5M1318 1210l5 5m0-5l-5 5M1318 1124l5 5m0-5l-5 5M1318 1142l6 6m0-6l-6 6M1319 1082l5 5m0-5l-5 5M1320 1181l5 5m0-5l-5 5M1320 1141l5 5m0-5l-5 5M1320 1158l6 6m0-6l-6 6M1320 1220l6 6m0-6l-6 6M1321 1109l5 5m0-5l-5 5M1322 1229l5 5m0-5l-5 5M1322 1146l6 6m0-6l-6 6M1322 1151l6 6m0-6l-6 6M1323 1156l5 5m0-5l-5 5M1323 1177l5 5m0-5l-5 5M1323 1231l6 6m0-6l-6 6M1324 1240l6 6m0-6l-6 6M1325 1183l5 5m0-5l-5 5M1325 1245l6 6m0-6l-6 6M1326 1083l5 5m0-5l-5 5M1325 1135l6 6m0-6l-6 6M1326 1052l6 6m0-6l-6 6M1327 1200l5 5m0-5l-5 5M1327 1144l5 5m0-5l-5 5M1327 1080l6 6m0-6l-6 6M1328 1200l6 6m0-6l-6 6M1328 1145l5 5m0-5l-5 5M1329 1131l5 5m0-5l-5 5M1329 1126l6 6m0-6l-6 6M1329 1254l6 6m0-6l-6 6M1330 1099l5 5m0-5l-5 5M1330 1205l6 6m0-6l-6 6M1331 1203l5 5m0-5l-5 5M1331 1227l5 5m0-5l-5 5M1331 1176l6 6m0-6l-6 6M1332 1070l6 6m0-6l-6 6M1333 1179l5 5m0-5l-5 5M1333 1143l6 6m0-6l-6 6M1334 1176l5 5m0-5l-5 5M1334 1081l5 5m0-5l-5 5M1334 1119l6 6m0-6l-6 6M1335 1104l5 5m0-5l-5 5M1335 1262l6 6m0-6l-6 6M1336 1136l5 5m0-5l-5 5M1336 1090l5 5m0-5l-5 5M1336 1124l5 5m0-5l-5 5M1337 1138l5 5m0-5l-5 5M1337 1084l5 5m0-5l-5 5M1337 1204l6 6m0-6l-6 6M1338 1248l6 6m0-6l-6 6M1339 1214l5 5m0-5l-5 5M1339 1257l6 6m0-6l-6 6M1339 1056l6 6m0-6l-6 6M1340 1211l5 5m0-5l-5 5M1340 1062l5 5m0-5l-5 5M1341 1088l5 5m0-5l-5 5M1341 1159l5 5m0-5l-5 5M1342 1154l5 5m0-5l-5 5M1341 1153l6 6m0-6l-6 6M1342 1134l5 5m0-5l-5 5M1343 1147l5 5m0-5l-5 5M1343 1089l6 6m0-6l-6 6M1343 1197l6 6m0-6l-6 6M1344 1176l6 6m0-6l-6 6M1344 1211l5 5m0-5l-5 5M1345 1220l5 5m0-5l-5 5M1345 1159l6 6m0-6l-6 6M1345 1132l6 6m0-6l-6 6M1346 1225l6 6m0-6l-6 6M1346 1062l6 6m0-6l-6 6M1347 1202l6 6m0-6l-6 6M1347 1179l6 6m0-6l-6 6M1348 1158l5 5m0-5l-5 5M1348 1223l5 5m0-5l-5 5M1348 1044l6 6m0-6l-6 6M1349 1159l6 6m0-6l-6 6M1349 1243l6 6m0-6l-6 6M1350 1159l5 5m0-5l-5 5M1350 1153l6 6m0-6l-6 6M1351 1132l5 5m0-5l-5 5M1351 1126l6 6m0-6l-6 6M1351 1175l6 6m0-6l-6 6M1352 1074l6 6m0-6l-6 6M1352 1227l5 5m0-5l-5 5M1352 1135l6 6m0-6l-6 6M1353 1072l6 6m0-6l-6 6M1354 1128l5 5m0-5l-5 5M1354 1106l5 5m0-5l-5 5M1354 1198l6 6m0-6l-6 6M1355 1177l5 5m0-5l-5 5M1355 1140l6 6m0-6l-6 6M1356 1178l5 5m0-5l-5 5M1356 1250l5 5m0-5l-5 5M1356 1105l6 6m0-6l-6 6M1357 1107l6 6m0-6l-6 6M1358 1129l5 5m0-5l-5 5M1358 1272l5 5m0-5l-5 5M1358 1238l5 5m0-5l-5 5M1359 1177l5 5m0-5l-5 5M1359 1177l5 5m0-5l-5 5M1359 1184l6 6m0-6l-6 6M1360 1232l6 6m0-6l-6 6M1361 1172l5 5m0-5l-5 5M1360 1091l6 6m0-6l-6 6M1361 1159l6 6m0-6l-6 6M1361 1210l6 6m0-6l-6 6M1362 1215l5 5m0-5l-5 5M1363 1180l5 5m0-5l-5 5M1363 1170l5 5m0-5l-5 5M1363 1201l6 6m0-6l-6 6M1363 1292l6 6m0-6l-6 6M1364 1166l5 5m0-5l-5 5M1365 1165l5 5m0-5l-5 5M1365 1128l6 6m0-6l-6 6M1365 1204l6 6m0-6l-6 6M1366 1122l5 5m0-5l-5 5M1366 1239l6 6m0-6l-6 6M1366 1156l6 6m0-6l-6 6M1367 1229l5 5m0-5l-5 5M1367 1246l6 6m0-6l-6 6M1368 1229l6 6m0-6l-6 6M1369 1108l5 5m0-5l-5 5M1368 1204l6 6m0-6l-6 6M1369 1251l5 5m0-5l-5 5M1369 1182l6 6m0-6l-6 6M1370 1179l5 5m0-5l-5 5M1371 1242l5 5m0-5l-5 5M1371 1136l6 6m0-6l-6 6M1371 1181l5 5m0-5l-5 5M1371 1158l6 6m0-6l-6 6M1372 1283l6 6m0-6l-6 6M1372 1078l6 6m0-6l-6 6M1373 1170l5 5m0-5l-5 5M1374 1203l5 5m0-5l-5 5M1374 1214l5 5m0-5l-5 5M1374 1043l6 6m0-6l-6 6M1375 1089l5 5m0-5l-5 5M1375 1207l5 5m0-5l-5 5M1375 1205l6 6m0-6l-6 6M1376 1114l6 6m0-6l-6 6M1376 1152l6 6m0-6l-6 6M1377 1227l5 5m0-5l-5 5M1377 1113l6 6m0-6l-6 6M1377 1121l6 6m0-6l-6 6M1378 1080l5 5m0-5l-5 5M1378 1195l6 6m0-6l-6 6M1379 1159l6 6m0-6l-6 6M1379 1146l5 5m0-5l-5 5M1380 1058l5 5m0-5l-5 5M1380 1220l6 6m0-6l-6 6M1381 1144l5 5m0-5l-5 5M1381 1056l6 6m0-6l-6 6M1382 1198l5 5m0-5l-5 5M1381 1130l6 6m0-6l-6 6M1382 1081l6 6m0-6l-6 6M1382 1268l6 6m0-6l-6 6M1383 1223l6 6m0-6l-6 6M1384 1210l5 5m0-5l-5 5M1384 1111l5 5m0-5l-5 5M1385 1156l5 5m0-5l-5 5M1384 1180l6 6m0-6l-6 6M1385 1231l6 6m0-6l-6 6M1386 1073l5 5m0-5l-5 5M1386 1139l5 5m0-5l-5 5M1387 1158l5 5m0-5l-5 5M1387 1187l6 6m0-6l-6 6M1387 1176l5 5m0-5l-5 5M1387 1179l6 6m0-6l-6 6M1388 1259l5 5m0-5l-5 5M1389 1094l5 5m0-5l-5 5M1389 1070l5 5m0-5l-5 5M1390 1040l5 5m0-5l-5 5M1390 1180l5 5m0-5l-5 5M1390 1181l6 6m0-6l-6 6M1391 1179l5 5m0-5l-5 5M1391 1145l6 6m0-6l-6 6M1391 1150l6 6m0-6l-6 6M1392 1137l5 5m0-5l-5 5M1393 1247l5 5m0-5l-5 5M1392 1172l6 6m0-6l-6 6M1393 1234l5 5m0-5l-5 5M1394 1203l5 5m0-5l-5 5M1394 1195l6 6m0-6l-6 6M1394 1165l6 6m0-6l-6 6M1395 1115l5 5m0-5l-5 5M1395 1112l5 5m0-5l-5 5M1396 1210l5 5m0-5l-5 5M1396 1140l6 6m0-6l-6 6M1396 1245l6 6m0-6l-6 6M1397 1219l5 5m0-5l-5 5M1397 1115l6 6m0-6l-6 6M1398 1223l5 5m0-5l-5 5M1398 1177l6 6m0-6l-6 6M1398 1170l6 6m0-6l-6 6M1399 1192l5 5m0-5l-5 5M1400 1081l5 5m0-5l-5 5M1400 1120l5 5m0-5l-5 5M1401 1089l5 5m0-5l-5 5M1400 1212l6 6m0-6l-6 6M1401 1122l6 6m0-6l-6 6M1401 1240l6 6m0-6l-6 6M1402 1177l6 6m0-6l-6 6M1402 1185l6 6m0-6l-6 6M1403 1112l6 6m0-6l-6 6M1403 1164l6 6m0-6l-6 6M1403 1196l6 6m0-6l-6 6M1404 1149l6 6m0-6l-6 6M1405 1106l5 5m0-5l-5 5M1405 1127l5 5m0-5l-5 5M1405 1223l6 6m0-6l-6 6M1406 1229l6 6m0-6l-6 6M1406 1144l6 6m0-6l-6 6M1407 1200l5 5m0-5l-5 5M1407 1269l6 6m0-6l-6 6M1408 1080l5 5m0-5l-5 5M1408 1077l6 6m0-6l-6 6M1408 1112l6 6m0-6l-6 6M1408 1120l6 6m0-6l-6 6M1409 1143l6 6m0-6l-6 6M1410 1143l5 5m0-5l-5 5M1410 1176l5 5m0-5l-5 5M1410 1128l6 6m0-6l-6 6M1411 1249l6 6m0-6l-6 6M1411 1209l5 5m0-5l-5 5M1411 1164l6 6m0-6l-6 6M1412 1282l6 6m0-6l-6 6M1413 1084l5 5m0-5l-5 5M1413 1134l5 5m0-5l-5 5M1414 1194l5 5m0-5l-5 5M1414 1120l5 5m0-5l-5 5M1414 1099l6 6m0-6l-6 6M1415 1147l5 5m0-5l-5 5M1415 1175l6 6m0-6l-6 6M1416 1209l5 5m0-5l-5 5M1416 1249l5 5m0-5l-5 5M1417 1083l5 5m0-5l-5 5M1416 1119l6 6m0-6l-6 6M1417 1199l5 5m0-5l-5 5M1417 1186l6 6m0-6l-6 6M1418 1204l6 6m0-6l-6 6M1418 1151l6 6m0-6l-6 6M1419 1104l6 6m0-6l-6 6M1420 1143l5 5m0-5l-5 5" stroke="#000" stroke-width="1" fill="none" shape-rendering="crispEdges"/>
<path d="M162.5 953V1404M1422.5 953V1404M162 953.5H1423M162 1403.5H1423" stroke="#000" stroke-width="1" fill="none" shape-rendering="crispEdges"/>
<path d="M201.375 939V954M201.375 1403V1417M398.250 939V954M398.250 1403V1417M595.125 939V954M595.125 1403V1417M792.000 939V954M792.000 1403V1417M988.875 939V954M988.875 1403V1417M1185.750 939V954M1185.750 1403V1417M1382.625 939V954M1382.625 1403V1417M162.000 946V954M162.000 1403V1410M240.750 946V954M240.750 1403V1410M280.125 946V954M280.125 1403V1410M319.500 946V954M319.500 1403V1410M358.875 946V954M358.875 1403V1410M437.625 946V954M437.625 1403V1410M477.000 946V954M477.000 1403V1410M516.375 946V954M516.375 1403V1410M555.750 946V954M555.750 1403V1410M634.500 946V954M634.500 1403V1410M673.875 946V954M673.875 1403V1410M713.250 946V954M713.250 1403V1410M752.625 946V954M752.625 1403V1410M831.375 946V954M831.375 1403V1410M870.750 946V954M870.750 1403V1410M910.125 946V954M910.125 1403V1410M949.500 946V954M949.500 1403V1410M1028.250 946V954M1028.250 1403V1410M1067.625 946V954M1067.625 1403V1410M1107.000 946V954M1107.000 1403V1410M1146.375 946V954M1146.375 1403V1410M1225.125 946V954M1225.125 1403V1410M1264.500 946V954M1264.500 1403V1410M1303.875 946V954M1303.875 1403V1410M1343.250 946V954M1343.250 1403V1410M1422.000 946V954M1422.000 1403V1410" stroke="#000" stroke-width="2.2" fill="none" shape-rendering="crispEdges"/>
<path d="M148 978.451H163M1422 978.451H1436M148 1026.291H163M1422 1026.291H1436M148 1074.131H163M1422 1074.131H1436M148 1121.971H163M1422 1121.971H1436M148 1169.811H163M1422 1169.811H1436M148 1217.651H163M1422 1217.651H1436M148 1265.491H163M1422 1265.491H1436M148 1313.331H163M1422 1313.331H1436M148 1361.171H163M1422 1361.171H1436" stroke="#000" stroke-width="2.2" fill="none" shape-rendering="crispEdges"/>
<text transform="translate(137.0 989.5) scale(1 1.1)" font-size="30" text-anchor="end">0.0</text>
<text transform="translate(137.0 1037.3) scale(1 1.1)" font-size="30" text-anchor="end"><tspan dy="3.2">−</tspan><tspan dy="-3.2">0.5</tspan></text>
<text transform="translate(137.0 1085.1) scale(1 1.1)" font-size="30" text-anchor="end"><tspan dy="3.2">−</tspan><tspan dy="-3.2">1.0</tspan></text>
<text transform="translate(137.0 1133.0) scale(1 1.1)" font-size="30" text-anchor="end"><tspan dy="3.2">−</tspan><tspan dy="-3.2">1.5</tspan></text>
<text transform="translate(137.0 1180.8) scale(1 1.1)" font-size="30" text-anchor="end"><tspan dy="3.2">−</tspan><tspan dy="-3.2">2.0</tspan></text>
<text transform="translate(137.0 1228.7) scale(1 1.1)" font-size="30" text-anchor="end"><tspan dy="3.2">−</tspan><tspan dy="-3.2">2.5</tspan></text>
<text transform="translate(137.0 1276.5) scale(1 1.1)" font-size="30" text-anchor="end"><tspan dy="3.2">−</tspan><tspan dy="-3.2">3.0</tspan></text>
<text transform="translate(137.0 1324.3) scale(1 1.1)" font-size="30" text-anchor="end"><tspan dy="3.2">−</tspan><tspan dy="-3.2">3.5</tspan></text>
<text transform="translate(137.0 1372.2) scale(1 1.1)" font-size="30" text-anchor="end"><tspan dy="3.2">−</tspan><tspan dy="-3.2">4.0</tspan></text>
<text transform="translate(201.4 1451.0) scale(1 1.1)" font-size="30" text-anchor="middle">61010</text>
<text transform="translate(398.2 1451.0) scale(1 1.1)" font-size="30" text-anchor="middle">61015</text>
<text transform="translate(595.1 1451.0) scale(1 1.1)" font-size="30" text-anchor="middle">61020</text>
<text transform="translate(792.0 1451.0) scale(1 1.1)" font-size="30" text-anchor="middle">61025</text>
<text transform="translate(988.9 1451.0) scale(1 1.1)" font-size="30" text-anchor="middle">61030</text>
<text transform="translate(1185.8 1451.0) scale(1 1.1)" font-size="30" text-anchor="middle">61035</text>
<text transform="translate(1382.6 1451.0) scale(1 1.1)" font-size="30" text-anchor="middle">61040</text>
<text transform="translate(792.0 1481.0) scale(1 1.04)" font-size="30" font-weight="bold" text-anchor="middle">Modified Julian Date</text>
<text transform="translate(69 1178) rotate(-90)" font-size="30" font-weight="bold" text-anchor="middle">residuals (ns)</text>
<text x="201" y="1381" font-size="25" font-weight="bold" xml:space="preserve">Max Smoothing Residual: _-3.937_-0.234_-1.945  Sigma= 0.561ns</text>
<path d="M169.5 1511V1962M709.5 1511V1962M169 1511.5H710M169 1961.5H710" stroke="#000" stroke-width="1" fill="none" shape-rendering="crispEdges"/>
<path d="M169.000 1497V1512M169.000 1961V1975M304.000 1497V1512M304.000 1961V1975M439.000 1497V1512M439.000 1961V1975M574.000 1497V1512M574.000 1961V1975M709.000 1497V1512M709.000 1961V1975M236.500 1504V1512M236.500 1961V1968M371.500 1504V1512M371.500 1961V1968M506.500 1504V1512M506.500 1961V1968M641.500 1504V1512M641.500 1961V1968" stroke="#000" stroke-width="2.2" fill="none" shape-rendering="crispEdges"/>
<path d="M156 1548.500H170M709 1548.500H723M156 1623.500H170M709 1623.500H723M156 1698.500H170M709 1698.500H723M156 1773.500H170M709 1773.500H723M156 1848.500H170M709 1848.500H723M156 1923.500H170M709 1923.500H723M162 1511.000H170M709 1511.000H716M162 1586.000H170M709 1586.000H716M162 1661.000H170M709 1661.000H716M162 1736.000H170M709 1736.000H716M162 1811.000H170M709 1811.000H716M162 1886.000H170M709 1886.000H716M162 1961.000H170M709 1961.000H716" stroke="#000" stroke-width="2.2" fill="none" shape-rendering="crispEdges"/>
<text transform="translate(139.0 1559.5) scale(1 1.1)" font-size="30" text-anchor="end"><tspan dy="3.2">−</tspan><tspan dy="-3.2">11</tspan></text>
<text transform="translate(139.0 1634.5) scale(1 1.1)" font-size="30" text-anchor="end"><tspan dy="3.2">−</tspan><tspan dy="-3.2">12</tspan></text>
<text transform="translate(139.0 1709.5) scale(1 1.1)" font-size="30" text-anchor="end"><tspan dy="3.2">−</tspan><tspan dy="-3.2">13</tspan></text>
<text transform="translate(139.0 1784.5) scale(1 1.1)" font-size="30" text-anchor="end"><tspan dy="3.2">−</tspan><tspan dy="-3.2">14</tspan></text>
<text transform="translate(139.0 1859.5) scale(1 1.1)" font-size="30" text-anchor="end"><tspan dy="3.2">−</tspan><tspan dy="-3.2">15</tspan></text>
<text transform="translate(139.0 1934.5) scale(1 1.1)" font-size="30" text-anchor="end"><tspan dy="3.2">−</tspan><tspan dy="-3.2">16</tspan></text>
<text transform="translate(169.0 2009.0) scale(1 1.1)" font-size="30" text-anchor="middle">2</text>
<text transform="translate(304.0 2009.0) scale(1 1.1)" font-size="30" text-anchor="middle">3</text>
<text transform="translate(439.0 2009.0) scale(1 1.1)" font-size="30" text-anchor="middle">4</text>
<text transform="translate(574.0 2009.0) scale(1 1.1)" font-size="30" text-anchor="middle">5</text>
<text transform="translate(709.0 2009.0) scale(1 1.1)" font-size="30" text-anchor="middle">6</text>
<text transform="translate(439.0 2038.5) scale(1 1.04)" font-size="30" font-weight="bold" text-anchor="middle">Averaging time, log(<tspan font-weight="normal">&#964;</tspan>) (s)</text>
<text transform="translate(83.5 1736) rotate(-90)" font-size="30" font-weight="bold" text-anchor="middle">Modified Allan Deviation <tspan font-weight="normal">(10</tspan><tspan font-weight="normal" font-size="21" dy="-11">-15</tspan><tspan font-weight="normal" dy="11">)</tspan></text>
<text transform="translate(203.0 1539.0) scale(1 1.1)" font-size="18">&#964; = 982s</text>
<text transform="translate(302.8 1620.8) scale(1 1.04)" font-size="20" font-weight="bold" text-anchor="middle" fill="#f00">852.8</text>
<text transform="translate(343.6 1654.0) scale(1 1.04)" font-size="20" font-weight="bold" text-anchor="middle" fill="#f00">308.0</text>
<text transform="translate(384.0 1687.6) scale(1 1.04)" font-size="20" font-weight="bold" text-anchor="middle" fill="#f00">109.1</text>
<text transform="translate(424.9 1711.8) scale(1 1.04)" font-size="20" font-weight="bold" text-anchor="middle" fill="#f00">51.7</text>
<text transform="translate(465.5 1735.6) scale(1 1.04)" font-size="20" font-weight="bold" text-anchor="middle" fill="#f00">25.1</text>
<text transform="translate(506.0 1777.5) scale(1 1.04)" font-size="20" font-weight="bold" text-anchor="middle" fill="#f00">6.9</text>
<text transform="translate(546.9 1798.0) scale(1 1.04)" font-size="20" font-weight="bold" text-anchor="middle" fill="#f00">3.7</text>
<text transform="translate(587.4 1830.7) scale(1 1.04)" font-size="20" font-weight="bold" text-anchor="middle" fill="#f00">1.4</text>
<text transform="translate(628.0 1857.7) scale(1 1.04)" font-size="20" font-weight="bold" text-anchor="middle" fill="#f00">0.6</text>
<text transform="translate(669.0 1892.9) scale(1 1.04)" font-size="20" font-weight="bold" text-anchor="middle" fill="#f00">0.2</text>
<g fill="#000"><circle cx="302.8" cy="1628.6" r="6.1"/><circle cx="343.6" cy="1661.8" r="6.1"/><circle cx="384.0" cy="1695.4" r="6.1"/><circle cx="424.9" cy="1719.6" r="6.1"/><circle cx="465.5" cy="1743.4" r="6.1"/><circle cx="506.0" cy="1785.3" r="6.1"/><circle cx="546.9" cy="1805.8" r="6.1"/><circle cx="587.4" cy="1838.5" r="6.1"/><circle cx="628.0" cy="1865.5" r="6.1"/><circle cx="669.0" cy="1900.7" r="6.1"/></g>
<clipPath id="cl"><rect x="169" y="1511" width="541" height="450.5"/></clipPath>
<text transform="translate(338.5 1954.0) scale(1 1.04)" font-size="20" font-weight="bold" text-anchor="middle" fill="#f00">h/2</text>
<text transform="translate(379.1 1954.0) scale(1 1.04)" font-size="20" font-weight="bold" text-anchor="middle" fill="#f00">h</text>
<text transform="translate(443.5 1954.0) scale(1 1.04)" font-size="20" font-weight="bold" text-anchor="middle" fill="#f00">d/8</text>
<text transform="translate(484.2 1954.0) scale(1 1.04)" font-size="20" font-weight="bold" text-anchor="middle" fill="#f00">d/4</text>
<text transform="translate(524.8 1954.0) scale(1 1.04)" font-size="20" font-weight="bold" text-anchor="middle" fill="#f00">d/2</text>
<text transform="translate(565.4 1954.0) scale(1 1.04)" font-size="20" font-weight="bold" text-anchor="middle" fill="#f00">day</text>
<text transform="translate(629.8 1954.0) scale(1 1.04)" font-size="20" font-weight="bold" text-anchor="middle" fill="#f00">ddd</text>
<text transform="translate(679.5 1954.0) scale(1 1.04)" font-size="20" font-weight="bold" text-anchor="middle" fill="#f00">wk</text>
<g clip-path="url(#cl)"><circle cx="338.5" cy="1961.5" r="4.8"/><circle cx="379.1" cy="1961.5" r="4.8"/><circle cx="443.5" cy="1961.5" r="4.8"/><circle cx="484.2" cy="1961.5" r="4.8"/><circle cx="524.8" cy="1961.5" r="4.8"/><circle cx="565.4" cy="1961.5" r="4.8"/><circle cx="629.8" cy="1961.5" r="4.8"/><circle cx="679.5" cy="1961.5" r="4.8"/></g>
<path d="M853.5 1511V1962M1393.5 1511V1962M853 1511.5H1394M853 1961.5H1394" stroke="#000" stroke-width="1" fill="none" shape-rendering="crispEdges"/>
<path d="M885.000 1497V1512M885.000 1961V1975M1012.000 1497V1512M1012.000 1961V1975M1139.000 1497V1512M1139.000 1961V1975M1266.000 1497V1512M1266.000 1961V1975M1393.000 1497V1512M1393.000 1961V1975M948.500 1504V1512M948.500 1961V1968M1075.500 1504V1512M1075.500 1961V1968M1202.500 1504V1512M1202.500 1961V1968M1329.500 1504V1512M1329.500 1961V1968" stroke="#000" stroke-width="2.2" fill="none" shape-rendering="crispEdges"/>
<path d="M840 1601.000H854M1393 1601.000H1407M840 1781.000H854M1393 1781.000H1407M840 1961.000H854M1393 1961.000H1407M846 1511.000H854M1393 1511.000H1400M846 1691.000H854M1393 1691.000H1400M846 1871.000H854M1393 1871.000H1400" stroke="#000" stroke-width="2.2" fill="none" shape-rendering="crispEdges"/>
<text transform="translate(829.0 1612.0) scale(1 1.1)" font-size="30" text-anchor="end"><tspan dy="3.2">−</tspan><tspan dy="-3.2">9</tspan></text>
<text transform="translate(829.0 1792.0) scale(1 1.1)" font-size="30" text-anchor="end"><tspan dy="3.2">−</tspan><tspan dy="-3.2">10</tspan></text>
<text transform="translate(829.0 1972.0) scale(1 1.1)" font-size="30" text-anchor="end"><tspan dy="3.2">−</tspan><tspan dy="-3.2">11</tspan></text>
<text transform="translate(885.0 2009.0) scale(1 1.1)" font-size="30" text-anchor="middle">2</text>
<text transform="translate(1012.0 2009.0) scale(1 1.1)" font-size="30" text-anchor="middle">3</text>
<text transform="translate(1139.0 2009.0) scale(1 1.1)" font-size="30" text-anchor="middle">4</text>
<text transform="translate(1266.0 2009.0) scale(1 1.1)" font-size="30" text-anchor="middle">5</text>
<text transform="translate(1393.0 2009.0) scale(1 1.1)" font-size="30" text-anchor="middle">6</text>
<text transform="translate(1123.0 2038.5) scale(1 1.04)" font-size="30" font-weight="bold" text-anchor="middle">Averaging time, log(<tspan font-weight="normal">&#964;</tspan>) (s)</text>
<text transform="translate(766.5 1733.5) rotate(-90)" font-size="30" font-weight="bold" text-anchor="middle">Time deviation <tspan font-weight="normal">(10</tspan><tspan font-weight="normal" font-size="21" dy="-11">-10</tspan><tspan font-weight="normal" dy="11"> s)</tspan></text>
<text transform="translate(1010.8 1639.8) scale(1 1.04)" font-size="17.5" font-weight="bold" text-anchor="middle" fill="#f00">4.8</text>
<text transform="translate(1048.9 1664.7) scale(1 1.04)" font-size="17.5" font-weight="bold" text-anchor="middle" fill="#f00">3.5</text>
<text transform="translate(1087.3 1691.9) scale(1 1.04)" font-size="17.5" font-weight="bold" text-anchor="middle" fill="#f00">2.5</text>
<text transform="translate(1125.5 1695.9) scale(1 1.04)" font-size="17.5" font-weight="bold" text-anchor="middle" fill="#f00">2.3</text>
<text transform="translate(1164.1 1698.6) scale(1 1.04)" font-size="17.5" font-weight="bold" text-anchor="middle" fill="#f00">2.3</text>
<text transform="translate(1201.9 1744.5) scale(1 1.04)" font-size="17.5" font-weight="bold" text-anchor="middle" fill="#f00">1.3</text>
<text transform="translate(1240.5 1739.7) scale(1 1.04)" font-size="17.5" font-weight="bold" text-anchor="middle" fill="#f00">1.3</text>
<text transform="translate(1278.5 1764.0) scale(1 1.04)" font-size="17.5" font-weight="bold" text-anchor="middle" fill="#f00">1.0</text>
<text transform="translate(1316.8 1774.6) scale(1 1.04)" font-size="17.5" font-weight="bold" text-anchor="middle" fill="#f00">0.9</text>
<text transform="translate(1355.0 1805.6) scale(1 1.04)" font-size="17.5" font-weight="bold" text-anchor="middle" fill="#f00">0.6</text>
<g fill="#000"><circle cx="1010.8" cy="1658.0" r="6.1"/><circle cx="1048.9" cy="1682.9" r="6.1"/><circle cx="1087.3" cy="1710.1" r="6.1"/><circle cx="1125.5" cy="1714.1" r="6.1"/><circle cx="1164.1" cy="1716.8" r="6.1"/><circle cx="1201.9" cy="1762.7" r="6.1"/><circle cx="1240.5" cy="1757.9" r="6.1"/><circle cx="1278.5" cy="1782.2" r="6.1"/><circle cx="1316.8" cy="1792.8" r="6.1"/><circle cx="1355.0" cy="1823.8" r="6.1"/></g>
<clipPath id="cr"><rect x="853" y="1511" width="541" height="450.5"/></clipPath>
<text transform="translate(1044.4 1943.0) scale(1 1.04)" font-size="20" font-weight="bold" text-anchor="middle" fill="#f00">h/2</text>
<text transform="translate(1082.7 1943.0) scale(1 1.04)" font-size="20" font-weight="bold" text-anchor="middle" fill="#f00">h</text>
<text transform="translate(1143.2 1943.0) scale(1 1.04)" font-size="20" font-weight="bold" text-anchor="middle" fill="#f00">d/8</text>
<text transform="translate(1181.5 1943.0) scale(1 1.04)" font-size="20" font-weight="bold" text-anchor="middle" fill="#f00">d/4</text>
<text transform="translate(1219.7 1943.0) scale(1 1.04)" font-size="20" font-weight="bold" text-anchor="middle" fill="#f00">d/2</text>
<text transform="translate(1257.9 1943.0) scale(1 1.04)" font-size="20" font-weight="bold" text-anchor="middle" fill="#f00">day</text>
<text transform="translate(1318.5 1943.0) scale(1 1.04)" font-size="20" font-weight="bold" text-anchor="middle" fill="#f00">ddd</text>
<text transform="translate(1365.3 1943.0) scale(1 1.04)" font-size="20" font-weight="bold" text-anchor="middle" fill="#f00">wk</text>
<g clip-path="url(#cr)"><circle cx="1044.4" cy="1959.2" r="6.2"/><circle cx="1082.7" cy="1959.2" r="6.2"/><circle cx="1143.2" cy="1959.2" r="6.2"/><circle cx="1181.5" cy="1959.2" r="6.2"/><circle cx="1219.7" cy="1959.2" r="6.2"/><circle cx="1257.9" cy="1959.2" r="6.2"/><circle cx="1318.5" cy="1959.2" r="6.2"/><circle cx="1365.3" cy="1959.2" r="6.2"/></g>
</svg>
</body></html>
